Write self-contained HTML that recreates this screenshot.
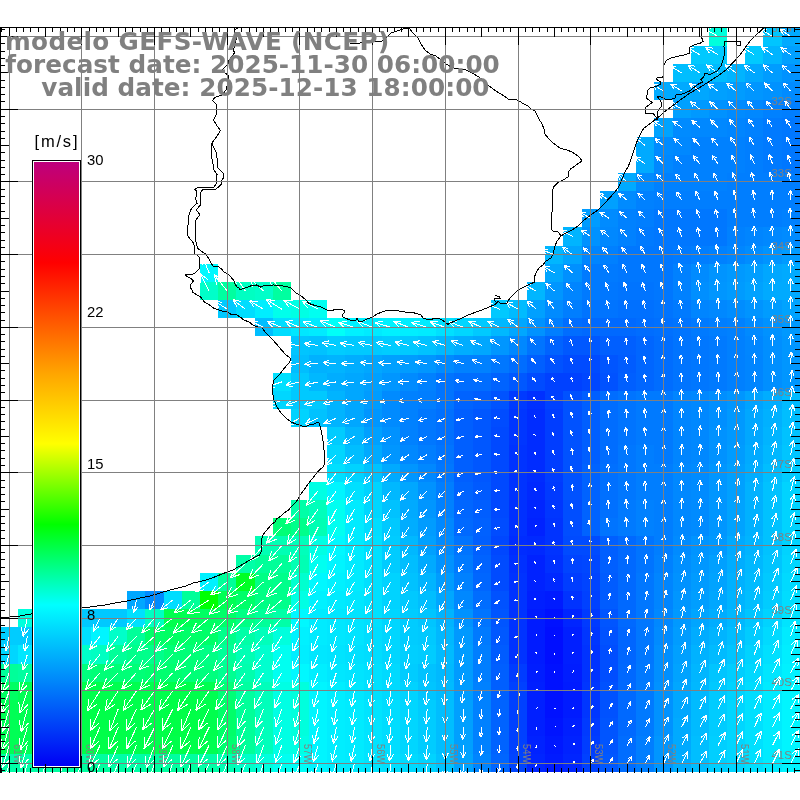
<!DOCTYPE html><html><head><meta charset="utf-8"><title>GEFS-WAVE</title><style>html,body{margin:0;padding:0;background:#fff;width:800px;height:800px;overflow:hidden}svg{display:block}</style></head><body><svg width="800" height="800" viewBox="0 0 800 800"><rect width="800" height="800" fill="#fff"/><g shape-rendering="crispEdges"><rect x="0" y="627" width="18" height="18" fill="#00ccff"/><rect x="0" y="645" width="18" height="19" fill="#00d6ff"/><rect x="0" y="664" width="18" height="18" fill="#00ff99"/><rect x="0" y="682" width="18" height="18" fill="#00ff63"/><rect x="0" y="700" width="18" height="18" fill="#00ff55"/><rect x="0" y="718" width="18" height="18" fill="#00ff55"/><rect x="0" y="736" width="18" height="18" fill="#00ff55"/><rect x="0" y="754" width="18" height="18" fill="#00ffa7"/><rect x="18" y="609" width="18" height="18" fill="#00ffdd"/><rect x="18" y="627" width="18" height="18" fill="#00ccff"/><rect x="18" y="645" width="18" height="19" fill="#00e7ff"/><rect x="18" y="664" width="18" height="18" fill="#00ffa0"/><rect x="18" y="682" width="18" height="18" fill="#00ff55"/><rect x="18" y="700" width="18" height="18" fill="#00ff53"/><rect x="18" y="718" width="18" height="18" fill="#00ff53"/><rect x="18" y="736" width="18" height="18" fill="#00ff53"/><rect x="18" y="754" width="18" height="18" fill="#00ffa7"/><rect x="36" y="609" width="19" height="18" fill="#00eeff"/><rect x="36" y="627" width="19" height="18" fill="#00d6ff"/><rect x="36" y="645" width="19" height="19" fill="#00ffff"/><rect x="36" y="664" width="19" height="18" fill="#00ff8b"/><rect x="36" y="682" width="19" height="18" fill="#00ff51"/><rect x="36" y="700" width="19" height="18" fill="#00ff4f"/><rect x="36" y="718" width="19" height="18" fill="#00ff4f"/><rect x="36" y="736" width="19" height="18" fill="#00ff51"/><rect x="36" y="754" width="19" height="18" fill="#00ffa7"/><rect x="55" y="609" width="18" height="18" fill="#00ddff"/><rect x="55" y="627" width="18" height="18" fill="#00ddff"/><rect x="55" y="645" width="18" height="19" fill="#00ffdd"/><rect x="55" y="664" width="18" height="18" fill="#00ff85"/><rect x="55" y="682" width="18" height="18" fill="#00ff4f"/><rect x="55" y="700" width="18" height="18" fill="#00ff4b"/><rect x="55" y="718" width="18" height="18" fill="#00ff4b"/><rect x="55" y="736" width="18" height="18" fill="#00ff4d"/><rect x="55" y="754" width="18" height="18" fill="#00ffa0"/><rect x="73" y="609" width="18" height="18" fill="#00c9ff"/><rect x="73" y="627" width="18" height="18" fill="#00e0ff"/><rect x="73" y="645" width="18" height="19" fill="#00ffc9"/><rect x="73" y="664" width="18" height="18" fill="#00ff7e"/><rect x="73" y="682" width="18" height="18" fill="#00ff4d"/><rect x="73" y="700" width="18" height="18" fill="#00ff49"/><rect x="73" y="718" width="18" height="18" fill="#00ff49"/><rect x="73" y="736" width="18" height="18" fill="#00ff4b"/><rect x="73" y="754" width="18" height="18" fill="#00ffa0"/><rect x="91" y="609" width="18" height="18" fill="#00c9ff"/><rect x="91" y="627" width="18" height="18" fill="#00f5ff"/><rect x="91" y="645" width="18" height="19" fill="#00ffc2"/><rect x="91" y="664" width="18" height="18" fill="#00ff77"/><rect x="91" y="682" width="18" height="18" fill="#00ff4d"/><rect x="91" y="700" width="18" height="18" fill="#00ff49"/><rect x="91" y="718" width="18" height="18" fill="#00ff49"/><rect x="91" y="736" width="18" height="18" fill="#00ff4b"/><rect x="91" y="754" width="18" height="18" fill="#00ffa0"/><rect x="109" y="609" width="18" height="18" fill="#00c9ff"/><rect x="109" y="627" width="18" height="18" fill="#00ffc9"/><rect x="109" y="645" width="18" height="19" fill="#00ff99"/><rect x="109" y="664" width="18" height="18" fill="#00ff77"/><rect x="109" y="682" width="18" height="18" fill="#00ff4f"/><rect x="109" y="700" width="18" height="18" fill="#00ff49"/><rect x="109" y="718" width="18" height="18" fill="#00ff49"/><rect x="109" y="736" width="18" height="18" fill="#00ff4b"/><rect x="109" y="754" width="18" height="18" fill="#00ffa7"/><rect x="127" y="591" width="18" height="18" fill="#00a7ff"/><rect x="127" y="609" width="18" height="18" fill="#00e0ff"/><rect x="127" y="627" width="18" height="18" fill="#00ff99"/><rect x="127" y="645" width="18" height="19" fill="#00ff8b"/><rect x="127" y="664" width="18" height="18" fill="#00ff77"/><rect x="127" y="682" width="18" height="18" fill="#00ff4f"/><rect x="127" y="700" width="18" height="18" fill="#00ff4b"/><rect x="127" y="718" width="18" height="18" fill="#00ff4b"/><rect x="127" y="736" width="18" height="18" fill="#00ff4d"/><rect x="127" y="754" width="18" height="18" fill="#00ffa7"/><rect x="145" y="591" width="19" height="18" fill="#008bff"/><rect x="145" y="609" width="19" height="18" fill="#00ffc2"/><rect x="145" y="627" width="19" height="18" fill="#00ff69"/><rect x="145" y="645" width="19" height="19" fill="#00ff8b"/><rect x="145" y="664" width="19" height="18" fill="#00ff70"/><rect x="145" y="682" width="19" height="18" fill="#00ff4d"/><rect x="145" y="700" width="19" height="18" fill="#00ff4b"/><rect x="145" y="718" width="19" height="18" fill="#00ff4b"/><rect x="145" y="736" width="19" height="18" fill="#00ff4d"/><rect x="145" y="754" width="19" height="18" fill="#00ffa0"/><rect x="164" y="591" width="18" height="18" fill="#00ddff"/><rect x="164" y="609" width="18" height="18" fill="#00ff4e"/><rect x="164" y="627" width="18" height="18" fill="#00ff63"/><rect x="164" y="645" width="18" height="19" fill="#00ff77"/><rect x="164" y="664" width="18" height="18" fill="#00ff70"/><rect x="164" y="682" width="18" height="18" fill="#00ff4b"/><rect x="164" y="700" width="18" height="18" fill="#00ff47"/><rect x="164" y="718" width="18" height="18" fill="#00ff47"/><rect x="164" y="736" width="18" height="18" fill="#00ff4b"/><rect x="164" y="754" width="18" height="18" fill="#00ffa0"/><rect x="182" y="591" width="18" height="18" fill="#00ff99"/><rect x="182" y="609" width="18" height="18" fill="#00ff55"/><rect x="182" y="627" width="18" height="18" fill="#00ff69"/><rect x="182" y="645" width="18" height="19" fill="#00ff77"/><rect x="182" y="664" width="18" height="18" fill="#00ff77"/><rect x="182" y="682" width="18" height="18" fill="#00ff4b"/><rect x="182" y="700" width="18" height="18" fill="#00ff47"/><rect x="182" y="718" width="18" height="18" fill="#00ff47"/><rect x="182" y="736" width="18" height="18" fill="#00ff4b"/><rect x="182" y="754" width="18" height="18" fill="#00ffa0"/><rect x="200" y="264" width="18" height="18" fill="#00f8ff"/><rect x="200" y="282" width="18" height="18" fill="#00ffc9"/><rect x="200" y="573" width="18" height="18" fill="#00f1ff"/><rect x="200" y="591" width="18" height="18" fill="#00ff03"/><rect x="200" y="609" width="18" height="18" fill="#00ff63"/><rect x="200" y="627" width="18" height="18" fill="#00ff69"/><rect x="200" y="645" width="18" height="19" fill="#00ff85"/><rect x="200" y="664" width="18" height="18" fill="#00ff7e"/><rect x="200" y="682" width="18" height="18" fill="#00ff51"/><rect x="200" y="700" width="18" height="18" fill="#00ff4d"/><rect x="200" y="718" width="18" height="18" fill="#00ff4d"/><rect x="200" y="736" width="18" height="18" fill="#00ff51"/><rect x="200" y="754" width="18" height="18" fill="#00ffa7"/><rect x="218" y="282" width="18" height="18" fill="#00ffa0"/><rect x="218" y="300" width="18" height="18" fill="#00c9ff"/><rect x="218" y="573" width="18" height="18" fill="#00ff99"/><rect x="218" y="591" width="18" height="18" fill="#00ff55"/><rect x="218" y="609" width="18" height="18" fill="#00ff69"/><rect x="218" y="627" width="18" height="18" fill="#00ff8b"/><rect x="218" y="645" width="18" height="19" fill="#00ff99"/><rect x="218" y="664" width="18" height="18" fill="#00ff92"/><rect x="218" y="682" width="18" height="18" fill="#00ff77"/><rect x="218" y="700" width="18" height="18" fill="#00ff69"/><rect x="218" y="718" width="18" height="18" fill="#00ff69"/><rect x="218" y="736" width="18" height="18" fill="#00ff70"/><rect x="218" y="754" width="18" height="18" fill="#00ffb4"/><rect x="236" y="282" width="19" height="18" fill="#00ffc2"/><rect x="236" y="300" width="19" height="18" fill="#00ddff"/><rect x="236" y="555" width="19" height="18" fill="#00ffa7"/><rect x="236" y="573" width="19" height="18" fill="#00ff25"/><rect x="236" y="591" width="19" height="18" fill="#00ff69"/><rect x="236" y="609" width="19" height="18" fill="#00ff85"/><rect x="236" y="627" width="19" height="18" fill="#00ffa7"/><rect x="236" y="645" width="19" height="19" fill="#00ffb4"/><rect x="236" y="664" width="19" height="18" fill="#00ffad"/><rect x="236" y="682" width="19" height="18" fill="#00ffa0"/><rect x="236" y="700" width="19" height="18" fill="#00ff99"/><rect x="236" y="718" width="19" height="18" fill="#00ff99"/><rect x="236" y="736" width="19" height="18" fill="#00ff99"/><rect x="236" y="754" width="19" height="18" fill="#00ffc9"/><rect x="255" y="282" width="18" height="18" fill="#00ffc9"/><rect x="255" y="300" width="18" height="18" fill="#00eeff"/><rect x="255" y="318" width="18" height="18" fill="#00beff"/><rect x="255" y="536" width="18" height="19" fill="#00ffb4"/><rect x="255" y="555" width="18" height="18" fill="#00ff99"/><rect x="255" y="573" width="18" height="18" fill="#00ff85"/><rect x="255" y="591" width="18" height="18" fill="#00ff85"/><rect x="255" y="609" width="18" height="18" fill="#00ff99"/><rect x="255" y="627" width="18" height="18" fill="#00ffbb"/><rect x="255" y="645" width="18" height="19" fill="#00ffcf"/><rect x="255" y="664" width="18" height="18" fill="#00ffcf"/><rect x="255" y="682" width="18" height="18" fill="#00ffbb"/><rect x="255" y="700" width="18" height="18" fill="#00ffbb"/><rect x="255" y="718" width="18" height="18" fill="#00ffbb"/><rect x="255" y="736" width="18" height="18" fill="#00ffbb"/><rect x="255" y="754" width="18" height="18" fill="#00ffdd"/><rect x="273" y="282" width="18" height="18" fill="#00ffa0"/><rect x="273" y="300" width="18" height="18" fill="#00ffeb"/><rect x="273" y="318" width="18" height="18" fill="#00ddff"/><rect x="273" y="373" width="18" height="18" fill="#00e0ff"/><rect x="273" y="391" width="18" height="18" fill="#00d6ff"/><rect x="273" y="518" width="18" height="18" fill="#00ff77"/><rect x="273" y="536" width="18" height="19" fill="#00ffb4"/><rect x="273" y="555" width="18" height="18" fill="#00ff99"/><rect x="273" y="573" width="18" height="18" fill="#00ff8b"/><rect x="273" y="591" width="18" height="18" fill="#00ff8b"/><rect x="273" y="609" width="18" height="18" fill="#00ffa7"/><rect x="273" y="627" width="18" height="18" fill="#00ffdd"/><rect x="273" y="645" width="18" height="19" fill="#00fff1"/><rect x="273" y="664" width="18" height="18" fill="#00fff1"/><rect x="273" y="682" width="18" height="18" fill="#00ffe4"/><rect x="273" y="700" width="18" height="18" fill="#00ffe4"/><rect x="273" y="718" width="18" height="18" fill="#00ffe4"/><rect x="273" y="736" width="18" height="18" fill="#00ffe4"/><rect x="273" y="754" width="18" height="18" fill="#00fff1"/><rect x="291" y="300" width="18" height="18" fill="#00ffe4"/><rect x="291" y="318" width="18" height="18" fill="#00e7ff"/><rect x="291" y="336" width="18" height="19" fill="#00c5ff"/><rect x="291" y="355" width="18" height="18" fill="#00beff"/><rect x="291" y="373" width="18" height="18" fill="#00c9ff"/><rect x="291" y="391" width="18" height="18" fill="#00c9ff"/><rect x="291" y="409" width="18" height="18" fill="#00d3ff"/><rect x="291" y="500" width="18" height="18" fill="#00ffa7"/><rect x="291" y="518" width="18" height="18" fill="#00ff8b"/><rect x="291" y="536" width="18" height="19" fill="#00ffbb"/><rect x="291" y="555" width="18" height="18" fill="#00ffb4"/><rect x="291" y="573" width="18" height="18" fill="#00ffcf"/><rect x="291" y="591" width="18" height="18" fill="#00ffe4"/><rect x="291" y="609" width="18" height="18" fill="#00f8ff"/><rect x="291" y="627" width="18" height="18" fill="#00f1ff"/><rect x="291" y="645" width="18" height="19" fill="#00eeff"/><rect x="291" y="664" width="18" height="18" fill="#00f8ff"/><rect x="291" y="682" width="18" height="18" fill="#00ffdd"/><rect x="291" y="700" width="18" height="18" fill="#00ffdd"/><rect x="291" y="718" width="18" height="18" fill="#00ffdd"/><rect x="291" y="736" width="18" height="18" fill="#00ffe4"/><rect x="291" y="754" width="18" height="18" fill="#00fff8"/><rect x="309" y="300" width="18" height="18" fill="#00fff1"/><rect x="309" y="318" width="18" height="18" fill="#00ebff"/><rect x="309" y="336" width="18" height="19" fill="#00c2ff"/><rect x="309" y="355" width="18" height="18" fill="#00b1ff"/><rect x="309" y="373" width="18" height="18" fill="#00b8ff"/><rect x="309" y="391" width="18" height="18" fill="#00c9ff"/><rect x="309" y="409" width="18" height="18" fill="#00c2ff"/><rect x="309" y="482" width="18" height="18" fill="#00ffe4"/><rect x="309" y="500" width="18" height="18" fill="#00ffbb"/><rect x="309" y="518" width="18" height="18" fill="#00ffb4"/><rect x="309" y="536" width="18" height="19" fill="#00ffe4"/><rect x="309" y="555" width="18" height="18" fill="#00fff1"/><rect x="309" y="573" width="18" height="18" fill="#00f8ff"/><rect x="309" y="591" width="18" height="18" fill="#00f1ff"/><rect x="309" y="609" width="18" height="18" fill="#00ebff"/><rect x="309" y="627" width="18" height="18" fill="#00ebff"/><rect x="309" y="645" width="18" height="19" fill="#00e7ff"/><rect x="309" y="664" width="18" height="18" fill="#00eeff"/><rect x="309" y="682" width="18" height="18" fill="#00f5ff"/><rect x="309" y="700" width="18" height="18" fill="#00f5ff"/><rect x="309" y="718" width="18" height="18" fill="#00f5ff"/><rect x="309" y="736" width="18" height="18" fill="#00f5ff"/><rect x="309" y="754" width="18" height="18" fill="#00f5ff"/><rect x="327" y="318" width="18" height="18" fill="#00fff8"/><rect x="327" y="336" width="18" height="19" fill="#00ccff"/><rect x="327" y="355" width="18" height="18" fill="#00b4ff"/><rect x="327" y="373" width="18" height="18" fill="#00adff"/><rect x="327" y="391" width="18" height="18" fill="#00b4ff"/><rect x="327" y="409" width="18" height="18" fill="#00b4ff"/><rect x="327" y="427" width="18" height="18" fill="#00ccff"/><rect x="327" y="445" width="18" height="19" fill="#00d6ff"/><rect x="327" y="464" width="18" height="18" fill="#00e0ff"/><rect x="327" y="482" width="18" height="18" fill="#00f5ff"/><rect x="327" y="500" width="18" height="18" fill="#00fff1"/><rect x="327" y="518" width="18" height="18" fill="#00fff1"/><rect x="327" y="536" width="18" height="19" fill="#00f8ff"/><rect x="327" y="555" width="18" height="18" fill="#00f5ff"/><rect x="327" y="573" width="18" height="18" fill="#00f1ff"/><rect x="327" y="591" width="18" height="18" fill="#00ebff"/><rect x="327" y="609" width="18" height="18" fill="#00e7ff"/><rect x="327" y="627" width="18" height="18" fill="#00e7ff"/><rect x="327" y="645" width="18" height="19" fill="#00e4ff"/><rect x="327" y="664" width="18" height="18" fill="#00e7ff"/><rect x="327" y="682" width="18" height="18" fill="#00eeff"/><rect x="327" y="700" width="18" height="18" fill="#00eeff"/><rect x="327" y="718" width="18" height="18" fill="#00eeff"/><rect x="327" y="736" width="18" height="18" fill="#00eeff"/><rect x="327" y="754" width="18" height="18" fill="#00eeff"/><rect x="345" y="318" width="19" height="18" fill="#00f1ff"/><rect x="345" y="336" width="19" height="19" fill="#00c9ff"/><rect x="345" y="355" width="19" height="18" fill="#00adff"/><rect x="345" y="373" width="19" height="18" fill="#00a7ff"/><rect x="345" y="391" width="19" height="18" fill="#00a7ff"/><rect x="345" y="409" width="19" height="18" fill="#00a7ff"/><rect x="345" y="427" width="19" height="18" fill="#00b4ff"/><rect x="345" y="445" width="19" height="19" fill="#00beff"/><rect x="345" y="464" width="19" height="18" fill="#00d3ff"/><rect x="345" y="482" width="19" height="18" fill="#00e0ff"/><rect x="345" y="500" width="19" height="18" fill="#00ebff"/><rect x="345" y="518" width="19" height="18" fill="#00ebff"/><rect x="345" y="536" width="19" height="19" fill="#00ebff"/><rect x="345" y="555" width="19" height="18" fill="#00ebff"/><rect x="345" y="573" width="19" height="18" fill="#00ebff"/><rect x="345" y="591" width="19" height="18" fill="#00e7ff"/><rect x="345" y="609" width="19" height="18" fill="#00e4ff"/><rect x="345" y="627" width="19" height="18" fill="#00e4ff"/><rect x="345" y="645" width="19" height="19" fill="#00e0ff"/><rect x="345" y="664" width="19" height="18" fill="#00e4ff"/><rect x="345" y="682" width="19" height="18" fill="#00e7ff"/><rect x="345" y="700" width="19" height="18" fill="#00ebff"/><rect x="345" y="718" width="19" height="18" fill="#00ebff"/><rect x="345" y="736" width="19" height="18" fill="#00ebff"/><rect x="345" y="754" width="19" height="18" fill="#00ebff"/><rect x="364" y="318" width="18" height="18" fill="#00ebff"/><rect x="364" y="336" width="18" height="19" fill="#00c9ff"/><rect x="364" y="355" width="18" height="18" fill="#00a7ff"/><rect x="364" y="373" width="18" height="18" fill="#00a0ff"/><rect x="364" y="391" width="18" height="18" fill="#009cff"/><rect x="364" y="409" width="18" height="18" fill="#0096ff"/><rect x="364" y="427" width="18" height="18" fill="#00a0ff"/><rect x="364" y="445" width="18" height="19" fill="#00aaff"/><rect x="364" y="464" width="18" height="18" fill="#00c2ff"/><rect x="364" y="482" width="18" height="18" fill="#00d3ff"/><rect x="364" y="500" width="18" height="18" fill="#00d6ff"/><rect x="364" y="518" width="18" height="18" fill="#00ddff"/><rect x="364" y="536" width="18" height="19" fill="#00e0ff"/><rect x="364" y="555" width="18" height="18" fill="#00e0ff"/><rect x="364" y="573" width="18" height="18" fill="#00e0ff"/><rect x="364" y="591" width="18" height="18" fill="#00e0ff"/><rect x="364" y="609" width="18" height="18" fill="#00e0ff"/><rect x="364" y="627" width="18" height="18" fill="#00ddff"/><rect x="364" y="645" width="18" height="19" fill="#00ddff"/><rect x="364" y="664" width="18" height="18" fill="#00e0ff"/><rect x="364" y="682" width="18" height="18" fill="#00e0ff"/><rect x="364" y="700" width="18" height="18" fill="#00e4ff"/><rect x="364" y="718" width="18" height="18" fill="#00e4ff"/><rect x="364" y="736" width="18" height="18" fill="#00e4ff"/><rect x="364" y="754" width="18" height="18" fill="#00e4ff"/><rect x="382" y="318" width="18" height="18" fill="#00f1ff"/><rect x="382" y="336" width="18" height="19" fill="#00ccff"/><rect x="382" y="355" width="18" height="18" fill="#00a0ff"/><rect x="382" y="373" width="18" height="18" fill="#0096ff"/><rect x="382" y="391" width="18" height="18" fill="#008bff"/><rect x="382" y="409" width="18" height="18" fill="#008bff"/><rect x="382" y="427" width="18" height="18" fill="#0092ff"/><rect x="382" y="445" width="18" height="19" fill="#0096ff"/><rect x="382" y="464" width="18" height="18" fill="#00aaff"/><rect x="382" y="482" width="18" height="18" fill="#00b8ff"/><rect x="382" y="500" width="18" height="18" fill="#00c2ff"/><rect x="382" y="518" width="18" height="18" fill="#00c9ff"/><rect x="382" y="536" width="18" height="19" fill="#00ccff"/><rect x="382" y="555" width="18" height="18" fill="#00ccff"/><rect x="382" y="573" width="18" height="18" fill="#00d3ff"/><rect x="382" y="591" width="18" height="18" fill="#00d3ff"/><rect x="382" y="609" width="18" height="18" fill="#00d6ff"/><rect x="382" y="627" width="18" height="18" fill="#00d6ff"/><rect x="382" y="645" width="18" height="19" fill="#00d6ff"/><rect x="382" y="664" width="18" height="18" fill="#00daff"/><rect x="382" y="682" width="18" height="18" fill="#00daff"/><rect x="382" y="700" width="18" height="18" fill="#00ddff"/><rect x="382" y="718" width="18" height="18" fill="#00ddff"/><rect x="382" y="736" width="18" height="18" fill="#00ddff"/><rect x="382" y="754" width="18" height="18" fill="#00e0ff"/><rect x="400" y="318" width="18" height="18" fill="#00eeff"/><rect x="400" y="336" width="18" height="19" fill="#00c9ff"/><rect x="400" y="355" width="18" height="18" fill="#009cff"/><rect x="400" y="373" width="18" height="18" fill="#008bff"/><rect x="400" y="391" width="18" height="18" fill="#0081ff"/><rect x="400" y="409" width="18" height="18" fill="#0081ff"/><rect x="400" y="427" width="18" height="18" fill="#0081ff"/><rect x="400" y="445" width="18" height="19" fill="#0088ff"/><rect x="400" y="464" width="18" height="18" fill="#0096ff"/><rect x="400" y="482" width="18" height="18" fill="#00a7ff"/><rect x="400" y="500" width="18" height="18" fill="#00aaff"/><rect x="400" y="518" width="18" height="18" fill="#00adff"/><rect x="400" y="536" width="18" height="19" fill="#00b8ff"/><rect x="400" y="555" width="18" height="18" fill="#00beff"/><rect x="400" y="573" width="18" height="18" fill="#00c2ff"/><rect x="400" y="591" width="18" height="18" fill="#00c9ff"/><rect x="400" y="609" width="18" height="18" fill="#00ccff"/><rect x="400" y="627" width="18" height="18" fill="#00ccff"/><rect x="400" y="645" width="18" height="19" fill="#00cfff"/><rect x="400" y="664" width="18" height="18" fill="#00ccff"/><rect x="400" y="682" width="18" height="18" fill="#00d3ff"/><rect x="400" y="700" width="18" height="18" fill="#00d6ff"/><rect x="400" y="718" width="18" height="18" fill="#00d6ff"/><rect x="400" y="736" width="18" height="18" fill="#00d6ff"/><rect x="400" y="754" width="18" height="18" fill="#00daff"/><rect x="418" y="318" width="18" height="18" fill="#00ebff"/><rect x="418" y="336" width="18" height="19" fill="#00c2ff"/><rect x="418" y="355" width="18" height="18" fill="#0096ff"/><rect x="418" y="373" width="18" height="18" fill="#0081ff"/><rect x="418" y="391" width="18" height="18" fill="#007eff"/><rect x="418" y="409" width="18" height="18" fill="#0077ff"/><rect x="418" y="427" width="18" height="18" fill="#0077ff"/><rect x="418" y="445" width="18" height="19" fill="#007eff"/><rect x="418" y="464" width="18" height="18" fill="#0088ff"/><rect x="418" y="482" width="18" height="18" fill="#0092ff"/><rect x="418" y="500" width="18" height="18" fill="#0096ff"/><rect x="418" y="518" width="18" height="18" fill="#009cff"/><rect x="418" y="536" width="18" height="19" fill="#00a0ff"/><rect x="418" y="555" width="18" height="18" fill="#00aaff"/><rect x="418" y="573" width="18" height="18" fill="#00b4ff"/><rect x="418" y="591" width="18" height="18" fill="#00beff"/><rect x="418" y="609" width="18" height="18" fill="#00c5ff"/><rect x="418" y="627" width="18" height="18" fill="#00c9ff"/><rect x="418" y="645" width="18" height="19" fill="#00ccff"/><rect x="418" y="664" width="18" height="18" fill="#00c2ff"/><rect x="418" y="682" width="18" height="18" fill="#00c5ff"/><rect x="418" y="700" width="18" height="18" fill="#00ccff"/><rect x="418" y="718" width="18" height="18" fill="#00ccff"/><rect x="418" y="736" width="18" height="18" fill="#00ccff"/><rect x="418" y="754" width="18" height="18" fill="#00d3ff"/><rect x="436" y="318" width="18" height="18" fill="#00e0ff"/><rect x="436" y="336" width="18" height="19" fill="#00b8ff"/><rect x="436" y="355" width="18" height="18" fill="#008bff"/><rect x="436" y="373" width="18" height="18" fill="#0074ff"/><rect x="436" y="391" width="18" height="18" fill="#0074ff"/><rect x="436" y="409" width="18" height="18" fill="#0070ff"/><rect x="436" y="427" width="18" height="18" fill="#0070ff"/><rect x="436" y="445" width="18" height="19" fill="#0074ff"/><rect x="436" y="464" width="18" height="18" fill="#0077ff"/><rect x="436" y="482" width="18" height="18" fill="#007eff"/><rect x="436" y="500" width="18" height="18" fill="#0081ff"/><rect x="436" y="518" width="18" height="18" fill="#0088ff"/><rect x="436" y="536" width="18" height="19" fill="#008bff"/><rect x="436" y="555" width="18" height="18" fill="#0092ff"/><rect x="436" y="573" width="18" height="18" fill="#009cff"/><rect x="436" y="591" width="18" height="18" fill="#00a7ff"/><rect x="436" y="609" width="18" height="18" fill="#00b4ff"/><rect x="436" y="627" width="18" height="18" fill="#00b8ff"/><rect x="436" y="645" width="18" height="19" fill="#00bbff"/><rect x="436" y="664" width="18" height="18" fill="#00b9ff"/><rect x="436" y="682" width="18" height="18" fill="#00bbff"/><rect x="436" y="700" width="18" height="18" fill="#00beff"/><rect x="436" y="718" width="18" height="18" fill="#00beff"/><rect x="436" y="736" width="18" height="18" fill="#00beff"/><rect x="436" y="754" width="18" height="18" fill="#00c2ff"/><rect x="454" y="318" width="19" height="18" fill="#00d6ff"/><rect x="454" y="336" width="19" height="19" fill="#00adff"/><rect x="454" y="355" width="19" height="18" fill="#0081ff"/><rect x="454" y="373" width="19" height="18" fill="#006dff"/><rect x="454" y="391" width="19" height="18" fill="#0063ff"/><rect x="454" y="409" width="19" height="18" fill="#005fff"/><rect x="454" y="427" width="19" height="18" fill="#005fff"/><rect x="454" y="445" width="19" height="19" fill="#005fff"/><rect x="454" y="464" width="19" height="18" fill="#005fff"/><rect x="454" y="482" width="19" height="18" fill="#0063ff"/><rect x="454" y="500" width="19" height="18" fill="#0066ff"/><rect x="454" y="518" width="19" height="18" fill="#0069ff"/><rect x="454" y="536" width="19" height="19" fill="#0074ff"/><rect x="454" y="555" width="19" height="18" fill="#007aff"/><rect x="454" y="573" width="19" height="18" fill="#0081ff"/><rect x="454" y="591" width="19" height="18" fill="#0088ff"/><rect x="454" y="609" width="19" height="18" fill="#0092ff"/><rect x="454" y="627" width="19" height="18" fill="#0099ff"/><rect x="454" y="645" width="19" height="19" fill="#009cff"/><rect x="454" y="664" width="19" height="18" fill="#009bff"/><rect x="454" y="682" width="19" height="18" fill="#009cff"/><rect x="454" y="700" width="19" height="18" fill="#00a0ff"/><rect x="454" y="718" width="19" height="18" fill="#00a0ff"/><rect x="454" y="736" width="19" height="18" fill="#00a0ff"/><rect x="454" y="754" width="19" height="18" fill="#00a3ff"/><rect x="473" y="318" width="18" height="18" fill="#00c9ff"/><rect x="473" y="336" width="18" height="19" fill="#00a7ff"/><rect x="473" y="355" width="18" height="18" fill="#0081ff"/><rect x="473" y="373" width="18" height="18" fill="#006dff"/><rect x="473" y="391" width="18" height="18" fill="#005eff"/><rect x="473" y="409" width="18" height="18" fill="#0057ff"/><rect x="473" y="427" width="18" height="18" fill="#0057ff"/><rect x="473" y="445" width="18" height="19" fill="#0057ff"/><rect x="473" y="464" width="18" height="18" fill="#0057ff"/><rect x="473" y="482" width="18" height="18" fill="#005aff"/><rect x="473" y="500" width="18" height="18" fill="#005eff"/><rect x="473" y="518" width="18" height="18" fill="#0061ff"/><rect x="473" y="536" width="18" height="19" fill="#005fff"/><rect x="473" y="555" width="18" height="18" fill="#0063ff"/><rect x="473" y="573" width="18" height="18" fill="#0066ff"/><rect x="473" y="591" width="18" height="18" fill="#006dff"/><rect x="473" y="609" width="18" height="18" fill="#0074ff"/><rect x="473" y="627" width="18" height="18" fill="#007aff"/><rect x="473" y="645" width="18" height="19" fill="#007eff"/><rect x="473" y="664" width="18" height="18" fill="#007eff"/><rect x="473" y="682" width="18" height="18" fill="#0081ff"/><rect x="473" y="700" width="18" height="18" fill="#0081ff"/><rect x="473" y="718" width="18" height="18" fill="#0081ff"/><rect x="473" y="736" width="18" height="18" fill="#0081ff"/><rect x="473" y="754" width="18" height="18" fill="#0085ff"/><rect x="491" y="300" width="18" height="18" fill="#00c9ff"/><rect x="491" y="318" width="18" height="18" fill="#00b8ff"/><rect x="491" y="336" width="18" height="19" fill="#0096ff"/><rect x="491" y="355" width="18" height="18" fill="#0077ff"/><rect x="491" y="373" width="18" height="18" fill="#0063ff"/><rect x="491" y="391" width="18" height="18" fill="#0053ff"/><rect x="491" y="409" width="18" height="18" fill="#004cff"/><rect x="491" y="427" width="18" height="18" fill="#0049ff"/><rect x="491" y="445" width="18" height="19" fill="#0049ff"/><rect x="491" y="464" width="18" height="18" fill="#0049ff"/><rect x="491" y="482" width="18" height="18" fill="#0049ff"/><rect x="491" y="500" width="18" height="18" fill="#0049ff"/><rect x="491" y="518" width="18" height="18" fill="#004cff"/><rect x="491" y="536" width="18" height="19" fill="#0047ff"/><rect x="491" y="555" width="18" height="18" fill="#004bff"/><rect x="491" y="573" width="18" height="18" fill="#004bff"/><rect x="491" y="591" width="18" height="18" fill="#0052ff"/><rect x="491" y="609" width="18" height="18" fill="#0055ff"/><rect x="491" y="627" width="18" height="18" fill="#0058ff"/><rect x="491" y="645" width="18" height="19" fill="#005cff"/><rect x="491" y="664" width="18" height="18" fill="#005fff"/><rect x="491" y="682" width="18" height="18" fill="#005fff"/><rect x="491" y="700" width="18" height="18" fill="#0063ff"/><rect x="491" y="718" width="18" height="18" fill="#0063ff"/><rect x="491" y="736" width="18" height="18" fill="#0063ff"/><rect x="491" y="754" width="18" height="18" fill="#0066ff"/><rect x="509" y="300" width="18" height="18" fill="#00bbff"/><rect x="509" y="318" width="18" height="18" fill="#00a7ff"/><rect x="509" y="336" width="18" height="19" fill="#0088ff"/><rect x="509" y="355" width="18" height="18" fill="#006dff"/><rect x="509" y="373" width="18" height="18" fill="#0058ff"/><rect x="509" y="391" width="18" height="18" fill="#003aff"/><rect x="509" y="409" width="18" height="18" fill="#0036ff"/><rect x="509" y="427" width="18" height="18" fill="#0036ff"/><rect x="509" y="445" width="18" height="19" fill="#0033ff"/><rect x="509" y="464" width="18" height="18" fill="#0033ff"/><rect x="509" y="482" width="18" height="18" fill="#0033ff"/><rect x="509" y="500" width="18" height="18" fill="#0030ff"/><rect x="509" y="518" width="18" height="18" fill="#0030ff"/><rect x="509" y="536" width="18" height="19" fill="#002cff"/><rect x="509" y="555" width="18" height="18" fill="#0030ff"/><rect x="509" y="573" width="18" height="18" fill="#0033ff"/><rect x="509" y="591" width="18" height="18" fill="#0033ff"/><rect x="509" y="609" width="18" height="18" fill="#0033ff"/><rect x="509" y="627" width="18" height="18" fill="#0033ff"/><rect x="509" y="645" width="18" height="19" fill="#0033ff"/><rect x="509" y="664" width="18" height="18" fill="#003cff"/><rect x="509" y="682" width="18" height="18" fill="#0041ff"/><rect x="509" y="700" width="18" height="18" fill="#0041ff"/><rect x="509" y="718" width="18" height="18" fill="#0041ff"/><rect x="509" y="736" width="18" height="18" fill="#0041ff"/><rect x="509" y="754" width="18" height="18" fill="#0044ff"/><rect x="527" y="282" width="18" height="18" fill="#00b6ff"/><rect x="527" y="300" width="18" height="18" fill="#00a0ff"/><rect x="527" y="318" width="18" height="18" fill="#0092ff"/><rect x="527" y="336" width="18" height="19" fill="#0074ff"/><rect x="527" y="355" width="18" height="18" fill="#005fff"/><rect x="527" y="373" width="18" height="18" fill="#004bff"/><rect x="527" y="391" width="18" height="18" fill="#0030ff"/><rect x="527" y="409" width="18" height="18" fill="#002cff"/><rect x="527" y="427" width="18" height="18" fill="#002cff"/><rect x="527" y="445" width="18" height="19" fill="#002cff"/><rect x="527" y="464" width="18" height="18" fill="#002cff"/><rect x="527" y="482" width="18" height="18" fill="#0029ff"/><rect x="527" y="500" width="18" height="18" fill="#0025ff"/><rect x="527" y="518" width="18" height="18" fill="#0022ff"/><rect x="527" y="536" width="18" height="19" fill="#0029ff"/><rect x="527" y="555" width="18" height="18" fill="#0022ff"/><rect x="527" y="573" width="18" height="18" fill="#0022ff"/><rect x="527" y="591" width="18" height="18" fill="#001fff"/><rect x="527" y="609" width="18" height="18" fill="#001bff"/><rect x="527" y="627" width="18" height="18" fill="#001bff"/><rect x="527" y="645" width="18" height="19" fill="#001bff"/><rect x="527" y="664" width="18" height="18" fill="#001dff"/><rect x="527" y="682" width="18" height="18" fill="#001fff"/><rect x="527" y="700" width="18" height="18" fill="#001fff"/><rect x="527" y="718" width="18" height="18" fill="#001fff"/><rect x="527" y="736" width="18" height="18" fill="#0022ff"/><rect x="527" y="754" width="18" height="18" fill="#0025ff"/><rect x="545" y="246" width="18" height="18" fill="#00b6ff"/><rect x="545" y="264" width="18" height="18" fill="#00a5ff"/><rect x="545" y="282" width="18" height="18" fill="#0096ff"/><rect x="545" y="300" width="18" height="18" fill="#008bff"/><rect x="545" y="318" width="18" height="18" fill="#007eff"/><rect x="545" y="336" width="18" height="19" fill="#0063ff"/><rect x="545" y="355" width="18" height="18" fill="#0052ff"/><rect x="545" y="373" width="18" height="18" fill="#0041ff"/><rect x="545" y="391" width="18" height="18" fill="#0041ff"/><rect x="545" y="409" width="18" height="18" fill="#003dff"/><rect x="545" y="427" width="18" height="18" fill="#003dff"/><rect x="545" y="445" width="18" height="19" fill="#003dff"/><rect x="545" y="464" width="18" height="18" fill="#003dff"/><rect x="545" y="482" width="18" height="18" fill="#003aff"/><rect x="545" y="500" width="18" height="18" fill="#0036ff"/><rect x="545" y="518" width="18" height="18" fill="#0033ff"/><rect x="545" y="536" width="18" height="19" fill="#0033ff"/><rect x="545" y="555" width="18" height="18" fill="#0030ff"/><rect x="545" y="573" width="18" height="18" fill="#0029ff"/><rect x="545" y="591" width="18" height="18" fill="#001bff"/><rect x="545" y="609" width="18" height="18" fill="#0011ff"/><rect x="545" y="627" width="18" height="18" fill="#000eff"/><rect x="545" y="645" width="18" height="19" fill="#000eff"/><rect x="545" y="664" width="18" height="18" fill="#0011ff"/><rect x="545" y="682" width="18" height="18" fill="#0011ff"/><rect x="545" y="700" width="18" height="18" fill="#0011ff"/><rect x="545" y="718" width="18" height="18" fill="#0014ff"/><rect x="545" y="736" width="18" height="18" fill="#0018ff"/><rect x="545" y="754" width="18" height="18" fill="#001bff"/><rect x="563" y="227" width="19" height="19" fill="#00b4ff"/><rect x="563" y="246" width="19" height="18" fill="#00a3ff"/><rect x="563" y="264" width="19" height="18" fill="#0090ff"/><rect x="563" y="282" width="19" height="18" fill="#0085ff"/><rect x="563" y="300" width="19" height="18" fill="#007eff"/><rect x="563" y="318" width="19" height="18" fill="#006dff"/><rect x="563" y="336" width="19" height="19" fill="#0058ff"/><rect x="563" y="355" width="19" height="18" fill="#004bff"/><rect x="563" y="373" width="19" height="18" fill="#0041ff"/><rect x="563" y="391" width="19" height="18" fill="#0052ff"/><rect x="563" y="409" width="19" height="18" fill="#0052ff"/><rect x="563" y="427" width="19" height="18" fill="#0052ff"/><rect x="563" y="445" width="19" height="19" fill="#0052ff"/><rect x="563" y="464" width="19" height="18" fill="#0052ff"/><rect x="563" y="482" width="19" height="18" fill="#0052ff"/><rect x="563" y="500" width="19" height="18" fill="#004eff"/><rect x="563" y="518" width="19" height="18" fill="#004eff"/><rect x="563" y="536" width="19" height="19" fill="#004bff"/><rect x="563" y="555" width="19" height="18" fill="#0044ff"/><rect x="563" y="573" width="19" height="18" fill="#003dff"/><rect x="563" y="591" width="19" height="18" fill="#0033ff"/><rect x="563" y="609" width="19" height="18" fill="#0025ff"/><rect x="563" y="627" width="19" height="18" fill="#001fff"/><rect x="563" y="645" width="19" height="19" fill="#001fff"/><rect x="563" y="664" width="19" height="18" fill="#001dff"/><rect x="563" y="682" width="19" height="18" fill="#001bff"/><rect x="563" y="700" width="19" height="18" fill="#001bff"/><rect x="563" y="718" width="19" height="18" fill="#001fff"/><rect x="563" y="736" width="19" height="18" fill="#0022ff"/><rect x="563" y="754" width="19" height="18" fill="#0025ff"/><rect x="582" y="209" width="18" height="18" fill="#009cff"/><rect x="582" y="227" width="18" height="19" fill="#0092ff"/><rect x="582" y="246" width="18" height="18" fill="#0085ff"/><rect x="582" y="264" width="18" height="18" fill="#007aff"/><rect x="582" y="282" width="18" height="18" fill="#007aff"/><rect x="582" y="300" width="18" height="18" fill="#0074ff"/><rect x="582" y="318" width="18" height="18" fill="#0069ff"/><rect x="582" y="336" width="18" height="19" fill="#0058ff"/><rect x="582" y="355" width="18" height="18" fill="#004bff"/><rect x="582" y="373" width="18" height="18" fill="#0047ff"/><rect x="582" y="391" width="18" height="18" fill="#005fff"/><rect x="582" y="409" width="18" height="18" fill="#005fff"/><rect x="582" y="427" width="18" height="18" fill="#005fff"/><rect x="582" y="445" width="18" height="19" fill="#005fff"/><rect x="582" y="464" width="18" height="18" fill="#0063ff"/><rect x="582" y="482" width="18" height="18" fill="#0063ff"/><rect x="582" y="500" width="18" height="18" fill="#0063ff"/><rect x="582" y="518" width="18" height="18" fill="#0063ff"/><rect x="582" y="536" width="18" height="19" fill="#004bff"/><rect x="582" y="555" width="18" height="18" fill="#0047ff"/><rect x="582" y="573" width="18" height="18" fill="#0044ff"/><rect x="582" y="591" width="18" height="18" fill="#0041ff"/><rect x="582" y="609" width="18" height="18" fill="#003aff"/><rect x="582" y="627" width="18" height="18" fill="#0036ff"/><rect x="582" y="645" width="18" height="19" fill="#0033ff"/><rect x="582" y="664" width="18" height="18" fill="#0033ff"/><rect x="582" y="682" width="18" height="18" fill="#0036ff"/><rect x="582" y="700" width="18" height="18" fill="#0036ff"/><rect x="582" y="718" width="18" height="18" fill="#003aff"/><rect x="582" y="736" width="18" height="18" fill="#003dff"/><rect x="582" y="754" width="18" height="18" fill="#0041ff"/><rect x="600" y="191" width="18" height="18" fill="#00a0ff"/><rect x="600" y="209" width="18" height="18" fill="#008bff"/><rect x="600" y="227" width="18" height="19" fill="#0088ff"/><rect x="600" y="246" width="18" height="18" fill="#0080ff"/><rect x="600" y="264" width="18" height="18" fill="#007aff"/><rect x="600" y="282" width="18" height="18" fill="#0077ff"/><rect x="600" y="300" width="18" height="18" fill="#0074ff"/><rect x="600" y="318" width="18" height="18" fill="#0069ff"/><rect x="600" y="336" width="18" height="19" fill="#005fff"/><rect x="600" y="355" width="18" height="18" fill="#0055ff"/><rect x="600" y="373" width="18" height="18" fill="#0052ff"/><rect x="600" y="391" width="18" height="18" fill="#006dff"/><rect x="600" y="409" width="18" height="18" fill="#006dff"/><rect x="600" y="427" width="18" height="18" fill="#006dff"/><rect x="600" y="445" width="18" height="19" fill="#006dff"/><rect x="600" y="464" width="18" height="18" fill="#0070ff"/><rect x="600" y="482" width="18" height="18" fill="#0070ff"/><rect x="600" y="500" width="18" height="18" fill="#0070ff"/><rect x="600" y="518" width="18" height="18" fill="#0074ff"/><rect x="600" y="536" width="18" height="19" fill="#005fff"/><rect x="600" y="555" width="18" height="18" fill="#005fff"/><rect x="600" y="573" width="18" height="18" fill="#005cff"/><rect x="600" y="591" width="18" height="18" fill="#005cff"/><rect x="600" y="609" width="18" height="18" fill="#0055ff"/><rect x="600" y="627" width="18" height="18" fill="#0052ff"/><rect x="600" y="645" width="18" height="19" fill="#004eff"/><rect x="600" y="664" width="18" height="18" fill="#004eff"/><rect x="600" y="682" width="18" height="18" fill="#0052ff"/><rect x="600" y="700" width="18" height="18" fill="#0052ff"/><rect x="600" y="718" width="18" height="18" fill="#0055ff"/><rect x="600" y="736" width="18" height="18" fill="#0055ff"/><rect x="600" y="754" width="18" height="18" fill="#0058ff"/><rect x="618" y="173" width="18" height="18" fill="#00aaff"/><rect x="618" y="191" width="18" height="18" fill="#008bff"/><rect x="618" y="209" width="18" height="18" fill="#0081ff"/><rect x="618" y="227" width="18" height="19" fill="#0081ff"/><rect x="618" y="246" width="18" height="18" fill="#0077ff"/><rect x="618" y="264" width="18" height="18" fill="#0077ff"/><rect x="618" y="282" width="18" height="18" fill="#0074ff"/><rect x="618" y="300" width="18" height="18" fill="#0070ff"/><rect x="618" y="318" width="18" height="18" fill="#0069ff"/><rect x="618" y="336" width="18" height="19" fill="#005fff"/><rect x="618" y="355" width="18" height="18" fill="#005cff"/><rect x="618" y="373" width="18" height="18" fill="#005fff"/><rect x="618" y="391" width="18" height="18" fill="#0074ff"/><rect x="618" y="409" width="18" height="18" fill="#0074ff"/><rect x="618" y="427" width="18" height="18" fill="#0074ff"/><rect x="618" y="445" width="18" height="19" fill="#0077ff"/><rect x="618" y="464" width="18" height="18" fill="#0077ff"/><rect x="618" y="482" width="18" height="18" fill="#0077ff"/><rect x="618" y="500" width="18" height="18" fill="#007aff"/><rect x="618" y="518" width="18" height="18" fill="#007aff"/><rect x="618" y="536" width="18" height="19" fill="#0069ff"/><rect x="618" y="555" width="18" height="18" fill="#0069ff"/><rect x="618" y="573" width="18" height="18" fill="#0069ff"/><rect x="618" y="591" width="18" height="18" fill="#0069ff"/><rect x="618" y="609" width="18" height="18" fill="#0069ff"/><rect x="618" y="627" width="18" height="18" fill="#0066ff"/><rect x="618" y="645" width="18" height="19" fill="#0066ff"/><rect x="618" y="664" width="18" height="18" fill="#0068ff"/><rect x="618" y="682" width="18" height="18" fill="#0069ff"/><rect x="618" y="700" width="18" height="18" fill="#0069ff"/><rect x="618" y="718" width="18" height="18" fill="#0069ff"/><rect x="618" y="736" width="18" height="18" fill="#006dff"/><rect x="618" y="754" width="18" height="18" fill="#006dff"/><rect x="636" y="137" width="18" height="18" fill="#00aaff"/><rect x="636" y="155" width="18" height="18" fill="#00aaff"/><rect x="636" y="173" width="18" height="18" fill="#008bff"/><rect x="636" y="191" width="18" height="18" fill="#0081ff"/><rect x="636" y="209" width="18" height="18" fill="#007eff"/><rect x="636" y="227" width="18" height="19" fill="#007aff"/><rect x="636" y="246" width="18" height="18" fill="#0077ff"/><rect x="636" y="264" width="18" height="18" fill="#0077ff"/><rect x="636" y="282" width="18" height="18" fill="#0074ff"/><rect x="636" y="300" width="18" height="18" fill="#0070ff"/><rect x="636" y="318" width="18" height="18" fill="#006dff"/><rect x="636" y="336" width="18" height="19" fill="#0066ff"/><rect x="636" y="355" width="18" height="18" fill="#0066ff"/><rect x="636" y="373" width="18" height="18" fill="#0066ff"/><rect x="636" y="391" width="18" height="18" fill="#007aff"/><rect x="636" y="409" width="18" height="18" fill="#007aff"/><rect x="636" y="427" width="18" height="18" fill="#007aff"/><rect x="636" y="445" width="18" height="19" fill="#007eff"/><rect x="636" y="464" width="18" height="18" fill="#007eff"/><rect x="636" y="482" width="18" height="18" fill="#007eff"/><rect x="636" y="500" width="18" height="18" fill="#0081ff"/><rect x="636" y="518" width="18" height="18" fill="#0081ff"/><rect x="636" y="536" width="18" height="19" fill="#0074ff"/><rect x="636" y="555" width="18" height="18" fill="#0074ff"/><rect x="636" y="573" width="18" height="18" fill="#0077ff"/><rect x="636" y="591" width="18" height="18" fill="#0077ff"/><rect x="636" y="609" width="18" height="18" fill="#0077ff"/><rect x="636" y="627" width="18" height="18" fill="#0077ff"/><rect x="636" y="645" width="18" height="19" fill="#0077ff"/><rect x="636" y="664" width="18" height="18" fill="#0079ff"/><rect x="636" y="682" width="18" height="18" fill="#007aff"/><rect x="636" y="700" width="18" height="18" fill="#007aff"/><rect x="636" y="718" width="18" height="18" fill="#007aff"/><rect x="636" y="736" width="18" height="18" fill="#007eff"/><rect x="636" y="754" width="18" height="18" fill="#007eff"/><rect x="654" y="82" width="19" height="18" fill="#00aaff"/><rect x="654" y="118" width="19" height="19" fill="#00a3ff"/><rect x="654" y="137" width="19" height="18" fill="#008bff"/><rect x="654" y="155" width="19" height="18" fill="#0088ff"/><rect x="654" y="173" width="19" height="18" fill="#0081ff"/><rect x="654" y="191" width="19" height="18" fill="#007eff"/><rect x="654" y="209" width="19" height="18" fill="#0077ff"/><rect x="654" y="227" width="19" height="19" fill="#0077ff"/><rect x="654" y="246" width="19" height="18" fill="#0077ff"/><rect x="654" y="264" width="19" height="18" fill="#0077ff"/><rect x="654" y="282" width="19" height="18" fill="#0077ff"/><rect x="654" y="300" width="19" height="18" fill="#0074ff"/><rect x="654" y="318" width="19" height="18" fill="#0070ff"/><rect x="654" y="336" width="19" height="19" fill="#006dff"/><rect x="654" y="355" width="19" height="18" fill="#006dff"/><rect x="654" y="373" width="19" height="18" fill="#006dff"/><rect x="654" y="391" width="19" height="18" fill="#007aff"/><rect x="654" y="409" width="19" height="18" fill="#007aff"/><rect x="654" y="427" width="19" height="18" fill="#007aff"/><rect x="654" y="445" width="19" height="19" fill="#007aff"/><rect x="654" y="464" width="19" height="18" fill="#007eff"/><rect x="654" y="482" width="19" height="18" fill="#007eff"/><rect x="654" y="500" width="19" height="18" fill="#007eff"/><rect x="654" y="518" width="19" height="18" fill="#007eff"/><rect x="654" y="536" width="19" height="19" fill="#007eff"/><rect x="654" y="555" width="19" height="18" fill="#0081ff"/><rect x="654" y="573" width="19" height="18" fill="#0085ff"/><rect x="654" y="591" width="19" height="18" fill="#0085ff"/><rect x="654" y="609" width="19" height="18" fill="#0088ff"/><rect x="654" y="627" width="19" height="18" fill="#008bff"/><rect x="654" y="645" width="19" height="19" fill="#008fff"/><rect x="654" y="664" width="19" height="18" fill="#008fff"/><rect x="654" y="682" width="19" height="18" fill="#0092ff"/><rect x="654" y="700" width="19" height="18" fill="#0092ff"/><rect x="654" y="718" width="19" height="18" fill="#0092ff"/><rect x="654" y="736" width="19" height="18" fill="#0096ff"/><rect x="654" y="754" width="19" height="18" fill="#0096ff"/><rect x="673" y="64" width="18" height="18" fill="#00beff"/><rect x="673" y="82" width="18" height="18" fill="#00aaff"/><rect x="673" y="100" width="18" height="18" fill="#00a0ff"/><rect x="673" y="118" width="18" height="19" fill="#008bff"/><rect x="673" y="137" width="18" height="18" fill="#0088ff"/><rect x="673" y="155" width="18" height="18" fill="#0081ff"/><rect x="673" y="173" width="18" height="18" fill="#0081ff"/><rect x="673" y="191" width="18" height="18" fill="#007eff"/><rect x="673" y="209" width="18" height="18" fill="#0077ff"/><rect x="673" y="227" width="18" height="19" fill="#0077ff"/><rect x="673" y="246" width="18" height="18" fill="#007aff"/><rect x="673" y="264" width="18" height="18" fill="#0081ff"/><rect x="673" y="282" width="18" height="18" fill="#0081ff"/><rect x="673" y="300" width="18" height="18" fill="#007aff"/><rect x="673" y="318" width="18" height="18" fill="#0074ff"/><rect x="673" y="336" width="18" height="19" fill="#0074ff"/><rect x="673" y="355" width="18" height="18" fill="#0074ff"/><rect x="673" y="373" width="18" height="18" fill="#0074ff"/><rect x="673" y="391" width="18" height="18" fill="#0085ff"/><rect x="673" y="409" width="18" height="18" fill="#0085ff"/><rect x="673" y="427" width="18" height="18" fill="#0085ff"/><rect x="673" y="445" width="18" height="19" fill="#0085ff"/><rect x="673" y="464" width="18" height="18" fill="#0088ff"/><rect x="673" y="482" width="18" height="18" fill="#0088ff"/><rect x="673" y="500" width="18" height="18" fill="#0088ff"/><rect x="673" y="518" width="18" height="18" fill="#0088ff"/><rect x="673" y="536" width="18" height="19" fill="#008bff"/><rect x="673" y="555" width="18" height="18" fill="#008fff"/><rect x="673" y="573" width="18" height="18" fill="#0092ff"/><rect x="673" y="591" width="18" height="18" fill="#0096ff"/><rect x="673" y="609" width="18" height="18" fill="#0099ff"/><rect x="673" y="627" width="18" height="18" fill="#009cff"/><rect x="673" y="645" width="18" height="19" fill="#00a0ff"/><rect x="673" y="664" width="18" height="18" fill="#00a3ff"/><rect x="673" y="682" width="18" height="18" fill="#00a7ff"/><rect x="673" y="700" width="18" height="18" fill="#00a7ff"/><rect x="673" y="718" width="18" height="18" fill="#00aaff"/><rect x="673" y="736" width="18" height="18" fill="#00aaff"/><rect x="673" y="754" width="18" height="18" fill="#00adff"/><rect x="691" y="46" width="18" height="18" fill="#00c9ff"/><rect x="691" y="64" width="18" height="18" fill="#00beff"/><rect x="691" y="82" width="18" height="18" fill="#00a7ff"/><rect x="691" y="100" width="18" height="18" fill="#0099ff"/><rect x="691" y="118" width="18" height="19" fill="#0088ff"/><rect x="691" y="137" width="18" height="18" fill="#0081ff"/><rect x="691" y="155" width="18" height="18" fill="#0081ff"/><rect x="691" y="173" width="18" height="18" fill="#0081ff"/><rect x="691" y="191" width="18" height="18" fill="#007eff"/><rect x="691" y="209" width="18" height="18" fill="#0077ff"/><rect x="691" y="227" width="18" height="19" fill="#0077ff"/><rect x="691" y="246" width="18" height="18" fill="#007eff"/><rect x="691" y="264" width="18" height="18" fill="#008bff"/><rect x="691" y="282" width="18" height="18" fill="#008fff"/><rect x="691" y="300" width="18" height="18" fill="#0085ff"/><rect x="691" y="318" width="18" height="18" fill="#007aff"/><rect x="691" y="336" width="18" height="19" fill="#0077ff"/><rect x="691" y="355" width="18" height="18" fill="#0077ff"/><rect x="691" y="373" width="18" height="18" fill="#0077ff"/><rect x="691" y="391" width="18" height="18" fill="#0088ff"/><rect x="691" y="409" width="18" height="18" fill="#0088ff"/><rect x="691" y="427" width="18" height="18" fill="#0088ff"/><rect x="691" y="445" width="18" height="19" fill="#0088ff"/><rect x="691" y="464" width="18" height="18" fill="#008bff"/><rect x="691" y="482" width="18" height="18" fill="#008bff"/><rect x="691" y="500" width="18" height="18" fill="#008bff"/><rect x="691" y="518" width="18" height="18" fill="#008bff"/><rect x="691" y="536" width="18" height="19" fill="#0094ff"/><rect x="691" y="555" width="18" height="18" fill="#0097ff"/><rect x="691" y="573" width="18" height="18" fill="#009bff"/><rect x="691" y="591" width="18" height="18" fill="#009eff"/><rect x="691" y="609" width="18" height="18" fill="#00a5ff"/><rect x="691" y="627" width="18" height="18" fill="#00acff"/><rect x="691" y="645" width="18" height="19" fill="#00b2ff"/><rect x="691" y="664" width="18" height="18" fill="#00b6ff"/><rect x="691" y="682" width="18" height="18" fill="#00b8ff"/><rect x="691" y="700" width="18" height="18" fill="#00bbff"/><rect x="691" y="718" width="18" height="18" fill="#00bbff"/><rect x="691" y="736" width="18" height="18" fill="#00beff"/><rect x="691" y="754" width="18" height="18" fill="#00beff"/><rect x="709" y="28" width="18" height="18" fill="#00ffdd"/><rect x="709" y="46" width="18" height="18" fill="#00c9ff"/><rect x="709" y="64" width="18" height="18" fill="#00bbff"/><rect x="709" y="82" width="18" height="18" fill="#00a0ff"/><rect x="709" y="100" width="18" height="18" fill="#0092ff"/><rect x="709" y="118" width="18" height="19" fill="#0088ff"/><rect x="709" y="137" width="18" height="18" fill="#0081ff"/><rect x="709" y="155" width="18" height="18" fill="#0081ff"/><rect x="709" y="173" width="18" height="18" fill="#0081ff"/><rect x="709" y="191" width="18" height="18" fill="#007eff"/><rect x="709" y="209" width="18" height="18" fill="#0077ff"/><rect x="709" y="227" width="18" height="19" fill="#0077ff"/><rect x="709" y="246" width="18" height="18" fill="#0081ff"/><rect x="709" y="264" width="18" height="18" fill="#0094ff"/><rect x="709" y="282" width="18" height="18" fill="#0096ff"/><rect x="709" y="300" width="18" height="18" fill="#0088ff"/><rect x="709" y="318" width="18" height="18" fill="#007eff"/><rect x="709" y="336" width="18" height="19" fill="#007aff"/><rect x="709" y="355" width="18" height="18" fill="#007aff"/><rect x="709" y="373" width="18" height="18" fill="#007aff"/><rect x="709" y="391" width="18" height="18" fill="#008fff"/><rect x="709" y="409" width="18" height="18" fill="#008fff"/><rect x="709" y="427" width="18" height="18" fill="#0092ff"/><rect x="709" y="445" width="18" height="19" fill="#0092ff"/><rect x="709" y="464" width="18" height="18" fill="#0096ff"/><rect x="709" y="482" width="18" height="18" fill="#0096ff"/><rect x="709" y="500" width="18" height="18" fill="#0096ff"/><rect x="709" y="518" width="18" height="18" fill="#0096ff"/><rect x="709" y="536" width="18" height="19" fill="#0099ff"/><rect x="709" y="555" width="18" height="18" fill="#00a0ff"/><rect x="709" y="573" width="18" height="18" fill="#00a3ff"/><rect x="709" y="591" width="18" height="18" fill="#00a7ff"/><rect x="709" y="609" width="18" height="18" fill="#00adff"/><rect x="709" y="627" width="18" height="18" fill="#00b4ff"/><rect x="709" y="645" width="18" height="19" fill="#00bbff"/><rect x="709" y="664" width="18" height="18" fill="#00c5ff"/><rect x="709" y="682" width="18" height="18" fill="#00c9ff"/><rect x="709" y="700" width="18" height="18" fill="#00ccff"/><rect x="709" y="718" width="18" height="18" fill="#00ccff"/><rect x="709" y="736" width="18" height="18" fill="#00cfff"/><rect x="709" y="754" width="18" height="18" fill="#00cfff"/><rect x="727" y="64" width="18" height="18" fill="#00b4ff"/><rect x="727" y="82" width="18" height="18" fill="#009cff"/><rect x="727" y="100" width="18" height="18" fill="#008bff"/><rect x="727" y="118" width="18" height="19" fill="#0085ff"/><rect x="727" y="137" width="18" height="18" fill="#0081ff"/><rect x="727" y="155" width="18" height="18" fill="#0081ff"/><rect x="727" y="173" width="18" height="18" fill="#007eff"/><rect x="727" y="191" width="18" height="18" fill="#007eff"/><rect x="727" y="209" width="18" height="18" fill="#007eff"/><rect x="727" y="227" width="18" height="19" fill="#0081ff"/><rect x="727" y="246" width="18" height="18" fill="#0086ff"/><rect x="727" y="264" width="18" height="18" fill="#0099ff"/><rect x="727" y="282" width="18" height="18" fill="#009bff"/><rect x="727" y="300" width="18" height="18" fill="#008dff"/><rect x="727" y="318" width="18" height="18" fill="#0081ff"/><rect x="727" y="336" width="18" height="19" fill="#0080ff"/><rect x="727" y="355" width="18" height="18" fill="#0080ff"/><rect x="727" y="373" width="18" height="18" fill="#0080ff"/><rect x="727" y="391" width="18" height="18" fill="#0096ff"/><rect x="727" y="409" width="18" height="18" fill="#0099ff"/><rect x="727" y="427" width="18" height="18" fill="#0099ff"/><rect x="727" y="445" width="18" height="19" fill="#009cff"/><rect x="727" y="464" width="18" height="18" fill="#00a0ff"/><rect x="727" y="482" width="18" height="18" fill="#00a0ff"/><rect x="727" y="500" width="18" height="18" fill="#00a3ff"/><rect x="727" y="518" width="18" height="18" fill="#00a3ff"/><rect x="727" y="536" width="18" height="19" fill="#00aaff"/><rect x="727" y="555" width="18" height="18" fill="#00adff"/><rect x="727" y="573" width="18" height="18" fill="#00b1ff"/><rect x="727" y="591" width="18" height="18" fill="#00b4ff"/><rect x="727" y="609" width="18" height="18" fill="#00b8ff"/><rect x="727" y="627" width="18" height="18" fill="#00beff"/><rect x="727" y="645" width="18" height="19" fill="#00c5ff"/><rect x="727" y="664" width="18" height="18" fill="#00ceff"/><rect x="727" y="682" width="18" height="18" fill="#00d3ff"/><rect x="727" y="700" width="18" height="18" fill="#00d6ff"/><rect x="727" y="718" width="18" height="18" fill="#00d6ff"/><rect x="727" y="736" width="18" height="18" fill="#00d6ff"/><rect x="727" y="754" width="18" height="18" fill="#00d6ff"/><rect x="745" y="46" width="18" height="18" fill="#00c9ff"/><rect x="745" y="64" width="18" height="18" fill="#00a7ff"/><rect x="745" y="82" width="18" height="18" fill="#0096ff"/><rect x="745" y="100" width="18" height="18" fill="#0088ff"/><rect x="745" y="118" width="18" height="19" fill="#0081ff"/><rect x="745" y="137" width="18" height="18" fill="#007eff"/><rect x="745" y="155" width="18" height="18" fill="#007eff"/><rect x="745" y="173" width="18" height="18" fill="#007eff"/><rect x="745" y="191" width="18" height="18" fill="#007eff"/><rect x="745" y="209" width="18" height="18" fill="#007eff"/><rect x="745" y="227" width="18" height="19" fill="#0085ff"/><rect x="745" y="246" width="18" height="18" fill="#008dff"/><rect x="745" y="264" width="18" height="18" fill="#009eff"/><rect x="745" y="282" width="18" height="18" fill="#00a2ff"/><rect x="745" y="300" width="18" height="18" fill="#0094ff"/><rect x="745" y="318" width="18" height="18" fill="#008aff"/><rect x="745" y="336" width="18" height="19" fill="#0086ff"/><rect x="745" y="355" width="18" height="18" fill="#0085ff"/><rect x="745" y="373" width="18" height="18" fill="#0085ff"/><rect x="745" y="391" width="18" height="18" fill="#00a3ff"/><rect x="745" y="409" width="18" height="18" fill="#00a7ff"/><rect x="745" y="427" width="18" height="18" fill="#00a7ff"/><rect x="745" y="445" width="18" height="19" fill="#00aaff"/><rect x="745" y="464" width="18" height="18" fill="#00adff"/><rect x="745" y="482" width="18" height="18" fill="#00b1ff"/><rect x="745" y="500" width="18" height="18" fill="#00b1ff"/><rect x="745" y="518" width="18" height="18" fill="#00b1ff"/><rect x="745" y="536" width="18" height="19" fill="#00b4ff"/><rect x="745" y="555" width="18" height="18" fill="#00b8ff"/><rect x="745" y="573" width="18" height="18" fill="#00bbff"/><rect x="745" y="591" width="18" height="18" fill="#00beff"/><rect x="745" y="609" width="18" height="18" fill="#00c5ff"/><rect x="745" y="627" width="18" height="18" fill="#00ccff"/><rect x="745" y="645" width="18" height="19" fill="#00d3ff"/><rect x="745" y="664" width="18" height="18" fill="#00d8ff"/><rect x="745" y="682" width="18" height="18" fill="#00ddff"/><rect x="745" y="700" width="18" height="18" fill="#00e0ff"/><rect x="745" y="718" width="18" height="18" fill="#00e0ff"/><rect x="745" y="736" width="18" height="18" fill="#00e0ff"/><rect x="745" y="754" width="18" height="18" fill="#00e0ff"/><rect x="763" y="28" width="19" height="18" fill="#00c5ff"/><rect x="763" y="46" width="19" height="18" fill="#00b4ff"/><rect x="763" y="64" width="19" height="18" fill="#009cff"/><rect x="763" y="82" width="19" height="18" fill="#0092ff"/><rect x="763" y="100" width="19" height="18" fill="#0081ff"/><rect x="763" y="118" width="19" height="19" fill="#007aff"/><rect x="763" y="137" width="19" height="18" fill="#007aff"/><rect x="763" y="155" width="19" height="18" fill="#007aff"/><rect x="763" y="173" width="19" height="18" fill="#007eff"/><rect x="763" y="191" width="19" height="18" fill="#007eff"/><rect x="763" y="209" width="19" height="18" fill="#007eff"/><rect x="763" y="227" width="19" height="19" fill="#0088ff"/><rect x="763" y="246" width="19" height="18" fill="#0094ff"/><rect x="763" y="264" width="19" height="18" fill="#00a7ff"/><rect x="763" y="282" width="19" height="18" fill="#00aaff"/><rect x="763" y="300" width="19" height="18" fill="#009cff"/><rect x="763" y="318" width="19" height="18" fill="#0092ff"/><rect x="763" y="336" width="19" height="19" fill="#008fff"/><rect x="763" y="355" width="19" height="18" fill="#008fff"/><rect x="763" y="373" width="19" height="18" fill="#008fff"/><rect x="763" y="391" width="19" height="18" fill="#00adff"/><rect x="763" y="409" width="19" height="18" fill="#00b1ff"/><rect x="763" y="427" width="19" height="18" fill="#00b4ff"/><rect x="763" y="445" width="19" height="19" fill="#00b8ff"/><rect x="763" y="464" width="19" height="18" fill="#00beff"/><rect x="763" y="482" width="19" height="18" fill="#00c2ff"/><rect x="763" y="500" width="19" height="18" fill="#00c2ff"/><rect x="763" y="518" width="19" height="18" fill="#00c2ff"/><rect x="763" y="536" width="19" height="19" fill="#00c2ff"/><rect x="763" y="555" width="19" height="18" fill="#00c5ff"/><rect x="763" y="573" width="19" height="18" fill="#00c9ff"/><rect x="763" y="591" width="19" height="18" fill="#00ccff"/><rect x="763" y="609" width="19" height="18" fill="#00d3ff"/><rect x="763" y="627" width="19" height="18" fill="#00daff"/><rect x="763" y="645" width="19" height="19" fill="#00e0ff"/><rect x="763" y="664" width="19" height="18" fill="#00e6ff"/><rect x="763" y="682" width="19" height="18" fill="#00ebff"/><rect x="763" y="700" width="19" height="18" fill="#00ebff"/><rect x="763" y="718" width="19" height="18" fill="#00ebff"/><rect x="763" y="736" width="19" height="18" fill="#00ebff"/><rect x="763" y="754" width="19" height="18" fill="#00ebff"/><rect x="782" y="28" width="18" height="18" fill="#00aaff"/><rect x="782" y="46" width="18" height="18" fill="#00a0ff"/><rect x="782" y="64" width="18" height="18" fill="#0092ff"/><rect x="782" y="82" width="18" height="18" fill="#008bff"/><rect x="782" y="100" width="18" height="18" fill="#007eff"/><rect x="782" y="118" width="18" height="19" fill="#0077ff"/><rect x="782" y="137" width="18" height="18" fill="#0077ff"/><rect x="782" y="155" width="18" height="18" fill="#0077ff"/><rect x="782" y="173" width="18" height="18" fill="#007eff"/><rect x="782" y="191" width="18" height="18" fill="#007eff"/><rect x="782" y="209" width="18" height="18" fill="#0081ff"/><rect x="782" y="227" width="18" height="19" fill="#008bff"/><rect x="782" y="246" width="18" height="18" fill="#009bff"/><rect x="782" y="264" width="18" height="18" fill="#00aaff"/><rect x="782" y="282" width="18" height="18" fill="#00aaff"/><rect x="782" y="300" width="18" height="18" fill="#00a3ff"/><rect x="782" y="318" width="18" height="18" fill="#0099ff"/><rect x="782" y="336" width="18" height="19" fill="#0096ff"/><rect x="782" y="355" width="18" height="18" fill="#0096ff"/><rect x="782" y="373" width="18" height="18" fill="#0096ff"/><rect x="782" y="391" width="18" height="18" fill="#00bbff"/><rect x="782" y="409" width="18" height="18" fill="#00beff"/><rect x="782" y="427" width="18" height="18" fill="#00c2ff"/><rect x="782" y="445" width="18" height="19" fill="#00c5ff"/><rect x="782" y="464" width="18" height="18" fill="#00ccff"/><rect x="782" y="482" width="18" height="18" fill="#00d3ff"/><rect x="782" y="500" width="18" height="18" fill="#00d3ff"/><rect x="782" y="518" width="18" height="18" fill="#00d3ff"/><rect x="782" y="536" width="18" height="19" fill="#00d3ff"/><rect x="782" y="555" width="18" height="18" fill="#00d6ff"/><rect x="782" y="573" width="18" height="18" fill="#00daff"/><rect x="782" y="591" width="18" height="18" fill="#00ddff"/><rect x="782" y="609" width="18" height="18" fill="#00e4ff"/><rect x="782" y="627" width="18" height="18" fill="#00ebff"/><rect x="782" y="645" width="18" height="19" fill="#00eeff"/><rect x="782" y="664" width="18" height="18" fill="#00f1ff"/><rect x="782" y="682" width="18" height="18" fill="#00f5ff"/><rect x="782" y="700" width="18" height="18" fill="#00f5ff"/><rect x="782" y="718" width="18" height="18" fill="#00f5ff"/><rect x="782" y="736" width="18" height="18" fill="#00f5ff"/><rect x="782" y="754" width="18" height="18" fill="#00f5ff"/></g><defs><clipPath id="pa"><rect x="0" y="28" width="800" height="744"/></clipPath></defs><g clip-path="url(#pa)" font-family="Liberation Sans, DejaVu Sans, sans-serif" font-size="11.5" fill="#808080"><text transform="translate(14,744) rotate(90)" textLength="19.5" lengthAdjust="spacingAndGlyphs">61W</text><text transform="translate(86,744) rotate(90)" textLength="19.5" lengthAdjust="spacingAndGlyphs">60W</text><text transform="translate(159,744) rotate(90)" textLength="19.5" lengthAdjust="spacingAndGlyphs">59W</text><text transform="translate(232,744) rotate(90)" textLength="19.5" lengthAdjust="spacingAndGlyphs">58W</text><text transform="translate(304,744) rotate(90)" textLength="19.5" lengthAdjust="spacingAndGlyphs">57W</text><text transform="translate(377,744) rotate(90)" textLength="19.5" lengthAdjust="spacingAndGlyphs">56W</text><text transform="translate(450,744) rotate(90)" textLength="19.5" lengthAdjust="spacingAndGlyphs">55W</text><text transform="translate(523,744) rotate(90)" textLength="19.5" lengthAdjust="spacingAndGlyphs">54W</text><text transform="translate(595,744) rotate(90)" textLength="19.5" lengthAdjust="spacingAndGlyphs">53W</text><text transform="translate(668,744) rotate(90)" textLength="19.5" lengthAdjust="spacingAndGlyphs">52W</text><text transform="translate(741,744) rotate(90)" textLength="19.5" lengthAdjust="spacingAndGlyphs">51W</text><text x="771.5" y="31.75" textLength="20.25" lengthAdjust="spacingAndGlyphs">31S</text><text x="771.5" y="104.75" textLength="20.25" lengthAdjust="spacingAndGlyphs">32S</text><text x="771.5" y="176.75" textLength="20.25" lengthAdjust="spacingAndGlyphs">33S</text><text x="771.5" y="249.75" textLength="20.25" lengthAdjust="spacingAndGlyphs">34S</text><text x="771.5" y="322.75" textLength="20.25" lengthAdjust="spacingAndGlyphs">35S</text><text x="771.5" y="395.75" textLength="20.25" lengthAdjust="spacingAndGlyphs">36S</text><text x="771.5" y="467.75" textLength="20.25" lengthAdjust="spacingAndGlyphs">37S</text><text x="771.5" y="540.75" textLength="20.25" lengthAdjust="spacingAndGlyphs">38S</text><text x="771.5" y="613.75" textLength="20.25" lengthAdjust="spacingAndGlyphs">39S</text><text x="771.5" y="685.75" textLength="20.25" lengthAdjust="spacingAndGlyphs">40S</text><text x="771.5" y="758.75" textLength="20.25" lengthAdjust="spacingAndGlyphs">41S</text></g><path fill="none" stroke="#fff" stroke-width="1" shape-rendering="crispEdges" d="M9.2 636.3L5.8 650.9M5.8 650.9l4.5 -6.0M5.8 650.9l-1.5 -7.3M9.2 654.5L4.7 669.3M4.7 669.3l5.0 -5.8M4.7 669.3l-1.0 -7.6M9.2 672.7L2.1 692.6M2.1 692.6l7.3 -7.7M2.1 692.6l-0.8 -10.5M9.2 690.9L1.9 712.7M1.9 712.7l7.8 -8.5M1.9 712.7l-1.1 -11.5M9.2 709.0L2.5 731.6M2.5 731.6l7.6 -8.9M2.5 731.6l-1.6 -11.6M9.2 727.2L2.3 749.7M2.3 749.7l7.7 -8.9M2.3 749.7l-1.4 -11.7M9.2 745.4L2.4 767.9M2.4 767.9l7.7 -8.9M2.4 767.9l-1.5 -11.7M9.2 763.5L3.5 783.4M3.5 783.4l6.6 -7.9M3.5 783.4l-1.5 -10.2M27.3 618.1L23.1 636.5M23.1 636.5l5.7 -7.5M23.1 636.5l-1.8 -9.2M27.3 636.3L24.6 651.0M24.6 651.0l4.2 -6.2M24.6 651.0l-1.7 -7.3M27.3 654.5L22.8 670.0M22.8 670.0l5.2 -6.2M22.8 670.0l-1.1 -8.0M27.3 672.7L20.2 692.3M20.2 692.3l7.3 -7.5M20.2 692.3l-0.7 -10.4M27.3 690.9L20.0 713.2M20.0 713.2l7.9 -8.7M20.0 713.2l-1.2 -11.7M27.3 709.0L21.1 731.8M21.1 731.8l7.5 -9.1M21.1 731.8l-1.8 -11.6M27.3 727.2L20.7 749.8M20.7 749.8l7.6 -9.0M20.7 749.8l-1.6 -11.7M27.3 745.4L20.8 768.0M20.8 768.0l7.6 -9.0M20.8 768.0l-1.6 -11.7M27.3 763.5L21.9 783.5M21.9 783.5l6.5 -8.0M21.9 783.5l-1.6 -10.2M45.5 618.1L40.4 633.8M40.4 633.8l5.5 -6.1M40.4 633.8l-0.8 -8.2M45.5 636.3L41.6 651.2M41.6 651.2l4.8 -6.0M41.6 651.2l-1.2 -7.6M45.5 654.5L39.9 671.2M39.9 671.2l6.0 -6.5M39.9 671.2l-0.8 -8.8M45.5 672.7L37.9 692.9M37.9 692.9l7.6 -7.7M37.9 692.9l-0.7 -10.8M45.5 690.9L37.6 713.1M37.6 713.1l8.1 -8.6M37.6 713.1l-0.9 -11.8M45.5 709.0L38.5 731.7M38.5 731.7l7.8 -8.9M38.5 731.7l-1.4 -11.8M45.5 727.2L38.2 749.8M38.2 749.8l7.9 -8.8M38.2 749.8l-1.3 -11.8M45.5 745.4L38.5 767.9M38.5 767.9l7.8 -8.9M38.5 767.9l-1.4 -11.7M45.5 763.5L39.8 783.4M39.8 783.4l6.7 -7.9M39.8 783.4l-1.4 -10.2M63.7 618.1L56.3 632.0M56.3 632.0l6.2 -4.8M56.3 632.0l0.6 -7.8M63.7 636.3L56.4 650.3M56.4 650.3l6.2 -4.9M56.4 650.3l0.5 -7.8M63.7 654.5L55.1 671.2M55.1 671.2l7.3 -5.9M55.1 671.2l0.5 -9.4M63.7 672.7L54.0 692.3M54.0 692.3l8.4 -7.0M54.0 692.3l0.4 -10.9M63.7 690.9L53.8 712.4M53.8 712.4l8.9 -7.8M53.8 712.4l0.1 -11.9M63.7 709.0L54.4 731.0M54.4 731.0l8.7 -8.2M54.4 731.0l-0.2 -11.9M63.7 727.2L54.7 749.3M54.7 749.3l8.6 -8.3M54.7 749.3l-0.4 -11.9M63.7 745.4L55.1 767.6M55.1 767.6l8.4 -8.4M55.1 767.6l-0.6 -11.9M63.7 763.5L56.5 783.2M56.5 783.2l7.3 -7.5M56.5 783.2l-0.7 -10.4M81.9 618.1L74.5 631.0M74.5 631.0l6.0 -4.3M74.5 631.0l0.8 -7.3M81.9 636.3L72.8 649.3M72.8 649.3l6.8 -4.1M72.8 649.3l1.5 -7.8M81.9 654.5L70.6 670.4M70.6 670.4l8.4 -5.0M70.6 670.4l1.9 -9.6M81.9 672.7L69.5 691.0M69.5 691.0l9.4 -5.9M69.5 691.0l1.9 -10.9M81.9 690.9L69.7 711.3M69.7 711.3l9.7 -6.9M69.7 711.3l1.4 -11.8M81.9 709.0L71.0 730.4M71.0 730.4l9.3 -7.5M71.0 730.4l0.6 -11.9M81.9 727.2L71.6 748.8M71.6 748.8l9.1 -7.8M71.6 748.8l0.3 -12.0M81.9 745.4L71.8 767.0M71.8 767.0l9.0 -7.9M71.8 767.0l0.2 -11.9M81.9 763.5L73.2 782.6M73.2 782.6l7.8 -7.0M73.2 782.6l0.1 -10.5M100.0 618.1L93.3 631.3M93.3 631.3l5.7 -4.7M93.3 631.3l0.4 -7.4M100.0 636.3L89.5 649.6M89.5 649.6l7.5 -3.9M89.5 649.6l2.1 -8.2M100.0 654.5L87.7 669.9M87.7 669.9l8.8 -4.5M87.7 669.9l2.5 -9.5M100.0 672.7L85.6 689.7M85.6 689.7l10.1 -4.8M85.6 689.7l3.1 -10.7M100.0 690.9L87.2 710.9M87.2 710.9l9.9 -6.5M87.2 710.9l1.8 -11.8M100.0 709.0L90.3 730.9M90.3 730.9l8.9 -8.0M90.3 730.9l-0.0 -12.0M100.0 727.2L90.2 749.0M90.2 749.0l8.9 -8.0M90.2 749.0l0.0 -12.0M100.0 745.4L89.8 766.9M89.8 766.9l9.1 -7.8M89.8 766.9l0.3 -11.9M100.0 763.5L91.0 782.4M91.0 782.4l7.9 -6.8M91.0 782.4l0.3 -10.5M118.2 618.1L110.2 630.6M110.2 630.6l6.2 -4.0M110.2 630.6l1.1 -7.3M118.2 636.3L106.3 651.8M106.3 651.8l8.6 -4.6M106.3 651.8l2.3 -9.5M118.2 654.5L104.3 670.4M104.3 670.4l9.6 -4.5M104.3 670.4l3.1 -10.1M118.2 672.7L102.6 688.7M102.6 688.7l10.4 -4.1M102.6 688.7l3.9 -10.5M118.2 690.9L105.3 710.7M105.3 710.7l9.9 -6.5M105.3 710.7l1.8 -11.7M118.2 709.0L109.7 731.4M109.7 731.4l8.4 -8.5M109.7 731.4l-0.7 -11.9M118.2 727.2L109.0 749.3M109.0 749.3l8.7 -8.2M109.0 749.3l-0.3 -12.0M118.2 745.4L108.4 767.1M108.4 767.1l8.9 -7.9M108.4 767.1l0.1 -11.9M118.2 763.5L109.9 782.5M109.9 782.5l7.6 -7.0M109.9 782.5l-0.1 -10.3M136.4 600.0L133.7 612.6M133.7 612.6l3.8 -5.2M133.7 612.6l-1.3 -6.3M136.4 618.1L126.0 630.1M126.0 630.1l7.2 -3.4M126.0 630.1l2.3 -7.6M136.4 636.3L122.0 651.8M122.0 651.8l9.7 -4.2M122.0 651.8l3.4 -10.0M136.4 654.5L121.7 670.4M121.7 670.4l9.9 -4.3M121.7 670.4l3.5 -10.2M136.4 672.7L121.5 689.4M121.5 689.4l10.2 -4.6M121.5 689.4l3.4 -10.6M136.4 690.9L123.2 710.5M123.2 710.5l10.0 -6.3M123.2 710.5l2.0 -11.7M136.4 709.0L126.4 730.7M126.4 730.7l9.0 -7.9M126.4 730.7l0.2 -11.9M136.4 727.2L126.5 748.9M126.5 748.9l8.9 -7.9M126.5 748.9l0.1 -11.9M136.4 745.4L127.4 767.4M127.4 767.4l8.6 -8.2M127.4 767.4l-0.4 -11.9M136.4 763.5L129.4 783.0M129.4 783.0l7.1 -7.5M129.4 783.0l-0.8 -10.3M154.6 600.0L149.9 610.0M149.9 610.0l4.2 -3.7M149.9 610.0l0.1 -5.5M154.6 618.1L141.7 633.1M141.7 633.1l8.9 -4.2M141.7 633.1l2.8 -9.5M154.6 636.3L137.4 651.3M137.4 651.3l10.9 -3.4M137.4 651.3l4.8 -10.3M154.6 654.5L139.1 669.6M139.1 669.6l10.1 -3.8M139.1 669.6l4.0 -10.0M154.6 672.7L139.8 689.7M139.8 689.7l10.2 -4.8M139.8 689.7l3.3 -10.8M154.6 690.9L140.7 710.2M140.7 710.2l10.2 -6.0M140.7 710.2l2.4 -11.7M154.6 709.0L142.7 729.7M142.7 729.7l9.6 -7.0M142.7 729.7l1.2 -11.9M154.6 727.2L144.0 748.6M144.0 748.6l9.2 -7.6M144.0 748.6l0.5 -11.9M154.6 745.4L146.2 767.7M146.2 767.7l8.3 -8.5M146.2 767.7l-0.7 -11.9M154.6 763.5L148.0 783.4M148.0 783.4l7.0 -7.7M148.0 783.4l-1.1 -10.4M172.7 600.0L160.5 609.8M160.5 609.8l7.6 -2.0M160.5 609.8l3.6 -7.0M172.7 618.1L153.9 632.6M153.9 632.6l11.5 -2.8M153.9 632.6l5.7 -10.4M172.7 636.3L155.5 651.6M155.5 651.6l11.0 -3.5M155.5 651.6l4.8 -10.5M172.7 654.5L156.9 670.3M156.9 670.3l10.4 -4.0M156.9 670.3l4.0 -10.4M172.7 672.7L157.5 689.3M157.5 689.3l10.3 -4.5M157.5 689.3l3.6 -10.7M172.7 690.9L159.0 710.4M159.0 710.4l10.2 -6.1M159.0 710.4l2.3 -11.7M172.7 709.0L162.0 730.5M162.0 730.5l9.3 -7.6M162.0 730.5l0.5 -12.0M172.7 727.2L162.3 748.8M162.3 748.8l9.2 -7.7M162.3 748.8l0.4 -12.0M172.7 745.4L163.5 767.4M163.5 767.4l8.7 -8.2M163.5 767.4l-0.3 -11.9M172.7 763.5L165.6 783.2M165.6 783.2l7.3 -7.5M165.6 783.2l-0.7 -10.4M190.9 600.0L174.2 613.0M174.2 613.0l10.3 -2.5M174.2 613.0l5.0 -9.3M190.9 618.1L172.8 633.2M172.8 633.2l11.3 -3.2M172.8 633.2l5.2 -10.5M190.9 636.3L174.2 651.9M174.2 651.9l10.8 -3.7M174.2 651.9l4.4 -10.5M190.9 654.5L175.3 670.4M175.3 670.4l10.4 -4.1M175.3 670.4l3.9 -10.5M190.9 672.7L175.3 688.6M175.3 688.6l10.4 -4.1M175.3 688.6l3.9 -10.5M190.9 690.9L177.5 710.6M177.5 710.6l10.1 -6.3M177.5 710.6l2.1 -11.7M190.9 709.0L181.6 731.1M181.6 731.1l8.7 -8.2M181.6 731.1l-0.3 -12.0M190.9 727.2L180.9 749.0M180.9 749.0l9.0 -7.9M180.9 749.0l0.1 -12.0M190.9 745.4L180.6 766.9M180.6 766.9l9.1 -7.7M180.6 766.9l0.3 -11.9M190.9 763.5L182.3 782.6M182.3 782.6l7.8 -6.9M182.3 782.6l0.1 -10.5M209.1 272.8L202.7 256.9M202.7 256.9l-0.3 8.6M202.7 256.9l6.1 6.0M209.1 291.0L200.3 273.6M200.3 273.6l0.5 9.7M200.3 273.6l7.6 6.2M209.1 581.8L195.6 591.7M195.6 591.7l8.2 -1.8M195.6 591.7l4.1 -7.2M209.1 600.0L186.8 614.0M186.8 614.0l13.0 -1.9M186.8 614.0l7.3 -10.9M209.1 618.1L191.4 633.0M191.4 633.0l11.1 -3.2M191.4 633.0l5.0 -10.4M209.1 636.3L192.8 652.3M192.8 652.3l10.7 -4.0M192.8 652.3l4.2 -10.6M209.1 654.5L194.0 670.3M194.0 670.3l10.1 -4.1M194.0 670.3l3.7 -10.3M209.1 672.7L194.5 689.3M194.5 689.3l10.0 -4.6M194.5 689.3l3.3 -10.5M209.1 690.9L195.8 710.4M195.8 710.4l10.0 -6.3M195.8 710.4l2.1 -11.6M209.1 709.0L198.6 730.4M198.6 730.4l9.1 -7.6M198.6 730.4l0.5 -11.9M209.1 727.2L198.7 748.6M198.7 748.6l9.1 -7.6M198.7 748.6l0.4 -11.9M209.1 745.4L198.5 766.5M198.5 766.5l9.1 -7.5M198.5 766.5l0.5 -11.8M209.1 763.5L200.0 782.1M200.0 782.1l7.9 -6.6M200.0 782.1l0.4 -10.3M227.3 291.0L214.1 274.8M214.1 274.8l2.7 10.1M214.1 274.8l9.3 4.7M227.3 309.2L214.8 301.2M214.8 301.2l4.1 6.2M214.8 301.2l7.3 1.1M227.3 581.8L210.7 595.0M210.7 595.0l10.2 -2.6M210.7 595.0l4.9 -9.4M227.3 600.0L208.7 614.4M208.7 614.4l11.4 -2.8M208.7 614.4l5.5 -10.4M227.3 618.1L210.5 633.6M210.5 633.6l10.8 -3.6M210.5 633.6l4.5 -10.5M227.3 636.3L212.6 652.2M212.6 652.2l9.9 -4.3M212.6 652.2l3.5 -10.2M227.3 654.5L213.6 670.7M213.6 670.7l9.5 -4.6M213.6 670.7l2.9 -10.2M227.3 672.7L214.6 689.9M214.6 689.9l9.3 -5.3M214.6 689.9l2.3 -10.4M227.3 690.9L215.7 710.0M215.7 710.0l9.2 -6.4M215.7 710.0l1.4 -11.1M227.3 709.0L217.8 729.8M217.8 729.8l8.5 -7.5M217.8 729.8l0.1 -11.4M227.3 727.2L217.7 747.9M217.7 747.9l8.6 -7.5M217.7 747.9l0.1 -11.4M227.3 745.4L217.8 765.8M217.8 765.8l8.5 -7.4M217.8 765.8l0.2 -11.3M227.3 763.5L219.1 782.0M219.1 782.0l7.5 -6.8M219.1 782.0l-0.0 -10.1M245.4 291.0L234.5 274.6M234.5 274.6l1.7 9.7M234.5 274.6l8.3 5.3M245.4 309.2L232.9 299.6M232.9 299.6l3.8 6.9M232.9 299.6l7.7 1.8M245.4 563.6L230.4 577.8M230.4 577.8l9.8 -3.4M230.4 577.8l4.0 -9.5M245.4 581.8L226.0 597.8M226.0 597.8l12.1 -3.3M226.0 597.8l5.6 -11.2M245.4 600.0L227.2 613.6M227.2 613.6l11.1 -2.5M227.2 613.6l5.6 -9.9M245.4 618.1L230.0 633.6M230.0 633.6l10.2 -3.9M230.0 633.6l3.9 -10.2M245.4 636.3L233.1 652.9M233.1 652.9l9.0 -5.1M233.1 652.9l2.3 -10.1M245.4 654.5L233.3 670.7M233.3 670.7l8.8 -4.9M233.3 670.7l2.2 -9.9M245.4 672.7L233.7 689.4M233.7 689.4l8.8 -5.3M233.7 689.4l1.9 -10.0M245.4 690.9L235.3 709.2M235.3 709.2l8.3 -6.3M235.3 709.2l0.9 -10.4M245.4 709.0L238.0 728.8M238.0 728.8l7.4 -7.5M238.0 728.8l-0.6 -10.6M245.4 727.2L237.4 746.8M237.4 746.8l7.6 -7.3M237.4 746.8l-0.3 -10.6M245.4 745.4L237.6 765.0M237.6 765.0l7.6 -7.4M237.6 765.0l-0.4 -10.6M245.4 763.5L238.9 781.9M238.9 781.9l6.7 -7.1M238.9 781.9l-0.7 -9.7M263.6 291.0L249.4 277.6M249.4 277.6l3.7 9.0M249.4 277.6l9.2 3.3M263.6 309.2L249.5 300.7M249.5 300.7l4.7 6.7M249.5 300.7l8.2 1.0M263.6 327.4L250.7 321.3M250.7 321.3l4.7 5.4M250.7 321.3l7.1 0.1M263.6 545.5L250.1 560.5M250.1 560.5l9.2 -4.1M250.1 560.5l3.1 -9.6M263.6 563.6L249.1 579.0M249.1 579.0l9.8 -4.1M249.1 579.0l3.5 -10.0M263.6 581.8L247.5 596.6M247.5 596.6l10.4 -3.5M247.5 596.6l4.3 -10.0M263.6 600.0L247.2 614.4M247.2 614.4l10.4 -3.2M247.2 614.4l4.6 -9.9M263.6 618.1L248.8 633.3M248.8 633.3l9.8 -3.9M248.8 633.3l3.7 -9.9M263.6 636.3L251.1 651.9M251.1 651.9l8.9 -4.6M251.1 651.9l2.5 -9.7M263.6 654.5L252.3 670.1M252.3 670.1l8.3 -4.8M252.3 670.1l2.0 -9.4M263.6 672.7L252.9 688.7M252.9 688.7l8.2 -5.1M252.9 688.7l1.6 -9.5M263.6 690.9L254.2 708.4M254.2 708.4l7.9 -6.1M254.2 708.4l0.7 -10.0M263.6 709.0L255.9 727.5M255.9 727.5l7.3 -6.9M255.9 727.5l-0.2 -10.0M263.6 727.2L256.1 745.7M256.1 745.7l7.2 -6.9M256.1 745.7l-0.3 -10.0M263.6 745.4L256.9 764.2M256.9 764.2l6.9 -7.2M256.9 764.2l-0.7 -10.0M263.6 763.5L257.7 781.4M257.7 781.4l6.3 -7.0M257.7 781.4l-1.0 -9.4M281.8 291.0L268.6 274.8M268.6 274.8l2.7 10.1M268.6 274.8l9.3 4.7M281.8 309.2L266.3 299.4M266.3 299.4l5.1 7.6M266.3 299.4l9.1 1.3M281.8 327.4L267.2 321.4M267.2 321.4l5.4 5.7M267.2 321.4l7.9 -0.3M281.8 381.9L266.7 387.0M266.7 387.0l7.9 0.7M266.7 387.0l5.8 -5.4M281.8 400.1L267.6 406.1M267.6 406.1l7.7 0.1M267.6 406.1l5.2 -5.7M281.8 527.3L266.3 543.3M266.3 543.3l10.4 -4.2M266.3 543.3l3.8 -10.5M281.8 545.5L268.7 560.9M268.7 560.9l9.1 -4.4M268.7 560.9l2.8 -9.7M281.8 563.6L268.0 579.7M268.0 579.7l9.5 -4.6M268.0 579.7l3.0 -10.1M281.8 581.8L266.3 596.9M266.3 596.9l10.1 -3.8M266.3 596.9l4.0 -10.0M281.8 600.0L265.4 614.1M265.4 614.1l10.3 -3.1M265.4 614.1l4.6 -9.8M281.8 618.1L267.9 633.5M267.9 633.5l9.4 -4.2M267.9 633.5l3.2 -9.8M281.8 636.3L271.8 652.3M271.8 652.3l7.8 -5.2M271.8 652.3l1.3 -9.3M281.8 654.5L272.3 669.9M272.3 669.9l7.5 -5.1M272.3 669.9l1.2 -9.0M281.8 672.7L272.8 688.4M272.8 688.4l7.3 -5.4M272.8 688.4l0.9 -9.0M281.8 690.9L274.5 707.9M274.5 707.9l6.8 -6.3M274.5 707.9l-0.1 -9.3M281.8 709.0L275.8 726.6M275.8 726.6l6.3 -6.8M275.8 726.6l-0.9 -9.2M281.8 727.2L275.6 744.7M275.6 744.7l6.4 -6.7M275.6 744.7l-0.7 -9.3M281.8 745.4L275.4 762.8M275.4 762.8l6.4 -6.7M275.4 762.8l-0.7 -9.3M281.8 763.5L275.9 780.6M275.9 780.6l6.2 -6.6M275.9 780.6l-0.8 -9.0M299.9 309.2L283.7 300.2M283.7 300.2l5.6 7.4M283.7 300.2l9.2 0.8M299.9 327.4L285.0 321.1M285.0 321.1l5.5 5.9M285.0 321.1l8.1 -0.2M299.9 345.5L285.4 344.0M285.4 344.0l6.3 3.7M285.4 344.0l7.0 -2.2M299.9 363.7L285.7 364.8M285.7 364.8l6.7 2.4M285.7 364.8l6.3 -3.4M299.9 381.9L285.6 385.4M285.6 385.4l7.3 1.3M285.6 385.4l5.8 -4.5M299.9 400.1L286.1 405.1M286.1 405.1l7.4 0.5M286.1 405.1l5.3 -5.1M299.9 418.2L286.4 425.3M286.4 425.3l7.6 -0.5M286.4 425.3l4.7 -6.0M299.9 509.1L285.7 524.1M285.7 524.1l9.6 -3.9M285.7 524.1l3.5 -9.7M299.9 527.3L286.9 544.5M286.9 544.5l9.5 -5.2M286.9 544.5l2.4 -10.5M299.9 545.5L288.9 562.1M288.9 562.1l8.4 -5.4M288.9 562.1l1.6 -9.9M299.9 563.6L288.4 580.2M288.4 580.2l8.7 -5.2M288.4 580.2l1.9 -9.9M299.9 581.8L287.4 596.4M287.4 596.4l8.7 -4.1M287.4 596.4l2.7 -9.2M299.9 600.0L287.2 613.5M287.2 613.5l8.6 -3.6M287.2 613.5l3.1 -8.8M299.9 618.1L290.7 632.6M290.7 632.6l7.2 -4.7M290.7 632.6l1.3 -8.5M299.9 636.3L292.7 651.4M292.7 651.4l6.4 -5.4M292.7 651.4l0.2 -8.3M299.9 654.5L292.5 669.2M292.5 669.2l6.4 -5.2M292.5 669.2l0.4 -8.2M299.9 672.7L292.7 688.2M292.7 688.2l6.5 -5.6M292.7 688.2l0.2 -8.6M299.9 690.9L294.1 708.7M294.1 708.7l6.3 -7.0M294.1 708.7l-1.0 -9.4M299.9 709.0L295.0 727.2M295.0 727.2l6.0 -7.3M295.0 727.2l-1.4 -9.3M299.9 727.2L294.6 745.2M294.6 745.2l6.1 -7.1M294.6 745.2l-1.2 -9.3M299.9 745.4L293.9 762.9M293.9 762.9l6.3 -6.8M293.9 762.9l-0.8 -9.2M299.9 763.5L293.7 780.3M293.7 780.3l6.2 -6.4M293.7 780.3l-0.6 -8.9M318.1 309.2L302.0 301.0M302.0 301.0l5.7 7.0M302.0 301.0l9.0 0.5M318.1 327.4L302.8 321.8M302.8 321.8l5.9 5.6M302.8 321.8l8.1 -0.6M318.1 345.5L303.9 343.3M303.9 343.3l6.1 3.9M303.9 343.3l7.0 -1.9M318.1 363.7L304.6 364.2M304.6 364.2l6.3 2.5M304.6 364.2l6.1 -3.0M318.1 381.9L304.6 385.2M304.6 385.2l6.8 1.2M304.6 385.2l5.5 -4.3M318.1 400.1L304.2 404.8M304.2 404.8l7.4 0.6M304.2 404.8l5.4 -5.0M318.1 418.2L304.9 424.0M304.9 424.0l7.2 0.1M304.9 424.0l4.9 -5.3M318.1 490.9L306.3 505.2M306.3 505.2l8.3 -4.1M306.3 505.2l2.5 -8.9M318.1 509.1L306.7 525.5M306.7 525.5l8.5 -5.2M306.7 525.5l1.9 -9.8M318.1 527.3L309.1 545.3M309.1 545.3l7.8 -6.4M309.1 545.3l0.5 -10.1M318.1 545.5L311.1 562.6M311.1 562.6l6.7 -6.4M311.1 562.6l-0.3 -9.3M318.1 563.6L309.7 579.6M309.7 579.6l7.1 -5.6M309.7 579.6l0.6 -9.0M318.1 581.8L308.5 596.0M308.5 596.0l7.3 -4.5M308.5 596.0l1.5 -8.4M318.1 600.0L308.8 613.8M308.8 613.8l7.1 -4.4M308.8 613.8l1.4 -8.2M318.1 618.1L310.8 632.7M310.8 632.7l6.3 -5.1M310.8 632.7l0.4 -8.1M318.1 636.3L311.9 651.4M311.9 651.4l5.9 -5.6M311.9 651.4l-0.2 -8.2M318.1 654.5L311.8 669.4M311.8 669.4l5.9 -5.5M311.8 669.4l-0.1 -8.1M318.1 672.7L312.1 688.0M312.1 688.0l5.9 -5.8M312.1 688.0l-0.4 -8.2M318.1 690.9L313.5 707.1M313.5 707.1l5.4 -6.5M313.5 707.1l-1.2 -8.4M318.1 709.0L314.3 725.5M314.3 725.5l5.1 -6.7M314.3 725.5l-1.6 -8.3M318.1 727.2L314.0 743.6M314.0 743.6l5.2 -6.6M314.0 743.6l-1.4 -8.3M318.1 745.4L313.2 761.6M313.2 761.6l5.5 -6.4M313.2 761.6l-1.0 -8.4M318.1 763.5L312.5 779.5M312.5 779.5l5.8 -6.2M312.5 779.5l-0.7 -8.4M336.3 327.4L319.8 320.6M319.8 320.6l6.2 6.4M319.8 320.6l8.9 -0.3M336.3 345.5L321.7 342.5M321.7 342.5l6.1 4.3M321.7 342.5l7.3 -1.6M336.3 363.7L322.6 362.4M322.6 362.4l6.0 3.4M322.6 362.4l6.5 -2.2M336.3 381.9L323.1 383.9M323.1 383.9l6.4 1.7M323.1 383.9l5.6 -3.6M336.3 400.1L323.1 403.8M323.1 403.8l6.8 1.0M323.1 403.8l5.3 -4.4M336.3 418.2L323.8 423.9M323.8 423.9l6.9 -0.0M323.8 423.9l4.6 -5.1M336.3 436.4L324.4 445.4M324.4 445.4l7.3 -1.7M324.4 445.4l3.6 -6.5M336.3 454.6L325.2 465.3M325.2 465.3l7.2 -2.6M325.2 465.3l2.9 -7.1M336.3 472.8L326.6 485.4M326.6 485.4l7.0 -3.8M326.6 485.4l1.9 -7.7M336.3 490.9L326.5 504.7M326.5 504.7l7.3 -4.3M326.5 504.7l1.7 -8.3M336.3 509.1L328.0 525.2M328.0 525.2l7.1 -5.7M328.0 525.2l0.5 -9.0M336.3 527.3L328.3 543.5M328.3 543.5l7.0 -5.8M328.3 543.5l0.4 -9.0M336.3 545.5L329.4 561.1M329.4 561.1l6.4 -5.8M329.4 561.1l-0.0 -8.6M336.3 563.6L328.8 578.8M328.8 578.8l6.5 -5.4M328.8 578.8l0.4 -8.5M336.3 581.8L327.8 596.2M327.8 596.2l6.8 -4.8M327.8 596.2l1.0 -8.3M336.3 600.0L328.4 614.2M328.4 614.2l6.5 -4.9M328.4 614.2l0.7 -8.1M336.3 618.1L330.6 633.3M330.6 633.3l5.7 -5.8M330.6 633.3l-0.5 -8.1M336.3 636.3L331.9 651.9M331.9 651.9l5.2 -6.2M331.9 651.9l-1.2 -8.0M336.3 654.5L331.3 669.7M331.3 669.7l5.4 -5.9M331.3 669.7l-0.8 -8.0M336.3 672.7L331.2 688.0M331.2 688.0l5.4 -6.0M331.2 688.0l-0.8 -8.0M336.3 690.9L332.9 707.0M332.9 707.0l4.8 -6.7M332.9 707.0l-1.7 -8.0M336.3 709.0L333.9 725.3M333.9 725.3l4.4 -6.9M333.9 725.3l-2.2 -7.9M336.3 727.2L333.3 743.4M333.3 743.4l4.7 -6.8M333.3 743.4l-1.9 -8.0M336.3 745.4L332.2 761.3M332.2 761.3l5.1 -6.5M332.2 761.3l-1.4 -8.1M336.3 763.5L331.5 779.3M331.5 779.3l5.4 -6.2M331.5 779.3l-1.0 -8.2M354.5 327.4L338.5 322.4M338.5 322.4l6.3 5.5M338.5 322.4l8.3 -1.0M354.5 345.5L339.9 342.9M339.9 342.9l6.1 4.2M339.9 342.9l7.2 -1.7M354.5 363.7L341.1 363.3M341.1 363.3l6.0 2.9M341.1 363.3l6.2 -2.5M354.5 381.9L341.7 383.9M341.7 383.9l6.3 1.7M341.7 383.9l5.4 -3.5M354.5 400.1L341.9 403.3M341.9 403.3l6.4 1.1M341.9 403.3l5.1 -4.0M354.5 418.2L342.4 422.9M342.4 422.9l6.5 0.3M342.4 422.9l4.6 -4.6M354.5 436.4L342.9 443.7M342.9 443.7l6.8 -1.0M342.9 443.7l3.8 -5.7M354.5 454.6L343.8 464.0M343.8 464.0l6.8 -2.1M343.8 464.0l3.0 -6.5M354.5 472.8L344.7 484.4M344.7 484.4l6.9 -3.3M344.7 484.4l2.1 -7.3M354.5 490.9L346.1 504.4M346.1 504.4l6.6 -4.5M346.1 504.4l1.1 -7.9M354.5 509.1L346.6 523.4M346.6 523.4l6.5 -4.9M346.6 523.4l0.7 -8.1M354.5 527.3L348.4 542.4M348.4 542.4l5.9 -5.7M348.4 542.4l-0.3 -8.2M354.5 545.5L349.6 561.0M349.6 561.0l5.4 -6.1M349.6 561.0l-0.9 -8.1M354.5 563.6L348.0 578.6M348.0 578.6l6.0 -5.5M348.0 578.6l-0.1 -8.2M354.5 581.8L346.6 596.1M346.6 596.1l6.5 -4.9M346.6 596.1l0.7 -8.1M354.5 600.0L347.2 614.4M347.2 614.4l6.3 -5.1M347.2 614.4l0.4 -8.1M354.5 618.1L349.1 633.2M349.1 633.2l5.5 -5.8M349.1 633.2l-0.6 -8.0M354.5 636.3L350.0 651.7M350.0 651.7l5.2 -6.1M350.0 651.7l-1.1 -7.9M354.5 654.5L349.9 669.7M349.9 669.7l5.2 -6.0M349.9 669.7l-1.0 -7.9M354.5 672.7L350.1 688.1M350.1 688.1l5.2 -6.1M350.1 688.1l-1.1 -7.9M354.5 690.9L351.4 706.7M351.4 706.7l4.6 -6.6M351.4 706.7l-1.8 -7.9M354.5 709.0L352.1 725.2M352.1 725.2l4.4 -6.9M352.1 725.2l-2.2 -7.9M354.5 727.2L351.8 743.3M351.8 743.3l4.5 -6.8M351.8 743.3l-2.0 -7.9M354.5 745.4L351.1 761.3M351.1 761.3l4.8 -6.6M351.1 761.3l-1.7 -8.0M354.5 763.5L350.5 779.4M350.5 779.4l5.0 -6.4M350.5 779.4l-1.4 -8.0M372.6 327.4L357.5 321.2M357.5 321.2l5.7 5.9M357.5 321.2l8.2 -0.3M372.6 345.5L358.2 342.5M358.2 342.5l6.0 4.3M358.2 342.5l7.2 -1.6M372.6 363.7L359.8 362.3M359.8 362.3l5.6 3.3M359.8 362.3l6.2 -2.0M372.6 381.9L360.1 383.0M360.1 383.0l5.9 2.0M360.1 383.0l5.5 -3.1M372.6 400.1L360.5 402.4M360.5 402.4l6.0 1.4M360.5 402.4l5.1 -3.6M372.6 418.2L361.5 422.2M361.5 422.2l5.9 0.4M361.5 422.2l4.3 -4.1M372.6 436.4L362.1 443.2M362.1 443.2l6.2 -1.0M362.1 443.2l3.4 -5.3M372.6 454.6L363.0 463.5M363.0 463.5l6.2 -2.1M363.0 463.5l2.6 -6.1M372.6 472.8L363.8 484.1M363.8 484.1l6.4 -3.4M363.8 484.1l1.7 -7.0M372.6 490.9L363.8 503.4M363.8 503.4l6.6 -3.9M363.8 503.4l1.5 -7.5M372.6 509.1L365.6 522.8M365.6 522.8l6.0 -4.8M365.6 522.8l0.4 -7.7M372.6 527.3L365.6 541.3M365.6 541.3l6.1 -5.0M365.6 541.3l0.4 -7.9M372.6 545.5L366.2 560.0M366.2 560.0l5.9 -5.3M366.2 560.0l-0.0 -7.9M372.6 563.6L365.6 577.9M365.6 577.9l6.1 -5.1M365.6 577.9l0.3 -7.9M372.6 581.8L364.9 595.7M364.9 595.7l6.4 -4.8M364.9 595.7l0.7 -7.9M372.6 600.0L365.7 614.2M365.7 614.2l6.1 -5.1M365.7 614.2l0.3 -7.9M372.6 618.1L368.0 633.3M368.0 633.3l5.2 -6.0M368.0 633.3l-1.0 -7.9M372.6 636.3L369.2 651.7M369.2 651.7l4.7 -6.3M369.2 651.7l-1.5 -7.7M372.6 654.5L368.7 669.7M368.7 669.7l4.9 -6.1M368.7 669.7l-1.3 -7.8M372.6 672.7L368.8 688.1M368.8 688.1l4.9 -6.3M368.8 688.1l-1.4 -7.8M372.6 690.9L370.3 706.6M370.3 706.6l4.3 -6.7M370.3 706.6l-2.1 -7.7M372.6 709.0L371.1 725.0M371.1 725.0l3.9 -7.0M371.1 725.0l-2.5 -7.6M372.6 727.2L370.6 743.1M370.6 743.1l4.2 -6.9M370.6 743.1l-2.3 -7.7M372.6 745.4L370.1 761.2M370.1 761.2l4.4 -6.7M370.1 761.2l-2.1 -7.7M372.6 763.5L369.8 779.3M369.8 779.3l4.5 -6.6M369.8 779.3l-1.9 -7.8M390.8 327.4L374.9 322.3M374.9 322.3l6.2 5.5M374.9 322.3l8.3 -0.9M390.8 345.5L376.2 342.5M376.2 342.5l6.1 4.4M376.2 342.5l7.3 -1.6M390.8 363.7L378.3 362.7M378.3 362.7l5.5 3.0M378.3 362.7l5.9 -2.1M390.8 381.9L379.0 382.8M379.0 382.8l5.6 2.0M379.0 382.8l5.2 -2.8M390.8 400.1L379.9 401.9M379.9 401.9l5.4 1.4M379.9 401.9l4.6 -3.1M390.8 418.2L380.2 421.4M380.2 421.4l5.5 0.7M380.2 421.4l4.2 -3.6M390.8 436.4L380.5 441.8M380.5 441.8l5.8 -0.4M380.5 441.8l3.6 -4.5M390.8 454.6L381.3 461.7M381.3 461.7l5.8 -1.3M381.3 461.7l2.9 -5.2M390.8 472.8L381.6 482.1M381.6 482.1l6.1 -2.4M381.6 482.1l2.3 -6.2M390.8 490.9L382.5 502.1M382.5 502.1l6.1 -3.4M382.5 502.1l1.5 -6.8M390.8 509.1L382.9 521.1M382.9 521.1l6.1 -3.9M382.9 521.1l1.2 -7.1M390.8 527.3L384.2 540.5M384.2 540.5l5.7 -4.7M384.2 540.5l0.3 -7.4M390.8 545.5L385.2 559.3M385.2 559.3l5.4 -5.2M385.2 559.3l-0.2 -7.5M390.8 563.6L384.1 576.9M384.1 576.9l5.8 -4.7M384.1 576.9l0.4 -7.5M390.8 581.8L383.2 595.0M383.2 595.0l6.2 -4.5M383.2 595.0l0.8 -7.6M390.8 600.0L384.1 613.7M384.1 613.7l5.9 -4.9M384.1 613.7l0.3 -7.6M390.8 618.1L386.1 632.8M386.1 632.8l5.2 -5.7M386.1 632.8l-0.8 -7.7M390.8 636.3L387.0 651.3M387.0 651.3l4.8 -6.1M387.0 651.3l-1.3 -7.6M390.8 654.5L387.0 669.4M387.0 669.4l4.8 -6.1M387.0 669.4l-1.3 -7.6M390.8 672.7L387.8 688.0M387.8 688.0l4.5 -6.4M387.8 688.0l-1.7 -7.6M390.8 690.9L388.8 706.3M388.8 706.3l4.1 -6.6M388.8 706.3l-2.2 -7.5M390.8 709.0L389.0 724.6M389.0 724.6l4.0 -6.8M389.0 724.6l-2.3 -7.5M390.8 727.2L389.1 742.8M389.1 742.8l4.0 -6.8M389.1 742.8l-2.4 -7.5M390.8 745.4L389.6 761.1M389.6 761.1l3.8 -6.9M389.6 761.1l-2.6 -7.4M390.8 763.5L389.2 779.3M389.2 779.3l4.0 -6.9M389.2 779.3l-2.5 -7.6M409.0 327.4L393.7 321.3M393.7 321.3l5.7 5.9M393.7 321.3l8.2 -0.3M409.0 345.5L394.7 341.9M394.7 341.9l5.8 4.6M394.7 341.9l7.3 -1.2M409.0 363.7L396.8 361.8M396.8 361.8l5.2 3.3M396.8 361.8l6.0 -1.6M409.0 381.9L397.9 382.0M397.9 382.0l5.1 2.2M397.9 382.0l5.0 -2.3M409.0 400.1L398.8 401.1M398.8 401.1l4.9 1.6M398.8 401.1l4.4 -2.6M409.0 418.2L399.1 420.9M399.1 420.9l5.1 0.8M399.1 420.9l4.0 -3.2M409.0 436.4L399.9 441.1M399.9 441.1l5.1 -0.3M399.9 441.1l3.2 -4.0M409.0 454.6L400.1 460.6M400.1 460.6l5.3 -1.0M400.1 460.6l2.8 -4.6M409.0 472.8L400.3 480.9M400.3 480.9l5.6 -1.9M400.3 480.9l2.3 -5.5M409.0 490.9L400.2 500.4M400.2 500.4l6.0 -2.5M400.2 500.4l2.1 -6.1M409.0 509.1L401.2 519.7M401.2 519.7l5.7 -3.3M401.2 519.7l1.4 -6.4M409.0 527.3L401.6 538.4M401.6 538.4l5.6 -3.6M401.6 538.4l1.1 -6.6M409.0 545.5L402.0 557.5M402.0 557.5l5.6 -4.1M402.0 557.5l0.8 -6.9M409.0 563.6L401.7 575.9M401.7 575.9l5.8 -4.1M401.7 575.9l0.8 -7.1M409.0 581.8L401.6 594.2M401.6 594.2l5.9 -4.1M401.6 594.2l0.9 -7.2M409.0 600.0L402.5 613.2M402.5 613.2l5.7 -4.7M402.5 613.2l0.3 -7.4M409.0 618.1L404.7 632.5M404.7 632.5l4.9 -5.7M404.7 632.5l-1.0 -7.4M409.0 636.3L405.8 650.9M405.8 650.9l4.4 -6.0M405.8 650.9l-1.5 -7.3M409.0 654.5L405.6 669.2M405.6 669.2l4.5 -6.0M405.6 669.2l-1.5 -7.4M409.0 672.7L406.7 687.4M406.7 687.4l4.0 -6.3M406.7 687.4l-2.0 -7.2M409.0 690.9L407.5 706.0M407.5 706.0l3.8 -6.6M407.5 706.0l-2.4 -7.2M409.0 709.0L407.3 724.4M407.3 724.4l3.9 -6.7M407.3 724.4l-2.3 -7.3M409.0 727.2L407.8 742.6M407.8 742.6l3.7 -6.8M407.8 742.6l-2.6 -7.3M409.0 745.4L408.4 760.8M408.4 760.8l3.4 -6.9M408.4 760.8l-2.8 -7.2M409.0 763.5L408.0 779.1M408.0 779.1l3.6 -6.9M408.0 779.1l-2.7 -7.3M427.2 327.4L411.7 322.2M411.7 322.2l6.0 5.5M411.7 322.2l8.1 -0.8M427.2 345.5L413.2 341.9M413.2 341.9l5.6 4.5M413.2 341.9l7.1 -1.2M427.2 363.7L415.4 361.9M415.4 361.9l5.0 3.2M415.4 361.9l5.7 -1.6M427.2 381.9L416.9 381.7M416.9 381.7l4.6 2.2M416.9 381.7l4.7 -2.0M427.2 400.1L417.2 400.4M417.2 400.4l4.6 1.9M417.2 400.4l4.5 -2.2M427.2 418.2L418.0 420.7M418.0 420.7l4.7 0.7M418.0 420.7l3.7 -3.0M427.2 436.4L418.6 440.3M418.6 440.3l4.7 -0.0M418.6 440.3l3.1 -3.5M427.2 454.6L418.6 459.7M418.6 459.7l5.0 -0.6M418.6 459.7l2.9 -4.1M427.2 472.8L418.7 479.4M418.7 479.4l5.2 -1.3M418.7 479.4l2.5 -4.8M427.2 490.9L418.9 499.0M418.9 499.0l5.4 -2.0M418.9 499.0l2.2 -5.4M427.2 509.1L419.3 518.0M419.3 518.0l5.4 -2.5M419.3 518.0l1.8 -5.7M427.2 527.3L420.0 537.4M420.0 537.4l5.3 -3.1M420.0 537.4l1.2 -6.1M427.2 545.5L420.7 556.2M420.7 556.2l5.2 -3.6M420.7 556.2l0.8 -6.2M427.2 563.6L420.9 575.2M420.9 575.2l5.2 -4.0M420.9 575.2l0.5 -6.6M427.2 581.8L420.4 593.8M420.4 593.8l5.5 -4.1M420.4 593.8l0.6 -6.8M427.2 600.0L420.8 612.7M420.8 612.7l5.5 -4.5M420.8 612.7l0.3 -7.1M427.2 618.1L423.0 632.1M423.0 632.1l4.8 -5.5M423.0 632.1l-0.9 -7.2M427.2 636.3L424.2 650.8M424.2 650.8l4.3 -6.0M424.2 650.8l-1.6 -7.2M427.2 654.5L424.3 669.2M424.3 669.2l4.3 -6.1M424.3 669.2l-1.7 -7.3M427.2 672.7L425.2 687.0M425.2 687.0l3.8 -6.1M425.2 687.0l-2.0 -6.9M427.2 690.9L425.6 705.4M425.6 705.4l3.7 -6.3M425.6 705.4l-2.2 -7.0M427.2 709.0L426.1 723.9M426.1 723.9l3.5 -6.6M426.1 723.9l-2.5 -7.0M427.2 727.2L426.2 742.1M426.2 742.1l3.5 -6.6M426.2 742.1l-2.6 -7.0M427.2 745.4L426.5 760.3M426.5 760.3l3.3 -6.7M426.5 760.3l-2.7 -7.0M427.2 763.5L426.2 778.8M426.2 778.8l3.5 -6.8M426.2 778.8l-2.7 -7.2M445.4 327.4L430.4 322.0M430.4 322.0l5.7 5.5M430.4 322.0l7.9 -0.6M445.4 345.5L432.1 341.4M432.1 341.4l5.2 4.6M432.1 341.4l6.9 -0.8M445.4 363.7L434.5 361.4M434.5 361.4l4.5 3.3M434.5 361.4l5.4 -1.2M445.4 381.9L436.2 381.0M436.2 381.0l4.0 2.3M436.2 381.0l4.4 -1.4M445.4 400.1L436.2 400.6M436.2 400.6l4.3 1.6M436.2 400.6l4.1 -2.1M445.4 418.2L437.2 421.8M437.2 421.8l4.5 0.0M437.2 421.8l3.0 -3.3M445.4 436.4L437.2 439.9M437.2 439.9l4.5 0.1M437.2 439.9l3.0 -3.3M445.4 454.6L437.9 459.9M437.9 459.9l4.5 -0.9M437.9 459.9l2.3 -4.0M445.4 472.8L437.6 478.1M437.6 478.1l4.6 -0.9M437.6 478.1l2.5 -4.0M445.4 490.9L438.0 497.7M438.0 497.7l4.7 -1.6M438.0 497.7l2.0 -4.6M445.4 509.1L438.1 516.4M438.1 516.4l4.8 -1.9M438.1 516.4l1.8 -4.8M445.4 527.3L439.3 536.2M439.3 536.2l4.6 -2.9M439.3 536.2l0.9 -5.3M445.4 545.5L439.3 554.7M439.3 554.7l4.6 -3.0M439.3 554.7l0.9 -5.5M445.4 563.6L441.4 574.6M441.4 574.6l4.0 -4.2M441.4 574.6l-0.4 -5.8M445.4 581.8L439.6 592.8M439.6 592.8l4.8 -3.8M439.6 592.8l0.4 -6.2M445.4 600.0L439.4 611.5M439.4 611.5l5.0 -4.1M439.4 611.5l0.4 -6.5M445.4 618.1L441.9 631.4M441.9 631.4l4.3 -5.4M441.9 631.4l-1.1 -6.8M445.4 636.3L443.6 650.1M443.6 650.1l3.6 -6.0M443.6 650.1l-2.0 -6.6M445.4 654.5L443.0 668.4M443.0 668.4l3.9 -5.9M443.0 668.4l-1.7 -6.8M445.4 672.7L444.0 686.6M444.0 686.6l3.5 -6.1M444.0 686.6l-2.2 -6.6M445.4 690.9L443.9 704.9M443.9 704.9l3.5 -6.1M443.9 704.9l-2.2 -6.7M445.4 709.0L445.1 723.3M445.1 723.3l3.0 -6.5M445.1 723.3l-2.8 -6.6M445.4 727.2L444.7 741.4M444.7 741.4l3.2 -6.4M444.7 741.4l-2.6 -6.6M445.4 745.4L445.2 759.6M445.2 759.6l3.0 -6.5M445.2 759.6l-2.8 -6.5M445.4 763.5L444.7 778.0M444.7 778.0l3.2 -6.5M444.7 778.0l-2.6 -6.7M463.5 327.4L449.1 321.9M449.1 321.9l5.5 5.4M449.1 321.9l7.7 -0.4M463.5 345.5L451.0 341.0M451.0 341.0l4.8 4.6M451.0 341.0l6.7 -0.5M463.5 363.7L453.6 361.0M453.6 361.0l4.0 3.3M453.6 361.0l5.1 -0.8M463.5 381.9L455.0 380.2M455.0 380.2l3.5 2.5M455.0 380.2l4.2 -1.0M463.5 400.1L455.7 399.9M455.7 399.9l3.5 1.7M455.7 399.9l3.6 -1.5M463.5 418.2L456.3 420.3M456.3 420.3l3.7 0.5M456.3 420.3l2.9 -2.4M463.5 436.4L456.3 438.5M456.3 438.5l3.7 0.5M456.3 438.5l2.9 -2.4M463.5 454.6L456.8 457.9M456.8 457.9l3.8 -0.2M456.8 457.9l2.4 -2.9M463.5 472.8L456.7 476.1M456.7 476.1l3.8 -0.1M456.7 476.1l2.4 -2.9M463.5 490.9L457.2 495.5M457.2 495.5l3.8 -0.8M457.2 495.5l1.9 -3.4M463.5 509.1L457.1 514.0M457.1 514.0l3.9 -0.9M457.1 514.0l1.9 -3.6M463.5 527.3L457.6 533.2M457.6 533.2l3.9 -1.5M457.6 533.2l1.5 -3.9M463.5 545.5L457.6 552.4M457.6 552.4l4.1 -2.0M457.6 552.4l1.3 -4.4M463.5 563.6L458.4 571.9M458.4 571.9l4.0 -2.7M458.4 571.9l0.6 -4.8M463.5 581.8L457.7 590.3M457.7 590.3l4.4 -2.7M457.7 590.3l0.9 -5.0M463.5 600.0L458.0 609.2M458.0 609.2l4.4 -3.1M458.0 609.2l0.7 -5.4M463.5 618.1L459.9 629.2M459.9 629.2l3.9 -4.3M459.9 629.2l-0.6 -5.8M463.5 636.3L460.7 648.1M460.7 648.1l3.7 -4.8M460.7 648.1l-1.1 -6.0M463.5 654.5L460.6 666.5M460.6 666.5l3.8 -4.9M460.6 666.5l-1.1 -6.1M463.5 672.7L461.0 684.7M461.0 684.7l3.6 -5.0M461.0 684.7l-1.3 -6.0M463.5 690.9L461.7 703.1M461.7 703.1l3.3 -5.2M461.7 703.1l-1.7 -5.9M463.5 709.0L462.9 721.6M462.9 721.6l2.8 -5.6M462.9 721.6l-2.3 -5.9M463.5 727.2L462.7 739.7M462.7 739.7l2.9 -5.6M462.7 739.7l-2.2 -5.9M463.5 745.4L463.0 757.9M463.0 757.9l2.8 -5.6M463.0 757.9l-2.3 -5.8M463.5 763.5L462.7 776.3M462.7 776.3l3.0 -5.6M462.7 776.3l-2.2 -6.0M481.7 327.4L468.3 321.1M468.3 321.1l4.8 5.6M468.3 321.1l7.4 0.1M481.7 345.5L470.0 340.1M470.0 340.1l4.3 4.9M470.0 340.1l6.5 0.1M481.7 363.7L472.1 360.0M472.1 360.0l3.6 3.6M472.1 360.0l5.1 -0.3M481.7 381.9L473.4 379.4M473.4 379.4l3.3 2.8M473.4 379.4l4.3 -0.5M481.7 400.1L474.4 398.8M474.4 398.8l3.1 2.0M474.4 398.8l3.6 -0.9M481.7 418.2L474.8 418.6M474.8 418.6l3.2 1.2M474.8 418.6l3.1 -1.6M481.7 436.4L474.8 436.9M474.8 436.9l3.2 1.2M474.8 436.9l3.0 -1.6M481.7 454.6L474.9 455.7M474.9 455.7l3.3 0.9M474.9 455.7l2.9 -1.9M481.7 472.8L474.9 474.1M474.9 474.1l3.4 0.8M474.9 474.1l2.8 -2.0M481.7 490.9L474.8 492.8M474.8 492.8l3.5 0.5M474.8 492.8l2.8 -2.3M481.7 509.1L474.9 512.1M474.9 512.1l3.7 -0.0M474.9 512.1l2.5 -2.8M481.7 527.3L475.8 532.2M475.8 532.2l3.7 -1.1M475.8 532.2l1.7 -3.5M481.7 545.5L475.9 550.3M475.9 550.3l3.6 -1.0M475.9 550.3l1.7 -3.4M481.7 563.6L476.5 569.5M476.5 569.5l3.6 -1.6M476.5 569.5l1.2 -3.7M481.7 581.8L476.0 587.6M476.0 587.6l3.8 -1.5M476.0 587.6l1.4 -3.8M481.7 600.0L476.4 606.8M476.4 606.8l3.8 -2.0M476.4 606.8l1.1 -4.2M481.7 618.1L478.0 626.6M478.0 626.6l3.4 -3.1M478.0 626.6l-0.0 -4.6M481.7 636.3L478.4 645.5M478.4 645.5l3.4 -3.5M478.4 645.5l-0.3 -4.8M481.7 654.5L478.5 664.0M478.5 664.0l3.4 -3.7M478.5 664.0l-0.5 -5.0M481.7 672.7L478.7 682.2M478.7 682.2l3.3 -3.7M478.7 682.2l-0.6 -5.0M481.7 690.9L479.6 700.9M479.6 700.9l3.0 -4.2M479.6 700.9l-1.1 -5.0M481.7 709.0L480.7 719.2M480.7 719.2l2.5 -4.5M480.7 719.2l-1.6 -4.9M481.7 727.2L480.6 737.4M480.6 737.4l2.6 -4.4M480.6 737.4l-1.6 -4.9M481.7 745.4L480.8 755.6M480.8 755.6l2.5 -4.5M480.8 755.6l-1.6 -4.9M481.7 763.5L480.6 774.0M480.6 774.0l2.6 -4.6M480.6 774.0l-1.6 -5.0M499.9 309.2L486.0 304.0M486.0 304.0l5.3 5.2M486.0 304.0l7.4 -0.4M499.9 327.4L487.5 321.0M487.5 321.0l4.3 5.4M487.5 321.0l6.9 0.4M499.9 345.5L489.6 339.5M489.6 339.5l3.5 4.8M489.6 339.5l5.9 0.7M499.9 363.7L491.7 359.0M491.7 359.0l2.8 3.8M491.7 359.0l4.7 0.5M499.9 381.9L493.0 378.1M493.0 378.1l2.4 3.1M493.0 378.1l3.9 0.3M499.9 400.1L493.6 397.9M493.6 397.9l2.4 2.3M493.6 397.9l3.3 -0.3M499.9 418.2L493.8 417.8M493.8 417.8l2.7 1.4M493.8 417.8l2.9 -1.0M499.9 436.4L494.1 435.5M494.1 435.5l2.4 1.6M494.1 435.5l2.8 -0.8M499.9 454.6L494.1 453.9M494.1 453.9l2.5 1.5M494.1 453.9l2.8 -0.9M499.9 472.8L494.1 472.1M494.1 472.1l2.5 1.5M494.1 472.1l2.8 -0.9M499.9 490.9L494.1 490.7M494.1 490.7l2.6 1.3M494.1 490.7l2.7 -1.1M499.9 509.1L494.1 509.5M494.1 509.5l2.7 1.0M494.1 509.5l2.6 -1.4M499.9 527.3L493.9 528.6M493.9 528.6l3.0 0.6M493.9 528.6l2.5 -1.8M499.9 545.5L494.6 547.6M494.6 547.6l2.8 0.1M494.6 547.6l2.0 -2.1M499.9 563.6L495.1 567.1M495.1 567.1l2.9 -0.6M495.1 567.1l1.5 -2.6M499.9 581.8L494.7 584.8M494.7 584.8l3.0 -0.3M494.7 584.8l1.7 -2.4M499.9 600.0L494.8 604.0M494.8 604.0l3.1 -0.8M494.8 604.0l1.5 -2.9M499.9 618.1L496.5 624.0M496.5 624.0l2.7 -2.0M496.5 624.0l0.4 -3.4M499.9 636.3L496.9 642.7M496.9 642.7l2.6 -2.3M496.9 642.7l0.1 -3.5M499.9 654.5L497.0 661.2M497.0 661.2l2.7 -2.5M497.0 661.2l-0.1 -3.6M499.9 672.7L497.0 679.7M497.0 679.7l2.7 -2.6M497.0 679.7l-0.1 -3.8M499.9 690.9L498.0 698.2M498.0 698.2l2.3 -3.0M498.0 698.2l-0.6 -3.7M499.9 709.0L498.6 716.7M498.6 716.7l2.2 -3.3M498.6 716.7l-1.0 -3.8M499.9 727.2L498.7 734.9M498.7 734.9l2.1 -3.3M498.7 734.9l-1.1 -3.8M499.9 745.4L498.6 753.1M498.6 753.1l2.2 -3.3M498.6 753.1l-1.0 -3.8M499.9 763.5L498.7 771.6M498.7 771.6l2.2 -3.4M498.7 771.6l-1.1 -3.9M518.1 309.2L505.8 302.3M505.8 302.3l4.2 5.7M505.8 302.3l7.0 0.7M518.1 327.4L507.9 319.3M507.9 319.3l3.0 5.8M507.9 319.3l6.3 1.6M518.1 345.5L509.7 338.6M509.7 338.6l2.4 4.8M509.7 338.6l5.2 1.4M518.1 363.7L511.3 358.3M511.3 358.3l2.0 3.9M511.3 358.3l4.2 1.1M518.1 381.9L512.6 377.5M512.6 377.5l1.6 3.1M512.6 377.5l3.4 0.9M518.1 400.1L514.1 397.7M514.1 397.7l1.3 1.9M514.1 397.7l2.3 0.3M518.1 418.2L514.0 416.8M514.0 416.8l1.6 1.5M514.0 416.8l2.2 -0.2M518.1 436.4L514.1 434.5M514.1 434.5l1.4 1.6M514.1 434.5l2.2 0.1M518.1 454.6L514.5 452.6M514.5 452.6l1.2 1.6M514.5 452.6l2.0 0.2M518.1 472.8L514.5 470.8M514.5 470.8l1.2 1.6M514.5 470.8l2.0 0.2M518.1 490.9L514.6 488.7M514.6 488.7l1.1 1.7M514.6 488.7l2.0 0.3M518.1 509.1L514.7 507.4M514.7 507.4l1.2 1.5M514.7 507.4l1.9 0.1M518.1 527.3L514.6 525.8M514.6 525.8l1.3 1.4M514.6 525.8l1.9 -0.0M518.1 545.5L514.6 544.9M514.6 544.9l1.5 1.0M514.6 544.9l1.7 -0.4M518.1 563.6L514.3 563.6M514.3 563.6l1.7 0.8M514.3 563.6l1.7 -0.7M518.1 581.8L514.0 581.7M514.0 581.7l1.8 0.9M514.0 581.7l1.9 -0.8M518.1 600.0L514.0 600.4M514.0 600.4l1.9 0.6M514.0 600.4l1.7 -1.0M518.1 618.1L514.2 619.5M514.2 619.5l2.0 0.2M514.2 619.5l1.5 -1.4M518.1 636.3L514.3 637.9M514.3 637.9l2.0 0.0M514.3 637.9l1.4 -1.5M518.1 654.5L515.7 657.8M515.7 657.8l1.8 -1.0M515.7 657.8l0.4 -2.0M518.1 672.7L516.4 677.1M516.4 677.1l1.7 -1.7M516.4 677.1l-0.2 -2.4M518.1 690.9L519.8 695.7M519.8 695.7l0.2 -2.6M519.8 695.7l-1.8 -1.8M518.1 709.0L517.7 714.1M517.7 714.1l1.2 -2.3M517.7 714.1l-0.9 -2.4M518.1 727.2L517.4 732.3M517.4 732.3l1.3 -2.2M517.4 732.3l-0.7 -2.5M518.1 745.4L517.3 750.4M517.3 750.4l1.4 -2.2M517.3 750.4l-0.7 -2.5M518.1 763.5L517.2 768.9M517.2 768.9l1.5 -2.3M517.2 768.9l-0.7 -2.6M536.2 291.0L524.0 284.5M524.0 284.5l4.3 5.4M524.0 284.5l6.9 0.5M536.2 309.2L526.8 300.9M526.8 300.9l2.6 5.7M526.8 300.9l6.0 1.8M536.2 327.4L528.9 318.4M528.9 318.4l1.5 5.6M528.9 318.4l5.2 2.6M536.2 345.5L530.2 338.6M530.2 338.6l1.3 4.4M530.2 338.6l4.2 2.0M536.2 363.7L530.9 358.4M530.9 358.4l1.4 3.5M530.9 358.4l3.5 1.3M536.2 381.9L532.1 377.6M532.1 377.6l1.0 2.8M532.1 377.6l2.8 1.1M536.2 400.1L533.5 397.4M533.5 397.4l0.7 1.8M533.5 397.4l1.8 0.7M536.2 418.2L533.8 415.6M533.8 415.6l0.6 1.7M533.8 415.6l1.6 0.7M536.2 436.4L533.7 433.9M533.7 433.9l0.6 1.6M533.7 433.9l1.6 0.6M536.2 454.6L533.9 451.9M533.9 451.9l0.5 1.7M533.9 451.9l1.6 0.7M536.2 472.8L533.9 470.1M533.9 470.1l0.5 1.7M533.9 470.1l1.6 0.7M536.2 490.9L534.5 488.2M534.5 488.2l0.2 1.6M534.5 488.2l1.4 0.9M536.2 509.1L534.6 506.6M534.6 506.6l0.2 1.5M534.6 506.6l1.2 0.8M536.2 527.3L535.4 524.7M535.4 524.7l-0.1 1.3M535.4 524.7l0.9 1.0M536.2 545.5L534.2 542.9M534.2 542.9l0.4 1.6M534.2 542.9l1.4 0.7M536.2 563.6L534.3 561.8M534.3 561.8l0.5 1.2M534.3 561.8l1.3 0.5M536.2 581.8L534.1 580.1M534.1 580.1l0.6 1.2M534.1 580.1l1.3 0.4M536.2 600.0L534.4 598.4M534.4 598.4l0.5 1.1M534.4 598.4l1.2 0.3M536.2 618.1L535.7 616.1M535.7 616.1l-0.2 1.1M535.7 616.1l0.7 0.9M536.2 636.3L536.2 634.2M536.2 634.2l-0.4 1.0M536.2 634.2l0.5 1.0M536.2 654.5L536.1 652.3M536.1 652.3l-0.4 1.0M536.1 652.3l0.5 1.0M536.2 672.7L537.3 670.7M537.3 670.7l-0.9 0.7M537.3 670.7l-0.1 1.1M536.2 690.9L537.5 688.8M537.5 688.8l-1.0 0.7M537.5 688.8l-0.1 1.2M536.2 709.0L537.8 707.2M537.8 707.2l-1.1 0.5M537.8 707.2l-0.4 1.2M536.2 727.2L536.6 729.6M536.6 729.6l0.3 -1.2M536.6 729.6l-0.7 -1.0M536.2 745.4L536.0 748.1M536.0 748.1l0.6 -1.2M536.0 748.1l-0.5 -1.3M536.2 763.5L535.9 766.5M535.9 766.5l0.8 -1.3M535.9 766.5l-0.4 -1.4M554.4 254.7L541.5 249.6M541.5 249.6l4.8 4.9M541.5 249.6l6.9 -0.3M554.4 272.8L543.3 266.3M543.3 266.3l3.7 5.2M543.3 266.3l6.4 0.7M554.4 291.0L545.5 283.1M545.5 283.1l2.5 5.4M545.5 283.1l5.7 1.8M554.4 309.2L547.7 300.4M547.7 300.4l1.3 5.4M547.7 300.4l4.9 2.7M554.4 327.4L549.1 318.9M549.1 318.9l0.7 4.9M549.1 318.9l4.1 2.8M554.4 345.5L550.6 338.7M550.6 338.7l0.3 3.9M550.6 338.7l3.1 2.4M554.4 363.7L550.8 358.3M550.8 358.3l0.5 3.2M550.8 358.3l2.7 1.7M554.4 381.9L551.6 377.5M551.6 377.5l0.4 2.5M551.6 377.5l2.1 1.4M554.4 400.1L551.6 395.7M551.6 395.7l0.4 2.5M551.6 395.7l2.1 1.4M554.4 418.2L552.2 413.9M552.2 413.9l0.1 2.4M552.2 413.9l1.9 1.5M554.4 436.4L552.0 432.2M552.0 432.2l0.3 2.4M552.0 432.2l2.0 1.4M554.4 454.6L552.4 450.1M552.4 450.1l0.0 2.4M552.4 450.1l1.8 1.6M554.4 472.8L552.4 468.3M552.4 468.3l0.0 2.4M552.4 468.3l1.8 1.6M554.4 490.9L553.3 486.5M553.3 486.5l-0.4 2.3M553.3 486.5l1.4 1.8M554.4 509.1L553.0 505.0M553.0 505.0l-0.2 2.1M553.0 505.0l1.5 1.6M554.4 527.3L553.8 523.3M553.8 523.3l-0.5 2.0M553.8 523.3l1.1 1.7M554.4 545.5L553.1 541.6M553.1 541.6l-0.2 2.0M553.1 541.6l1.4 1.5M554.4 563.6L553.5 560.0M553.5 560.0l-0.3 1.9M553.5 560.0l1.2 1.5M554.4 581.8L553.2 578.8M553.2 578.8l-0.1 1.6M553.2 578.8l1.2 1.1M554.4 600.0L553.6 598.0M553.6 598.0l-0.0 1.1M553.6 598.0l0.8 0.8M554.4 618.1L554.4 616.8M554.4 616.8l-0.3 0.6M554.4 616.8l0.3 0.6M554.4 636.3L554.5 635.3M554.5 635.3l-0.3 0.5M554.5 635.3l0.2 0.5M554.4 654.5L554.6 653.4M554.6 653.4l-0.3 0.4M554.6 653.4l0.1 0.5M554.4 672.7L555.1 671.5M555.1 671.5l-0.5 0.4M555.1 671.5l-0.1 0.7M554.4 690.9L555.2 689.8M555.2 689.8l-0.6 0.3M555.2 689.8l-0.2 0.7M554.4 709.0L555.3 708.0M555.3 708.0l-0.6 0.3M555.3 708.0l-0.2 0.6M554.4 727.2L555.8 726.3M555.8 726.3l-0.8 0.1M555.8 726.3l-0.4 0.7M554.4 745.4L555.9 746.5M555.9 746.5l-0.5 -0.8M555.9 746.5l-0.9 -0.2M554.4 763.5L555.0 765.6M555.0 765.6l0.1 -1.1M555.0 765.6l-0.7 -0.8M572.6 236.5L560.5 229.9M560.5 229.9l4.2 5.4M560.5 229.9l6.8 0.5M572.6 254.7L562.3 247.1M562.3 247.1l3.1 5.6M562.3 247.1l6.2 1.4M572.6 272.8L564.0 265.2M564.0 265.2l2.3 5.2M564.0 265.2l5.5 1.8M572.6 291.0L565.9 282.9M565.9 282.9l1.4 5.1M565.9 282.9l4.7 2.4M572.6 309.2L567.5 300.6M567.5 300.6l0.6 5.0M567.5 300.6l4.1 2.9M572.6 327.4L569.2 319.4M569.2 319.4l-0.1 4.3M569.2 319.4l3.1 3.0M572.6 345.5L570.2 338.9M570.2 338.9l-0.3 3.5M570.2 338.9l2.4 2.5M572.6 363.7L570.7 358.1M570.7 358.1l-0.3 3.0M570.7 358.1l2.0 2.2M572.6 381.9L571.2 376.9M571.2 376.9l-0.4 2.5M571.2 376.9l1.6 2.0M572.6 400.1L570.2 394.0M570.2 394.0l-0.1 3.2M570.2 394.0l2.3 2.3M572.6 418.2L571.0 411.9M571.0 411.9l-0.5 3.2M571.0 411.9l2.0 2.5M572.6 436.4L570.4 430.3M570.4 430.3l-0.3 3.2M570.4 430.3l2.2 2.4M572.6 454.6L571.5 448.2M571.5 448.2l-0.8 3.1M571.5 448.2l1.8 2.7M572.6 472.8L571.0 466.5M571.0 466.5l-0.5 3.2M571.0 466.5l2.0 2.5M572.6 490.9L572.1 484.5M572.1 484.5l-1.1 3.0M572.1 484.5l1.5 2.9M572.6 509.1L571.2 503.0M571.2 503.0l-0.6 3.0M571.2 503.0l1.9 2.5M572.6 527.3L571.0 521.3M571.0 521.3l-0.5 3.1M571.0 521.3l1.9 2.4M572.6 545.5L571.4 539.6M571.4 539.6l-0.6 2.9M571.4 539.6l1.7 2.4M572.6 563.6L572.3 558.2M572.3 558.2l-1.0 2.5M572.3 558.2l1.2 2.4M572.6 581.8L571.9 577.0M571.9 577.0l-0.7 2.3M571.9 577.0l1.3 2.1M572.6 600.0L572.2 595.9M572.2 595.9l-0.6 1.9M572.2 595.9l1.0 1.8M572.6 618.1L573.1 615.2M573.1 615.2l-0.8 1.2M573.1 615.2l0.4 1.4M572.6 636.3L573.2 634.0M573.2 634.0l-0.8 1.0M573.2 634.0l0.2 1.2M572.6 654.5L573.2 652.2M573.2 652.2l-0.8 0.9M573.2 652.2l0.2 1.2M572.6 672.7L573.9 670.8M573.9 670.8l-1.0 0.6M573.9 670.8l-0.2 1.1M572.6 690.9L574.1 689.3M574.1 689.3l-1.0 0.4M574.1 689.3l-0.4 1.0M572.6 709.0L574.0 707.4M574.0 707.4l-1.0 0.5M574.0 707.4l-0.3 1.0M572.6 727.2L574.1 725.3M574.1 725.3l-1.1 0.6M574.1 725.3l-0.3 1.2M572.6 745.4L574.3 743.3M574.3 743.3l-1.2 0.6M574.3 743.3l-0.3 1.3M572.6 763.5L574.5 761.3M574.5 761.3l-1.4 0.6M574.5 761.3l-0.4 1.4M590.8 218.3L579.9 212.3M579.9 212.3l3.7 4.9M579.9 212.3l6.2 0.5M590.8 236.5L581.0 230.1M581.0 230.1l3.1 4.9M581.0 230.1l5.7 0.9M590.8 254.7L582.9 247.6M582.9 247.6l2.2 4.8M582.9 247.6l5.0 1.6M590.8 272.8L584.6 265.3M584.6 265.3l1.3 4.7M584.6 265.3l4.3 2.2M590.8 291.0L585.8 282.6M585.8 282.6l0.5 4.8M585.8 282.6l4.0 2.8M590.8 309.2L587.7 300.5M587.7 300.5l-0.4 4.6M587.7 300.5l3.2 3.3M590.8 327.4L588.8 319.2M588.8 319.2l-0.7 4.1M588.8 319.2l2.6 3.3M590.8 345.5L589.9 338.6M589.9 338.6l-1.0 3.4M589.9 338.6l1.8 3.0M590.8 363.7L590.1 357.8M590.1 357.8l-0.9 2.8M590.1 357.8l1.5 2.6M590.8 381.9L589.5 376.3M589.5 376.3l-0.6 2.8M589.5 376.3l1.7 2.3M590.8 400.1L588.7 392.8M588.7 392.8l-0.5 3.7M588.7 392.8l2.4 2.9M590.8 418.2L588.9 410.9M588.9 410.9l-0.7 3.7M588.9 410.9l2.3 3.0M590.8 436.4L588.6 429.1M588.6 429.1l-0.5 3.7M588.6 429.1l2.5 2.9M590.8 454.6L588.8 447.3M588.8 447.3l-0.6 3.7M588.8 447.3l2.4 2.9M590.8 472.8L589.0 465.1M589.0 465.1l-0.8 3.8M589.0 465.1l2.4 3.1M590.8 490.9L589.7 483.2M589.7 483.2l-1.1 3.8M589.7 483.2l2.1 3.3M590.8 509.1L589.2 501.4M589.2 501.4l-0.8 3.8M589.2 501.4l2.3 3.2M590.8 527.3L588.6 519.7M588.6 519.7l-0.6 3.9M588.6 519.7l2.5 3.0M590.8 545.5L589.6 539.6M589.6 539.6l-0.7 2.9M589.6 539.6l1.7 2.4M590.8 563.6L590.4 558.0M590.4 558.0l-1.0 2.6M590.4 558.0l1.3 2.5M590.8 581.8L591.1 576.4M591.1 576.4l-1.3 2.4M591.1 576.4l0.9 2.5M590.8 600.0L591.2 594.9M591.2 594.9l-1.2 2.2M591.2 594.9l0.8 2.4M590.8 618.1L591.8 613.7M591.8 613.7l-1.4 1.8M591.8 613.7l0.5 2.2M590.8 636.3L591.9 632.2M591.9 632.2l-1.4 1.7M591.9 632.2l0.3 2.1M590.8 654.5L591.9 650.6M591.9 650.6l-1.3 1.5M591.9 650.6l0.3 2.0M590.8 672.7L592.7 669.1M592.7 669.1l-1.6 1.2M592.7 669.1l-0.1 2.0M590.8 690.9L593.2 687.3M593.2 687.3l-1.9 1.1M593.2 687.3l-0.4 2.1M590.8 709.0L593.2 705.5M593.2 705.5l-1.8 1.1M593.2 705.5l-0.4 2.1M590.8 727.2L593.3 723.4M593.3 723.4l-1.9 1.2M593.3 723.4l-0.4 2.3M590.8 745.4L593.5 741.4M593.5 741.4l-2.1 1.3M593.5 741.4l-0.4 2.4M590.8 763.5L593.7 759.3M593.7 759.3l-2.2 1.3M593.7 759.3l-0.5 2.5M608.9 200.1L598.3 193.4M598.3 193.4l3.5 5.2M598.3 193.4l6.2 0.9M608.9 218.3L599.7 212.2M599.7 212.2l3.0 4.7M599.7 212.2l5.5 0.9M608.9 236.5L600.5 229.8M600.5 229.8l2.5 4.8M600.5 229.8l5.2 1.3M608.9 254.7L602.1 247.1M602.1 247.1l1.6 4.8M602.1 247.1l4.6 2.0M608.9 272.8L603.7 264.6M603.7 264.6l0.7 4.8M603.7 264.6l4.1 2.7M608.9 291.0L605.3 282.3M605.3 282.3l-0.1 4.7M605.3 282.3l3.4 3.2M608.9 309.2L606.7 300.3M606.7 300.3l-0.8 4.5M606.7 300.3l2.8 3.6M608.9 327.4L607.6 319.1M607.6 319.1l-1.1 4.0M607.6 319.1l2.3 3.5M608.9 345.5L607.5 338.1M607.5 338.1l-0.8 3.7M607.5 338.1l2.2 3.1M608.9 363.7L607.8 357.0M607.8 357.0l-0.8 3.3M607.8 357.0l1.9 2.8M608.9 381.9L608.6 375.4M608.6 375.4l-1.2 3.0M608.6 375.4l1.5 2.9M608.9 400.1L607.7 391.5M607.7 391.5l-1.2 4.2M607.7 391.5l2.3 3.6M608.9 418.2L608.6 409.6M608.6 409.6l-1.6 4.0M608.6 409.6l1.9 3.9M608.9 436.4L607.4 427.9M607.4 427.9l-1.0 4.2M607.4 427.9l2.4 3.6M608.9 454.6L606.7 446.2M606.7 446.2l-0.7 4.3M606.7 446.2l2.7 3.4M608.9 472.8L607.6 463.9M607.6 463.9l-1.2 4.3M607.6 463.9l2.4 3.8M608.9 490.9L608.7 482.0M608.7 482.0l-1.7 4.1M608.7 482.0l1.9 4.0M608.9 509.1L607.9 500.3M607.9 500.3l-1.3 4.3M607.9 500.3l2.3 3.8M608.9 527.3L607.0 518.3M607.0 518.3l-0.9 4.5M607.0 518.3l2.7 3.7M608.9 545.5L607.9 538.0M607.9 538.0l-1.0 3.6M607.9 538.0l2.0 3.2M608.9 563.6L609.7 556.1M609.7 556.1l-1.9 3.3M609.7 556.1l1.2 3.6M608.9 581.8L610.7 574.7M610.7 574.7l-2.2 2.9M610.7 574.7l0.6 3.6M608.9 600.0L610.3 592.8M610.3 592.8l-2.1 3.0M610.3 592.8l0.8 3.5M608.9 618.1L610.7 611.6M610.7 611.6l-2.1 2.6M610.7 611.6l0.5 3.3M608.9 636.3L611.0 630.2M611.0 630.2l-2.2 2.4M611.0 630.2l0.3 3.2M608.9 654.5L610.9 648.6M610.9 648.6l-2.1 2.3M610.9 648.6l0.3 3.1M608.9 672.7L611.7 667.1M611.7 667.1l-2.4 2.0M611.7 667.1l-0.1 3.1M608.9 690.9L612.1 685.2M612.1 685.2l-2.6 1.9M612.1 685.2l-0.3 3.2M608.9 709.0L612.2 703.4M612.2 703.4l-2.6 1.9M612.2 703.4l-0.3 3.2M608.9 727.2L612.6 721.6M612.6 721.6l-2.8 1.8M612.6 721.6l-0.5 3.3M608.9 745.4L612.8 739.8M612.8 739.8l-2.9 1.7M612.8 739.8l-0.6 3.3M608.9 763.5L612.9 757.7M612.9 757.7l-3.0 1.8M612.9 757.7l-0.6 3.5M627.1 181.9L616.9 173.6M616.9 173.6l2.9 5.9M616.9 173.6l6.3 1.8M627.1 200.1L618.3 193.4M618.3 193.4l2.7 4.9M618.3 193.4l5.4 1.3M627.1 218.3L619.4 211.6M619.4 211.6l2.2 4.7M619.4 211.6l4.9 1.5M627.1 236.5L620.0 229.1M620.0 229.1l1.7 4.8M620.0 229.1l4.7 1.9M627.1 254.7L621.6 247.0M621.6 247.0l1.0 4.6M621.6 247.0l4.1 2.4M627.1 272.8L622.7 264.4M622.7 264.4l0.3 4.7M622.7 264.4l3.7 2.9M627.1 291.0L623.8 282.4M623.8 282.4l-0.2 4.6M623.8 282.4l3.3 3.2M627.1 309.2L625.2 300.5M625.2 300.5l-0.9 4.4M625.2 300.5l2.6 3.6M627.1 327.4L626.4 319.0M626.4 319.0l-1.4 4.0M626.4 319.0l2.0 3.7M627.1 345.5L625.7 338.1M625.7 338.1l-0.9 3.7M625.7 338.1l2.1 3.1M627.1 363.7L625.6 356.6M625.6 356.6l-0.8 3.6M625.6 356.6l2.1 3.0M627.1 381.9L625.9 374.4M625.9 374.4l-1.0 3.6M625.9 374.4l2.0 3.2M627.1 400.1L625.6 391.0M625.6 391.0l-1.2 4.4M625.6 391.0l2.5 3.8M627.1 418.2L625.9 409.1M625.9 409.1l-1.3 4.4M625.9 409.1l2.4 3.9M627.1 436.4L625.5 427.4M625.5 427.4l-1.1 4.5M625.5 427.4l2.6 3.8M627.1 454.6L625.3 445.3M625.3 445.3l-1.1 4.6M625.3 445.3l2.7 3.9M627.1 472.8L625.7 463.4M625.7 463.4l-1.3 4.5M625.7 463.4l2.5 4.0M627.1 490.9L626.3 481.5M626.3 481.5l-1.5 4.5M626.3 481.5l2.3 4.1M627.1 509.1L626.0 499.4M626.0 499.4l-1.5 4.6M626.0 499.4l2.5 4.2M627.1 527.3L625.9 517.6M625.9 517.6l-1.4 4.6M625.9 517.6l2.5 4.2M627.1 545.5L626.5 537.1M626.5 537.1l-1.4 3.9M626.5 537.1l2.0 3.7M627.1 563.6L627.8 555.3M627.8 555.3l-2.0 3.7M627.8 555.3l1.4 4.0M627.1 581.8L628.6 573.6M628.6 573.6l-2.4 3.4M628.6 573.6l1.0 4.1M627.1 600.0L628.6 591.7M628.6 591.7l-2.3 3.5M628.6 591.7l1.0 4.1M627.1 618.1L629.0 610.0M629.0 610.0l-2.5 3.3M629.0 610.0l0.8 4.1M627.1 636.3L629.5 628.6M629.5 628.6l-2.7 3.0M629.5 628.6l0.5 4.0M627.1 654.5L629.7 646.8M629.7 646.8l-2.7 3.0M629.7 646.8l0.4 4.0M627.1 672.7L630.5 665.2M630.5 665.2l-3.1 2.7M630.5 665.2l-0.0 4.1M627.1 690.9L630.9 683.4M630.9 683.4l-3.2 2.6M630.9 683.4l-0.2 4.2M627.1 709.0L630.9 701.6M630.9 701.6l-3.3 2.6M630.9 701.6l-0.2 4.2M627.1 727.2L631.4 720.0M631.4 720.0l-3.4 2.4M631.4 720.0l-0.5 4.2M627.1 745.4L631.9 738.2M631.9 738.2l-3.6 2.3M631.9 738.2l-0.7 4.3M627.1 763.5L631.8 756.3M631.8 756.3l-3.6 2.4M631.8 756.3l-0.7 4.3M645.3 145.6L634.9 137.5M634.9 137.5l3.1 5.8M634.9 137.5l6.4 1.6M645.3 163.8L634.3 156.5M634.3 156.5l3.5 5.5M634.3 156.5l6.5 1.1M645.3 181.9L637.1 174.5M637.1 174.5l2.2 5.1M637.1 174.5l5.3 1.7M645.3 200.1L637.8 193.1M637.8 193.1l2.0 4.7M637.8 193.1l4.8 1.7M645.3 218.3L638.4 211.1M638.4 211.1l1.7 4.7M638.4 211.1l4.6 1.9M645.3 236.5L639.4 228.7M639.4 228.7l1.1 4.7M639.4 228.7l4.3 2.3M645.3 254.7L640.7 246.4M640.7 246.4l0.4 4.7M640.7 246.4l3.8 2.9M645.3 272.8L641.7 264.1M641.7 264.1l-0.1 4.7M641.7 264.1l3.4 3.3M645.3 291.0L642.1 282.4M642.1 282.4l-0.3 4.6M642.1 282.4l3.2 3.3M645.3 309.2L643.2 300.5M643.2 300.5l-0.8 4.4M643.2 300.5l2.7 3.5M645.3 327.4L643.8 318.8M643.8 318.8l-1.0 4.2M643.8 318.8l2.4 3.6M645.3 345.5L644.1 337.5M644.1 337.5l-1.1 3.9M644.1 337.5l2.2 3.4M645.3 363.7L644.0 355.7M644.0 355.7l-1.0 3.9M644.0 355.7l2.2 3.4M645.3 381.9L644.4 373.8M644.4 373.8l-1.2 3.9M644.4 373.8l2.0 3.5M645.3 400.1L644.2 390.4M644.2 390.4l-1.5 4.6M644.2 390.4l2.5 4.2M645.3 418.2L644.6 408.5M644.6 408.5l-1.7 4.6M644.6 408.5l2.3 4.3M645.3 436.4L644.5 426.7M644.5 426.7l-1.6 4.6M644.5 426.7l2.3 4.3M645.3 454.6L644.9 444.6M644.9 444.6l-1.9 4.6M644.9 444.6l2.2 4.5M645.3 472.8L644.7 462.8M644.7 462.8l-1.8 4.7M644.7 462.8l2.3 4.4M645.3 490.9L644.9 480.9M644.9 480.9l-1.9 4.6M644.9 480.9l2.2 4.5M645.3 509.1L645.0 498.8M645.0 498.8l-2.0 4.7M645.0 498.8l2.2 4.6M645.3 527.3L645.5 517.0M645.5 517.0l-2.2 4.6M645.5 517.0l2.0 4.7M645.3 545.5L645.5 536.3M645.5 536.3l-2.0 4.1M645.5 536.3l1.8 4.2M645.3 563.6L646.6 554.5M646.6 554.5l-2.5 3.9M646.6 554.5l1.2 4.4M645.3 581.8L647.6 572.6M647.6 572.6l-2.9 3.7M647.6 572.6l0.8 4.7M645.3 600.0L647.3 590.7M647.3 590.7l-2.8 3.8M647.3 590.7l0.9 4.6M645.3 618.1L647.1 608.9M647.1 608.9l-2.7 3.9M647.1 608.9l1.1 4.6M645.3 636.3L647.5 627.1M647.5 627.1l-2.9 3.7M647.5 627.1l0.8 4.6M645.3 654.5L648.2 645.5M648.2 645.5l-3.2 3.5M648.2 645.5l0.5 4.7M645.3 672.7L649.1 663.9M649.1 663.9l-3.5 3.2M649.1 663.9l0.0 4.8M645.3 690.9L649.4 682.0M649.4 682.0l-3.7 3.2M649.4 682.0l-0.1 4.9M645.3 709.0L649.4 700.2M649.4 700.2l-3.7 3.2M649.4 700.2l-0.1 4.9M645.3 727.2L649.6 718.5M649.6 718.5l-3.8 3.1M649.6 718.5l-0.2 4.9M645.3 745.4L650.1 736.6M650.1 736.6l-4.0 3.0M650.1 736.6l-0.4 5.0M645.3 763.5L650.0 754.8M650.0 754.8l-4.0 3.0M650.0 754.8l-0.4 5.0M663.5 91.1L652.2 84.3M652.2 84.3l3.8 5.4M652.2 84.3l6.5 0.8M663.5 127.4L652.6 120.6M652.6 120.6l3.6 5.3M652.6 120.6l6.3 0.9M663.5 145.6L655.0 138.4M655.0 138.4l2.4 5.0M655.0 138.4l5.3 1.6M663.5 163.8L655.8 156.2M655.8 156.2l2.0 5.0M655.8 156.2l5.1 1.9M663.5 181.9L656.6 174.3M656.6 174.3l1.6 4.9M656.6 174.3l4.7 2.1M663.5 200.1L657.1 192.4M657.1 192.4l1.3 4.8M657.1 192.4l4.5 2.2M663.5 218.3L657.9 210.6M657.9 210.6l1.0 4.6M657.9 210.6l4.1 2.4M663.5 236.5L658.8 228.3M658.8 228.3l0.5 4.7M658.8 228.3l3.8 2.8M663.5 254.7L660.0 245.8M660.0 245.8l-0.2 4.7M660.0 245.8l3.4 3.3M663.5 272.8L660.9 263.7M660.9 263.7l-0.7 4.7M660.9 263.7l3.0 3.6M663.5 291.0L660.9 281.9M660.9 281.9l-0.7 4.7M660.9 281.9l3.0 3.6M663.5 309.2L662.7 300.0M662.7 300.0l-1.5 4.3M662.7 300.0l2.2 4.0M663.5 327.4L662.2 318.5M662.2 318.5l-1.2 4.3M662.2 318.5l2.3 3.8M663.5 345.5L663.2 336.9M663.2 336.9l-1.6 4.0M663.2 336.9l1.9 3.9M663.5 363.7L662.8 355.1M662.8 355.1l-1.4 4.1M662.8 355.1l2.1 3.8M663.5 381.9L663.4 373.2M663.4 373.2l-1.7 4.0M663.4 373.2l1.8 3.9M663.5 400.1L663.1 390.3M663.1 390.3l-1.8 4.5M663.1 390.3l2.1 4.4M663.5 418.2L663.8 408.5M663.8 408.5l-2.1 4.4M663.8 408.5l1.8 4.5M663.5 436.4L663.5 426.7M663.5 426.7l-2.0 4.4M663.5 426.7l2.0 4.4M663.5 454.6L664.0 444.9M664.0 444.9l-2.2 4.3M664.0 444.9l1.7 4.5M663.5 472.8L663.5 462.8M663.5 462.8l-2.1 4.5M663.5 462.8l2.0 4.6M663.5 490.9L663.7 480.9M663.7 480.9l-2.2 4.5M663.7 480.9l1.9 4.6M663.5 509.1L663.7 499.1M663.7 499.1l-2.2 4.5M663.7 499.1l1.9 4.6M663.5 527.3L664.2 517.3M664.2 517.3l-2.4 4.4M664.2 517.3l1.7 4.7M663.5 545.5L664.2 535.5M664.2 535.5l-2.4 4.4M664.2 535.5l1.7 4.7M663.5 563.6L665.9 553.7M665.9 553.7l-3.1 4.1M665.9 553.7l0.9 5.0M663.5 581.8L666.9 571.9M666.9 571.9l-3.6 3.8M666.9 571.9l0.4 5.2M663.5 600.0L666.4 589.9M666.4 589.9l-3.4 4.0M666.4 589.9l0.7 5.2M663.5 618.1L665.6 607.6M665.6 607.6l-3.1 4.4M665.6 607.6l1.2 5.3M663.5 636.3L665.8 625.5M665.8 625.5l-3.3 4.5M665.8 625.5l1.2 5.4M663.5 654.5L666.7 643.6M666.7 643.6l-3.7 4.3M666.7 643.6l0.7 5.6M663.5 672.7L667.7 662.2M667.7 662.2l-4.1 3.9M667.7 662.2l0.2 5.7M663.5 690.9L668.2 680.2M668.2 680.2l-4.3 3.9M668.2 680.2l-0.0 5.8M663.5 709.0L668.2 698.4M668.2 698.4l-4.3 3.9M668.2 698.4l-0.0 5.8M663.5 727.2L668.4 716.7M668.4 716.7l-4.4 3.8M668.4 716.7l-0.1 5.8M663.5 745.4L668.8 734.8M668.8 734.8l-4.6 3.8M668.8 734.8l-0.3 5.9M663.5 763.5L668.7 752.9M668.7 752.9l-4.6 3.8M668.7 752.9l-0.3 5.9M681.6 72.9L669.4 65.6M669.4 65.6l4.1 5.8M669.4 65.6l7.1 0.8M681.6 91.1L670.6 83.9M670.6 83.9l3.6 5.5M670.6 83.9l6.5 1.0M681.6 109.2L671.0 102.6M671.0 102.6l3.5 5.2M671.0 102.6l6.2 0.9M681.6 127.4L672.7 120.9M672.7 120.9l2.8 4.8M672.7 120.9l5.4 1.1M681.6 145.6L673.8 138.2M673.8 138.2l2.1 5.0M673.8 138.2l5.1 1.8M681.6 163.8L675.0 156.0M675.0 156.0l1.5 4.9M675.0 156.0l4.6 2.2M681.6 181.9L675.5 173.7M675.5 173.7l1.1 5.0M675.5 173.7l4.5 2.5M681.6 200.1L676.5 191.6M676.5 191.6l0.6 5.0M676.5 191.6l4.1 2.9M681.6 218.3L677.2 209.9M677.2 209.9l0.3 4.7M677.2 209.9l3.7 2.9M681.6 236.5L678.1 227.7M678.1 227.7l-0.2 4.7M678.1 227.7l3.4 3.3M681.6 254.7L678.3 245.5M678.3 245.5l-0.4 4.8M678.3 245.5l3.4 3.5M681.6 272.8L678.9 262.9M678.9 262.9l-0.8 5.1M678.9 262.9l3.3 4.0M681.6 291.0L679.0 281.1M679.0 281.1l-0.8 5.1M679.0 281.1l3.2 4.0M681.6 309.2L679.8 299.6M679.8 299.6l-1.1 4.7M679.8 299.6l2.8 4.0M681.6 327.4L680.1 318.3M680.1 318.3l-1.2 4.4M680.1 318.3l2.5 3.8M681.6 345.5L680.6 336.4M680.6 336.4l-1.4 4.4M680.6 336.4l2.3 4.0M681.6 363.7L680.6 354.6M680.6 354.6l-1.4 4.4M680.6 354.6l2.3 4.0M681.6 381.9L681.0 372.7M681.0 372.7l-1.6 4.3M681.0 372.7l2.1 4.1M681.6 400.1L681.1 389.5M681.1 389.5l-1.9 4.9M681.1 389.5l2.4 4.7M681.6 418.2L681.5 407.7M681.5 407.7l-2.1 4.8M681.5 407.7l2.2 4.8M681.6 436.4L681.5 425.9M681.5 425.9l-2.1 4.8M681.5 425.9l2.2 4.8M681.6 454.6L681.8 444.0M681.8 444.0l-2.2 4.8M681.8 444.0l2.1 4.8M681.6 472.8L681.7 462.0M681.7 462.0l-2.2 4.9M681.7 462.0l2.2 4.9M681.6 490.9L681.7 480.1M681.7 480.1l-2.3 4.9M681.7 480.1l2.1 5.0M681.6 509.1L681.9 498.3M681.9 498.3l-2.3 4.9M681.9 498.3l2.1 5.0M681.6 527.3L682.3 516.5M682.3 516.5l-2.5 4.8M682.3 516.5l1.9 5.1M681.6 545.5L682.5 534.4M682.5 534.4l-2.7 4.9M682.5 534.4l1.8 5.2M681.6 563.6L683.7 552.5M683.7 552.5l-3.2 4.7M683.7 552.5l1.3 5.5M681.6 581.8L684.8 570.6M684.8 570.6l-3.7 4.4M684.8 570.6l0.8 5.7M681.6 600.0L684.5 588.5M684.5 588.5l-3.7 4.7M684.5 588.5l1.0 5.9M681.6 618.1L683.9 606.2M683.9 606.2l-3.5 5.0M683.9 606.2l1.4 5.9M681.6 636.3L684.1 624.2M684.1 624.2l-3.6 5.0M684.1 624.2l1.3 6.0M681.6 654.5L685.1 642.4M685.1 642.4l-4.0 4.8M685.1 642.4l0.9 6.2M681.6 672.7L686.1 660.7M686.1 660.7l-4.5 4.5M686.1 660.7l0.4 6.4M681.6 690.9L686.7 678.9M686.7 678.9l-4.7 4.4M686.7 678.9l0.1 6.5M681.6 709.0L687.0 697.2M687.0 697.2l-4.8 4.3M687.0 697.2l-0.0 6.5M681.6 727.2L687.6 715.5M687.6 715.5l-5.1 4.1M687.6 715.5l-0.4 6.6M681.6 745.4L688.0 733.9M688.0 733.9l-5.2 4.0M688.0 733.9l-0.6 6.6M681.6 763.5L687.9 751.8M687.9 751.8l-5.3 4.1M687.9 751.8l-0.5 6.7M699.8 54.7L687.1 47.2M687.1 47.2l4.3 6.0M687.1 47.2l7.3 0.9M699.8 72.9L687.9 65.1M687.9 65.1l3.9 6.0M687.9 65.1l7.0 1.1M699.8 91.1L689.3 83.4M689.3 83.4l3.2 5.6M689.3 83.4l6.3 1.4M699.8 109.2L690.3 101.7M690.3 101.7l2.8 5.4M690.3 101.7l5.9 1.5M699.8 127.4L691.6 120.4M691.6 120.4l2.3 4.9M691.6 120.4l5.2 1.6M699.8 145.6L692.8 138.1M692.8 138.1l1.7 4.8M692.8 138.1l4.7 2.0M699.8 163.8L693.3 155.8M693.3 155.8l1.3 5.0M693.3 155.8l4.6 2.3M699.8 181.9L694.3 173.3M694.3 173.3l0.7 5.1M694.3 173.3l4.3 2.9M699.8 200.1L695.5 191.1M695.5 191.1l0.1 5.0M695.5 191.1l3.8 3.2M699.8 218.3L696.2 209.5M696.2 209.5l-0.2 4.7M696.2 209.5l3.4 3.3M699.8 236.5L697.2 227.4M697.2 227.4l-0.6 4.7M697.2 227.4l3.1 3.6M699.8 254.7L697.2 245.0M697.2 245.0l-0.8 4.9M697.2 245.0l3.2 3.9M699.8 272.8L697.7 262.0M697.7 262.0l-1.2 5.4M697.7 262.0l3.2 4.5M699.8 291.0L697.6 279.9M697.6 279.9l-1.3 5.5M697.6 279.9l3.3 4.6M699.8 309.2L698.5 298.7M698.5 298.7l-1.5 5.0M698.5 298.7l2.7 4.5M699.8 327.4L698.4 317.7M698.4 317.7l-1.3 4.7M698.4 317.7l2.6 4.1M699.8 345.5L698.4 336.2M698.4 336.2l-1.3 4.5M698.4 336.2l2.5 4.0M699.8 363.7L698.7 354.3M698.7 354.3l-1.4 4.5M698.7 354.3l2.4 4.1M699.8 381.9L699.0 372.5M699.0 372.5l-1.6 4.5M699.0 372.5l2.3 4.1M699.8 400.1L699.5 389.3M699.5 389.3l-2.1 5.0M699.5 389.3l2.3 4.9M699.8 418.2L700.1 407.4M700.1 407.4l-2.3 4.9M700.1 407.4l2.1 5.0M699.8 436.4L700.1 425.6M700.1 425.6l-2.3 4.9M700.1 425.6l2.0 5.0M699.8 454.6L700.4 443.8M700.4 443.8l-2.5 4.8M700.4 443.8l1.9 5.1M699.8 472.8L700.2 461.7M700.2 461.7l-2.5 5.0M700.2 461.7l2.0 5.1M699.8 490.9L700.2 479.9M700.2 479.9l-2.5 5.0M700.2 479.9l2.0 5.1M699.8 509.1L700.7 498.1M700.7 498.1l-2.6 4.9M700.7 498.1l1.8 5.2M699.8 527.3L701.2 516.3M701.2 516.3l-2.9 4.7M701.2 516.3l1.6 5.3M699.8 545.5L701.2 533.8M701.2 533.8l-3.0 5.0M701.2 533.8l1.7 5.6M699.8 563.6L701.7 551.8M701.7 551.8l-3.3 5.0M701.7 551.8l1.5 5.8M699.8 581.8L702.4 569.8M702.4 569.8l-3.6 4.9M702.4 569.8l1.2 6.0M699.8 600.0L702.4 587.8M702.4 587.8l-3.7 5.0M702.4 587.8l1.3 6.1M699.8 618.1L702.3 605.5M702.3 605.5l-3.7 5.3M702.3 605.5l1.4 6.3M699.8 636.3L702.7 623.4M702.7 623.4l-3.9 5.3M702.7 623.4l1.3 6.5M699.8 654.5L703.9 641.5M703.9 641.5l-4.5 5.1M703.9 641.5l0.7 6.8M699.8 672.7L705.3 660.0M705.3 660.0l-5.1 4.7M705.3 660.0l0.1 6.9M699.8 690.9L705.8 678.3M705.8 678.3l-5.3 4.5M705.8 678.3l-0.2 6.9M699.8 709.0L705.9 696.3M705.9 696.3l-5.4 4.6M705.9 696.3l-0.2 7.0M699.8 727.2L706.5 714.8M706.5 714.8l-5.6 4.3M706.5 714.8l-0.6 7.0M699.8 745.4L706.9 733.0M706.9 733.0l-5.8 4.2M706.9 733.0l-0.7 7.1M699.8 763.5L706.7 751.1M706.7 751.1l-5.7 4.3M706.7 751.1l-0.6 7.1M718.0 36.5L701.8 27.0M701.8 27.0l5.5 7.7M701.8 27.0l9.3 1.1M718.0 54.7L705.3 47.2M705.3 47.2l4.3 6.0M705.3 47.2l7.3 0.9M718.0 72.9L706.4 64.9M706.4 64.9l3.7 6.0M706.4 64.9l6.9 1.3M718.0 91.1L707.8 83.7M707.8 83.7l3.1 5.4M707.8 83.7l6.1 1.3M718.0 109.2L709.5 101.4M709.5 101.4l2.3 5.3M709.5 101.4l5.5 1.9M718.0 127.4L710.4 119.7M710.4 119.7l1.9 5.1M710.4 119.7l5.0 2.0M718.0 145.6L711.5 137.7M711.5 137.7l1.3 5.0M711.5 137.7l4.6 2.3M718.0 163.8L712.1 155.3M712.1 155.3l0.9 5.0M712.1 155.3l4.4 2.7M718.0 181.9L713.2 172.9M713.2 172.9l0.3 5.1M713.2 172.9l4.0 3.2M718.0 200.1L714.5 190.8M714.5 190.8l-0.3 5.0M714.5 190.8l3.5 3.6M718.0 218.3L715.2 209.3M715.2 209.3l-0.6 4.7M715.2 209.3l3.1 3.6M718.0 236.5L716.1 227.2M716.1 227.2l-1.0 4.6M716.1 227.2l2.7 3.9M718.0 254.7L716.1 244.6M716.1 244.6l-1.2 5.0M716.1 244.6l2.9 4.2M718.0 272.8L716.7 261.2M716.7 261.2l-1.8 5.6M716.7 261.2l3.0 5.1M718.0 291.0L716.7 279.2M716.7 279.2l-1.8 5.7M716.7 279.2l3.0 5.1M718.0 309.2L718.0 298.4M718.0 298.4l-2.2 4.9M718.0 298.4l2.2 4.9M718.0 327.4L717.3 317.4M717.3 317.4l-1.7 4.7M717.3 317.4l2.3 4.4M718.0 345.5L717.3 335.8M717.3 335.8l-1.7 4.6M717.3 335.8l2.3 4.3M718.0 363.7L717.5 354.0M717.5 354.0l-1.8 4.5M717.5 354.0l2.2 4.3M718.0 381.9L718.0 372.2M718.0 372.2l-2.0 4.4M718.0 372.2l2.0 4.4M718.0 400.1L718.4 388.7M718.4 388.7l-2.5 5.1M718.4 388.7l2.1 5.3M718.0 418.2L719.0 406.9M719.0 406.9l-2.8 4.9M719.0 406.9l1.8 5.4M718.0 436.4L718.9 424.8M718.9 424.8l-2.8 5.1M718.9 424.8l1.9 5.5M718.0 454.6L719.3 443.0M719.3 443.0l-3.0 5.0M719.3 443.0l1.7 5.5M718.0 472.8L719.1 460.9M719.1 460.9l-2.9 5.2M719.1 460.9l1.9 5.6M718.0 490.9L719.4 479.1M719.4 479.1l-3.1 5.1M719.4 479.1l1.7 5.7M718.0 509.1L719.6 497.3M719.6 497.3l-3.1 5.0M719.6 497.3l1.6 5.7M718.0 527.3L720.0 515.6M720.0 515.6l-3.3 4.9M720.0 515.6l1.5 5.8M718.0 545.5L719.9 533.5M719.9 533.5l-3.3 5.1M719.9 533.5l1.5 5.9M718.0 563.6L721.0 551.4M721.0 551.4l-3.9 5.0M721.0 551.4l1.1 6.2M718.0 581.8L722.0 569.7M722.0 569.7l-4.3 4.7M722.0 569.7l0.6 6.3M718.0 600.0L721.7 587.6M721.7 587.6l-4.2 4.9M721.7 587.6l0.8 6.4M718.0 618.1L721.1 605.2M721.1 605.2l-4.1 5.3M721.1 605.2l1.2 6.6M718.0 636.3L721.3 623.0M721.3 623.0l-4.2 5.4M721.3 623.0l1.2 6.8M718.0 654.5L722.7 641.2M722.7 641.2l-4.8 5.1M722.7 641.2l0.6 7.0M718.0 672.7L724.2 659.5M724.2 659.5l-5.5 4.8M724.2 659.5l-0.2 7.3M718.0 690.9L724.6 677.7M724.6 677.7l-5.7 4.7M724.6 677.7l-0.4 7.4M718.0 709.0L724.6 695.6M724.6 695.6l-5.7 4.8M724.6 695.6l-0.3 7.5M718.0 727.2L724.8 713.9M724.8 713.9l-5.8 4.7M724.8 713.9l-0.4 7.5M718.0 745.4L725.3 732.2M725.3 732.2l-6.0 4.6M725.3 732.2l-0.6 7.5M718.0 763.5L725.1 750.2M725.1 750.2l-6.0 4.6M725.1 750.2l-0.5 7.5M736.1 72.9L725.0 64.9M725.0 64.9l3.5 5.9M725.0 64.9l6.7 1.4M736.1 91.1L726.8 83.1M726.8 83.1l2.7 5.6M726.8 83.1l5.9 1.8M736.1 109.2L728.4 101.3M728.4 101.3l1.9 5.2M728.4 101.3l5.1 2.0M736.1 127.4L729.4 119.4M729.4 119.4l1.5 5.1M729.4 119.4l4.7 2.3M736.1 145.6L730.2 137.2M730.2 137.2l1.0 5.0M730.2 137.2l4.4 2.6M736.1 163.8L731.0 154.9M731.0 154.9l0.5 5.1M731.0 154.9l4.1 3.0M736.1 181.9L732.3 172.7M732.3 172.7l-0.1 5.0M732.3 172.7l3.6 3.4M736.1 200.1L734.0 190.4M734.0 190.4l-1.0 4.9M734.0 190.4l3.0 4.0M736.1 218.3L734.1 208.5M734.1 208.5l-1.1 4.9M734.1 208.5l2.9 4.1M736.1 236.5L735.0 226.3M735.0 226.3l-1.5 4.9M735.0 226.3l2.6 4.4M736.1 254.7L734.9 244.1M734.9 244.1l-1.6 5.1M734.9 244.1l2.7 4.6M736.1 272.8L735.5 260.7M735.5 260.7l-2.2 5.7M735.5 260.7l2.8 5.4M736.1 291.0L735.1 278.8M735.1 278.8l-2.0 5.8M735.1 278.8l3.0 5.4M736.1 309.2L735.5 298.0M735.5 298.0l-2.0 5.2M735.5 298.0l2.6 5.0M736.1 327.4L735.6 317.1M735.6 317.1l-1.9 4.8M735.6 317.1l2.3 4.6M736.1 345.5L736.1 335.4M736.1 335.4l-2.0 4.6M736.1 335.4l2.1 4.6M736.1 363.7L736.1 353.6M736.1 353.6l-2.1 4.6M736.1 353.6l2.1 4.6M736.1 381.9L736.8 371.8M736.8 371.8l-2.3 4.5M736.8 371.8l1.8 4.7M736.1 400.1L736.7 388.2M736.7 388.2l-2.7 5.3M736.7 388.2l2.2 5.5M736.1 418.2L737.0 406.1M737.0 406.1l-2.8 5.4M737.0 406.1l2.1 5.7M736.1 436.4L737.1 424.3M737.1 424.3l-2.9 5.3M737.1 424.3l2.0 5.7M736.1 454.6L737.4 442.3M737.4 442.3l-3.1 5.4M737.4 442.3l1.9 5.9M736.1 472.8L737.8 460.3M737.8 460.3l-3.3 5.4M737.8 460.3l1.8 6.0M736.1 490.9L738.3 478.5M738.3 478.5l-3.5 5.2M738.3 478.5l1.6 6.1M736.1 509.1L738.1 496.5M738.1 496.5l-3.5 5.4M738.1 496.5l1.7 6.2M736.1 527.3L738.2 514.7M738.2 514.7l-3.5 5.3M738.2 514.7l1.6 6.2M736.1 545.5L738.6 532.5M738.6 532.5l-3.7 5.4M738.6 532.5l1.5 6.4M736.1 563.6L740.3 550.9M740.3 550.9l-4.5 5.0M740.3 550.9l0.7 6.6M736.1 581.8L741.1 569.2M741.1 569.2l-4.8 4.7M741.1 569.2l0.3 6.8M736.1 600.0L740.8 587.1M740.8 587.1l-4.7 5.0M740.8 587.1l0.5 6.8M736.1 618.1L739.9 604.8M739.9 604.8l-4.4 5.4M739.9 604.8l1.0 6.9M736.1 636.3L739.8 622.5M739.8 622.5l-4.5 5.6M739.8 622.5l1.1 7.0M736.1 654.5L741.0 640.7M741.0 640.7l-5.0 5.3M741.0 640.7l0.6 7.3M736.1 672.7L742.3 659.0M742.3 659.0l-5.6 5.0M742.3 659.0l-0.0 7.5M736.1 690.9L742.8 677.1M742.8 677.1l-5.8 4.9M742.8 677.1l-0.3 7.6M736.1 709.0L742.8 695.1M742.8 695.1l-5.9 5.0M742.8 695.1l-0.2 7.7M736.1 727.2L742.8 713.3M742.8 713.3l-5.9 5.0M742.8 713.3l-0.2 7.7M736.1 745.4L742.9 731.5M742.9 731.5l-5.9 5.0M742.9 731.5l-0.3 7.7M736.1 763.5L742.8 749.6M742.8 749.6l-5.9 5.0M742.8 749.6l-0.2 7.7M754.3 54.7L741.9 46.7M741.9 46.7l4.0 6.2M741.9 46.7l7.3 1.1M754.3 72.9L744.1 65.0M744.1 65.0l3.1 5.7M744.1 65.0l6.3 1.5M754.3 91.1L745.8 82.8M745.8 82.8l2.2 5.5M745.8 82.8l5.6 2.0M754.3 109.2L747.3 101.0M747.3 101.0l1.5 5.2M747.3 101.0l4.9 2.3M754.3 127.4L748.3 119.1M748.3 119.1l1.0 5.0M748.3 119.1l4.4 2.6M754.3 145.6L749.1 137.1M749.1 137.1l0.6 5.0M749.1 137.1l4.1 2.8M754.3 163.8L750.1 154.7M750.1 154.7l0.1 5.0M750.1 154.7l3.8 3.3M754.3 181.9L751.2 172.5M751.2 172.5l-0.5 5.0M751.2 172.5l3.3 3.7M754.3 200.1L753.1 190.2M753.1 190.2l-1.4 4.8M753.1 190.2l2.6 4.3M754.3 218.3L753.0 208.4M753.0 208.4l-1.4 4.8M753.0 208.4l2.6 4.2M754.3 236.5L753.9 226.0M753.9 226.0l-2.0 4.9M753.9 226.0l2.3 4.7M754.3 254.7L753.5 243.5M753.5 243.5l-1.9 5.3M753.5 243.5l2.7 4.9M754.3 272.8L754.1 260.4M754.1 260.4l-2.4 5.7M754.1 260.4l2.7 5.6M754.3 291.0L753.7 278.4M753.7 278.4l-2.3 5.9M753.7 278.4l2.9 5.6M754.3 309.2L754.1 297.4M754.1 297.4l-2.3 5.4M754.1 297.4l2.5 5.3M754.3 327.4L753.9 316.4M753.9 316.4l-2.0 5.1M753.9 316.4l2.4 4.9M754.3 345.5L754.0 334.9M754.0 334.9l-2.0 4.9M754.0 334.9l2.3 4.8M754.3 363.7L754.3 353.2M754.3 353.2l-2.1 4.8M754.3 353.2l2.2 4.8M754.3 381.9L754.7 371.4M754.7 371.4l-2.3 4.7M754.7 371.4l2.0 4.9M754.3 400.1L755.2 387.3M755.2 387.3l-3.0 5.6M755.2 387.3l2.2 6.0M754.3 418.2L756.0 405.4M756.0 405.4l-3.4 5.5M756.0 405.4l1.8 6.2M754.3 436.4L756.0 423.6M756.0 423.6l-3.4 5.5M756.0 423.6l1.8 6.2M754.3 454.6L756.5 441.6M756.5 441.6l-3.6 5.5M756.5 441.6l1.7 6.4M754.3 472.8L756.3 459.6M756.3 459.6l-3.6 5.6M756.3 459.6l1.8 6.4M754.3 490.9L756.5 477.6M756.5 477.6l-3.7 5.7M756.5 477.6l1.7 6.5M754.3 509.1L756.7 495.8M756.7 495.8l-3.8 5.6M756.7 495.8l1.6 6.6M754.3 527.3L757.2 514.1M757.2 514.1l-4.0 5.4M757.2 514.1l1.4 6.6M754.3 545.5L757.3 532.1M757.3 532.1l-4.1 5.5M757.3 532.1l1.3 6.7M754.3 563.6L758.3 550.3M758.3 550.3l-4.5 5.3M758.3 550.3l0.9 6.9M754.3 581.8L759.1 568.6M759.1 568.6l-4.9 5.1M759.1 568.6l0.5 7.0M754.3 600.0L758.9 586.5M758.9 586.5l-4.8 5.2M758.9 586.5l0.7 7.1M754.3 618.1L758.4 604.1M758.4 604.1l-4.7 5.6M758.4 604.1l1.0 7.2M754.3 636.3L758.4 621.9M758.4 621.9l-4.8 5.8M758.4 621.9l1.1 7.4M754.3 654.5L759.4 640.1M759.4 640.1l-5.2 5.6M759.4 640.1l0.6 7.6M754.3 672.7L760.5 658.4M760.5 658.4l-5.7 5.3M760.5 658.4l0.1 7.7M754.3 690.9L761.0 676.6M761.0 676.6l-5.9 5.1M761.0 676.6l-0.2 7.9M754.3 709.0L761.1 694.7M761.1 694.7l-6.0 5.2M761.1 694.7l-0.2 7.9M754.3 727.2L761.1 712.8M761.1 712.8l-6.0 5.2M761.1 712.8l-0.2 7.9M754.3 745.4L761.1 731.0M761.1 731.0l-6.0 5.2M761.1 731.0l-0.2 7.9M754.3 763.5L761.0 749.1M761.0 749.1l-6.0 5.2M761.0 749.1l-0.1 7.9M772.5 36.5L760.2 28.7M760.2 28.7l4.0 6.1M760.2 28.7l7.2 1.1M772.5 54.7L761.4 46.7M761.4 46.7l3.5 5.9M761.4 46.7l6.7 1.4M772.5 72.9L763.2 64.8M763.2 64.8l2.6 5.6M763.2 64.8l5.9 1.8M772.5 91.1L764.3 82.8M764.3 82.8l2.0 5.4M764.3 82.8l5.4 2.1M772.5 109.2L766.2 101.2M766.2 101.2l1.2 5.0M766.2 101.2l4.5 2.4M772.5 127.4L767.0 119.4M767.0 119.4l0.9 4.8M767.0 119.4l4.1 2.5M772.5 145.6L767.8 137.1M767.8 137.1l0.4 4.8M767.8 137.1l3.9 2.9M772.5 163.8L769.0 154.7M769.0 154.7l-0.2 4.9M769.0 154.7l3.4 3.4M772.5 181.9L769.9 172.3M769.9 172.3l-0.8 4.9M769.9 172.3l3.1 3.9M772.5 200.1L771.8 190.2M771.8 190.2l-1.7 4.7M771.8 190.2l2.4 4.4M772.5 218.3L771.4 208.4M771.4 208.4l-1.5 4.8M771.4 208.4l2.5 4.3M772.5 236.5L771.7 225.7M771.7 225.7l-1.8 5.1M771.7 225.7l2.6 4.8M772.5 254.7L771.7 242.9M771.7 242.9l-2.0 5.5M771.7 242.9l2.8 5.2M772.5 272.8L772.0 259.9M772.0 259.9l-2.4 6.0M772.0 259.9l2.8 5.8M772.5 291.0L772.4 277.9M772.4 277.9l-2.6 6.0M772.4 277.9l2.7 6.0M772.5 309.2L773.4 296.8M773.4 296.8l-2.9 5.5M773.4 296.8l2.1 5.8M772.5 327.4L772.6 315.7M772.6 315.7l-2.4 5.3M772.6 315.7l2.3 5.3M772.5 345.5L772.5 334.2M772.5 334.2l-2.3 5.2M772.5 334.2l2.3 5.2M772.5 363.7L772.8 352.4M772.8 352.4l-2.4 5.1M772.8 352.4l2.2 5.2M772.5 381.9L773.4 370.6M773.4 370.6l-2.7 5.0M773.4 370.6l1.9 5.3M772.5 400.1L774.2 386.8M774.2 386.8l-3.5 5.7M774.2 386.8l1.9 6.4M772.5 418.2L775.2 405.0M775.2 405.0l-3.9 5.5M775.2 405.0l1.5 6.6M772.5 436.4L775.0 422.9M775.0 422.9l-3.9 5.7M775.0 422.9l1.6 6.7M772.5 454.6L775.5 441.0M775.5 441.0l-4.1 5.6M775.5 441.0l1.4 6.8M772.5 472.8L775.3 458.8M775.3 458.8l-4.1 5.8M775.3 458.8l1.6 7.0M772.5 490.9L775.5 476.8M775.5 476.8l-4.3 5.8M775.5 476.8l1.5 7.1M772.5 509.1L775.7 495.0M775.7 495.0l-4.3 5.8M775.7 495.0l1.4 7.1M772.5 527.3L776.2 513.3M776.2 513.3l-4.5 5.6M776.2 513.3l1.2 7.1M772.5 545.5L776.0 531.5M776.0 531.5l-4.5 5.7M776.0 531.5l1.2 7.1M772.5 563.6L777.1 549.8M777.1 549.8l-4.9 5.4M777.1 549.8l0.7 7.3M772.5 581.8L778.0 568.1M778.0 568.1l-5.3 5.1M778.0 568.1l0.3 7.4M772.5 600.0L777.7 586.0M777.7 586.0l-5.2 5.3M777.7 586.0l0.5 7.5M772.5 618.1L777.0 603.6M777.0 603.6l-5.0 5.7M777.0 603.6l0.9 7.6M772.5 636.3L777.0 621.4M777.0 621.4l-5.1 5.9M777.0 621.4l1.0 7.7M772.5 654.5L778.3 639.7M778.3 639.7l-5.6 5.6M778.3 639.7l0.4 7.9M772.5 672.7L779.7 658.3M779.7 658.3l-6.2 5.1M779.7 658.3l-0.4 8.0M772.5 690.9L780.3 676.5M780.3 676.5l-6.5 5.0M780.3 676.5l-0.7 8.1M772.5 709.0L780.0 694.6M780.0 694.6l-6.4 5.1M780.0 694.6l-0.5 8.1M772.5 727.2L779.9 712.6M779.9 712.6l-6.3 5.2M779.9 712.6l-0.4 8.1M772.5 745.4L780.0 730.9M780.0 730.9l-6.4 5.1M780.0 730.9l-0.5 8.1M772.5 763.5L779.8 749.0M779.8 749.0l-6.3 5.2M779.8 749.0l-0.4 8.1M790.7 36.5L779.9 29.0M779.9 29.0l3.4 5.7M779.9 29.0l6.4 1.3M790.7 54.7L780.5 47.4M780.5 47.4l3.2 5.4M780.5 47.4l6.1 1.3M790.7 72.9L781.8 65.4M781.8 65.4l2.5 5.2M781.8 65.4l5.6 1.6M790.7 91.1L783.1 83.0M783.1 83.0l1.8 5.2M783.1 83.0l5.1 2.2M790.7 109.2L784.9 101.1M784.9 101.1l1.0 4.9M784.9 101.1l4.3 2.5M790.7 127.4L785.8 119.3M785.8 119.3l0.6 4.7M785.8 119.3l3.9 2.7M790.7 145.6L786.4 137.2M786.4 137.2l0.3 4.7M786.4 137.2l3.7 3.0M790.7 163.8L787.4 154.9M787.4 154.9l-0.3 4.7M787.4 154.9l3.3 3.4M790.7 181.9L788.3 172.2M788.3 172.2l-0.9 4.9M788.3 172.2l3.0 4.0M790.7 200.1L790.3 190.1M790.3 190.1l-1.9 4.6M790.3 190.1l2.2 4.5M790.7 218.3L789.9 208.1M789.9 208.1l-1.7 4.8M789.9 208.1l2.4 4.5M790.7 236.5L790.5 225.4M790.5 225.4l-2.2 5.1M790.5 225.4l2.3 5.0M790.7 254.7L790.2 242.4M790.2 242.4l-2.3 5.7M790.2 242.4l2.7 5.5M790.7 272.8L790.9 259.7M790.9 259.7l-2.8 5.9M790.9 259.7l2.5 6.1M790.7 291.0L790.5 277.9M790.5 277.9l-2.6 6.0M790.5 277.9l2.7 6.0M790.7 309.2L790.8 296.4M790.8 296.4l-2.7 5.8M790.8 296.4l2.5 5.9M790.7 327.4L790.7 315.2M790.7 315.2l-2.5 5.5M790.7 315.2l2.4 5.6M790.7 345.5L791.0 333.7M791.0 333.7l-2.6 5.4M791.0 333.7l2.3 5.5M790.7 363.7L791.4 351.8M791.4 351.8l-2.7 5.3M791.4 351.8l2.1 5.6M790.7 381.9L792.2 370.1M792.2 370.1l-3.1 5.1M792.2 370.1l1.7 5.7M790.7 400.1L792.3 386.1M792.3 386.1l-3.6 6.1M792.3 386.1l2.1 6.7M790.7 418.2L792.8 404.1M792.8 404.1l-3.9 6.0M792.8 404.1l1.9 6.9M790.7 436.4L792.9 422.1M792.9 422.1l-3.9 6.1M792.9 422.1l1.9 7.0M790.7 454.6L793.4 440.2M793.4 440.2l-4.2 6.0M793.4 440.2l1.7 7.1M790.7 472.8L793.9 458.2M793.9 458.2l-4.4 6.0M793.9 458.2l1.5 7.3M790.7 490.9L794.5 476.2M794.5 476.2l-4.8 6.0M794.5 476.2l1.2 7.5M790.7 509.1L794.2 494.2M794.2 494.2l-4.6 6.1M794.2 494.2l1.4 7.5M790.7 527.3L794.3 512.4M794.3 512.4l-4.7 6.0M794.3 512.4l1.4 7.5M790.7 545.5L794.5 530.7M794.5 530.7l-4.8 6.0M794.5 530.7l1.3 7.5M790.7 563.6L796.3 549.3M796.3 549.3l-5.5 5.4M796.3 549.3l0.3 7.7M790.7 581.8L797.2 567.6M797.2 567.6l-5.8 5.1M797.2 567.6l-0.1 7.8M790.7 600.0L796.8 585.5M796.8 585.5l-5.7 5.4M796.8 585.5l0.2 7.9M790.7 618.1L795.8 602.9M795.8 602.9l-5.4 5.9M795.8 602.9l0.8 8.0M790.7 636.3L795.6 620.8M795.6 620.8l-5.4 6.1M795.6 620.8l0.9 8.1M790.7 654.5L797.1 639.4M797.1 639.4l-6.0 5.6M797.1 639.4l0.2 8.2M790.7 672.7L798.6 658.0M798.6 658.0l-6.6 5.1M798.6 658.0l-0.7 8.3M790.7 690.9L799.1 676.2M799.1 676.2l-6.8 5.0M799.1 676.2l-0.9 8.4M790.7 709.0L798.8 694.2M798.8 694.2l-6.7 5.1M798.8 694.2l-0.7 8.4M790.7 727.2L798.5 712.2M798.5 712.2l-6.6 5.3M798.5 712.2l-0.5 8.4M790.7 745.4L798.6 730.4M798.6 730.4l-6.7 5.2M798.6 730.4l-0.6 8.4M790.7 763.5L798.5 748.5M798.5 748.5l-6.6 5.3M798.5 748.5l-0.5 8.4"/><polyline fill="none" stroke="#000" stroke-width="1" shape-rendering="crispEdges" points="238.0,27.5 234.0,31.0 236.0,34.0 237.0,37.0 235.0,44.0 233.5,50.0 234.5,53.0 229.0,60.0 228.0,64.0 224.0,68.0 222.5,70.0 225.0,73.0 228.0,75.0 228.5,78.0 227.5,84.0 226.0,90.0 222.0,95.0 217.5,96.5 215.0,97.5 212.5,100.5 216.0,104.0 216.5,109.0 216.5,114.0 213.5,120.0 217.0,126.0 220.5,130.5 217.0,136.0 212.0,143.0"/><polyline fill="none" stroke="#000" stroke-width="1" shape-rendering="crispEdges" points="212.0,143.0 211.5,146.0 211.5,156.0 213.5,167.0 214.0,170.0 217.0,174.5 216.0,179.0 216.0,184.0 214.0,187.0 212.5,188.0 204.0,187.5 197.5,187.5 195.0,189.5 197.0,191.5 196.5,196.0 195.5,198.0 196.5,202.0 197.0,203.5 195.5,204.5 192.0,208.0 190.5,210.5 189.0,215.0 188.5,224.0 188.0,225.0 187.5,227.0 187.5,235.0 188.5,237.0 193.5,243.0 194.5,247.0 195.0,254.0 197.0,255.0 199.0,257.0 199.5,262.0 199.0,266.0 199.5,268.5 197.0,271.0 195.0,273.0 193.0,274.0 185.0,275.0 187.0,276.5 191.0,278.5 193.5,281.0 191.0,284.0 190.0,287.0 192.0,290.0 192.5,292.0 197.0,295.0 200.0,296.5 203.0,300.0 204.5,302.0 208.0,304.0 211.0,306.0 214.0,308.5 218.0,309.5 222.0,311.0 226.5,311.5 229.0,313.0 232.0,315.0 236.0,314.0 240.0,317.0 244.0,320.0 249.0,322.0 253.0,325.0 256.0,326.5 262.0,328.0 266.0,333.0 273.0,340.0 279.0,347.0 285.0,354.0 290.0,358.0 290.5,360.0 289.0,363.0 284.0,368.5 280.0,374.0 274.0,380.0 273.0,384.0 272.0,388.0 272.5,393.0 274.0,400.0 277.0,407.0 281.0,413.0 286.0,418.0 291.0,422.0 296.0,424.0 301.0,425.5 305.0,427.0 309.0,425.0 314.0,424.0 317.0,422.5 319.0,423.0 320.5,427.0 321.5,432.0 323.0,441.0 324.0,450.0 324.5,460.0 324.0,465.0 323.0,467.0 319.5,470.0 316.0,474.0 312.0,479.0 308.0,484.0 304.0,490.0 300.0,495.0 298.0,499.0 296.0,502.0 292.0,506.0 288.0,510.5 284.0,513.0 281.0,516.0 277.0,518.5 275.0,522.0 271.0,525.0 266.0,531.0 263.0,535.0 261.5,539.0 261.0,543.0 261.5,551.0 259.5,555.0 256.0,556.5 250.0,560.0 244.0,563.5 238.0,567.0 233.0,570.0 227.0,572.0 222.0,574.0 217.0,576.0 212.0,578.0 206.0,580.0 200.0,581.5 193.0,583.0 186.0,586.0 178.0,588.0 172.0,589.5 165.0,591.5 160.0,593.0 150.0,596.0 140.0,598.0 127.0,601.0 115.0,603.0 105.0,605.0 97.0,606.0 90.0,607.0 82.0,607.5 60.0,610.0 31.0,614.0 20.0,616.0 10.0,617.0 0.0,618.0"/><polyline fill="none" stroke="#000" stroke-width="1" shape-rendering="crispEdges" points="212.0,143.0 213.0,146.0 216.5,153.0 217.5,163.0 218.0,168.0 220.0,170.0 223.0,173.0 223.5,178.0 222.0,180.0 221.5,184.0 219.0,186.5 216.0,189.0 212.0,189.5 207.0,189.5 202.5,190.0 201.0,192.0 200.5,198.0 201.0,205.0 199.0,206.5 197.0,209.0 196.5,210.5 199.0,213.5 199.5,215.0 197.5,218.0 196.0,220.0 195.5,222.0 196.0,225.0 195.5,230.0 195.5,240.0 197.5,248.0 201.0,251.0 205.0,253.5 209.0,259.0 211.0,263.0 213.0,266.0 218.5,266.5 221.5,269.0 224.0,272.0 228.0,274.0 233.5,280.0 235.0,284.0 237.0,287.0 239.0,288.0 240.0,289.5 245.0,288.0 252.0,285.5 256.5,285.0 260.5,287.0 266.0,285.0 270.0,285.5 273.5,285.0 283.0,286.0 290.5,287.5 296.0,293.0 300.0,295.0 306.0,300.0 309.0,303.5 315.0,305.5 321.0,307.0 327.0,310.0 332.0,310.5 335.0,309.5 340.0,309.0 344.0,310.5 345.0,312.0 343.0,314.0 342.5,316.5 345.0,318.0 350.0,320.0 356.0,320.0 357.0,318.5 359.0,321.5 362.0,321.5 366.0,319.5 370.0,318.0 373.0,317.0 377.0,314.0 382.0,312.0 387.0,310.5 390.0,311.0 393.0,310.0 396.0,310.0 400.0,311.5 403.0,311.5 407.0,312.5 412.0,312.5 417.0,313.5 421.0,315.0 423.0,318.0 426.0,319.0 432.0,320.0 433.0,318.5 438.0,318.0 442.0,320.0 445.0,322.0 448.0,324.5 450.0,323.0 455.0,321.0 462.0,318.0 468.0,315.0 475.0,312.5 482.0,310.0 488.0,307.5 494.0,305.0 497.0,303.0 498.0,301.0 500.0,303.0 503.0,303.5 507.0,303.0 508.5,300.0 512.0,296.0 515.0,293.0 518.0,290.0 522.0,288.0 526.0,286.0 530.0,284.0 535.0,282.0 534.0,278.0 536.0,273.0 539.0,268.0 543.0,265.0 546.0,261.0 551.0,258.0 553.0,254.0 555.0,246.0 557.0,241.0 561.0,236.0 566.0,233.0 572.0,230.0 578.0,226.0 583.0,221.0 587.0,218.0 592.0,214.0 598.0,210.0 602.0,206.0 605.0,203.0 610.0,197.5 615.0,192.0 618.0,188.0 620.0,184.0 622.5,178.0 625.0,172.0 628.0,167.0 630.0,162.0 632.0,156.0 634.5,149.0 636.0,144.0 638.5,138.0 641.0,133.0 644.0,128.0 647.0,126.0 651.0,123.0 654.0,120.5 656.0,119.0 660.0,116.0 664.0,112.0 667.0,110.0 671.0,107.0 677.5,102.0 690.0,93.0 702.5,85.8 720.0,74.5 727.0,69.0 740.0,55.0 750.0,41.0 764.0,27.5"/><polyline fill="none" stroke="#000" stroke-width="1" shape-rendering="crispEdges" points="497.0,303.0 495.0,301.0 494.0,299.0 497.0,298.0 500.0,298.5 499.0,296.5 495.0,295.5"/><polyline fill="none" stroke="#000" stroke-width="1" shape-rendering="crispEdges" points="350.0,44.0 360.0,43.0 368.0,42.0 372.0,41.5 376.0,42.0 381.0,41.5 384.0,40.0 386.0,38.0 388.0,36.0 391.0,33.0 395.0,31.5 400.0,30.0 405.0,28.5 410.0,29.0 412.0,32.0 418.0,38.0 421.0,44.0 425.0,50.0 430.0,54.0 436.0,56.0 441.0,60.0 446.0,64.0 452.0,67.5 459.0,69.0 466.0,70.0 472.0,73.0 478.0,76.5 483.0,80.0 488.0,85.0 493.0,89.0 499.0,93.0 505.0,96.5 508.0,99.0 511.0,100.0 515.0,99.0 519.0,101.0 524.0,104.0 528.0,106.0 531.0,109.0 535.0,111.0 537.0,115.0 539.0,119.0 542.0,124.0 544.0,129.0 545.0,134.0 548.0,138.0 552.0,142.0 557.0,146.0 561.0,148.5 567.0,150.0 572.0,152.0 576.0,154.5 580.0,158.0 582.0,161.0 579.0,163.0 575.0,166.0 571.0,168.5 568.5,172.0 568.0,177.0 563.0,180.0 558.0,182.5 554.0,186.5 552.0,192.0 552.0,200.0 552.5,207.0 551.0,222.0 551.0,229.0 553.0,231.0 557.0,231.0 559.0,233.0 561.0,236.0"/><polyline fill="none" stroke="#000" stroke-width="1" shape-rendering="crispEdges" points="702.0,27.5 701.0,31.0 701.5,37.0 703.0,41.5 700.5,43.0 695.0,44.5 690.0,47.0 689.4,53.2 686.0,54.5 677.5,56.4 670.0,58.2 666.0,60.8 665.0,63.2 664.0,65.0 663.5,70.0 663.0,76.0 662.0,78.0 658.0,77.0 656.0,79.0 659.0,81.0 661.0,82.0 660.0,84.5 656.0,86.5 650.0,88.0 648.0,90.0 647.0,95.0 646.0,98.0 649.0,100.0 652.0,102.5 649.0,105.0 646.0,107.0 645.0,111.0 645.0,113.0 650.0,114.0 653.0,113.0 656.0,117.0 657.0,120.0"/><polyline fill="none" stroke="#000" stroke-width="1" shape-rendering="crispEdges" points="737.0,27.5 736.5,36.0 736.0,41.0 725.0,41.5 724.0,46.5 725.0,53.0 722.6,61.0 721.0,65.8 717.5,70.8 710.0,74.5 705.0,73.2 703.8,77.0 701.0,79.5 702.5,82.0 697.5,84.5 690.0,90.8 681.0,94.5 676.0,95.0 675.0,98.0 670.0,99.5 665.0,99.0 659.0,95.8 657.5,97.0 660.0,100.0 662.0,104.0 661.0,107.0 658.0,111.0 657.0,113.0 657.0,120.0"/><polyline fill="none" stroke="#000" stroke-width="1" shape-rendering="crispEdges" points="736.0,41.0 740.5,41.0 740.5,45.0 736.5,45.0"/><path d="M9.5 28V772M81.5 28V772M154.5 28V772M227.5 28V772M299.5 28V772M372.5 28V772M445.5 28V772M518.5 28V772M590.5 28V772M663.5 28V772M736.5 28V772M0 36.5H800M0 109.5H800M0 181.5H800M0 254.5H800M0 327.5H800M0 400.5H800M0 472.5H800M0 545.5H800M0 618.5H800M0 690.5H800M0 763.5H800" stroke="#808080" stroke-width="1" fill="none" shape-rendering="crispEdges"/><defs><linearGradient id="cb" x1="0" y1="1" x2="0" y2="0"><stop offset="0.0000" stop-color="rgb(0,0,245)"/><stop offset="0.2667" stop-color="rgb(0,255,255)"/><stop offset="0.4000" stop-color="rgb(0,255,0)"/><stop offset="0.5333" stop-color="rgb(255,255,0)"/><stop offset="0.6500" stop-color="rgb(255,165,0)"/><stop offset="0.8333" stop-color="rgb(255,0,0)"/><stop offset="1.0000" stop-color="rgb(190,0,125)"/></linearGradient></defs><rect x="32.5" y="160.5" width="48" height="607" fill="#fff" stroke="#000" stroke-width="1" shape-rendering="crispEdges"/><rect x="34" y="162" width="45" height="604" fill="url(#cb)"/><g font-family="Liberation Sans, DejaVu Sans, sans-serif" font-size="14.8" fill="#000"><text x="87" y="772.2">0</text><text x="87" y="620.3">8</text><text x="87" y="468.5">15</text><text x="87" y="316.6">22</text><text x="87" y="164.7">30</text><text x="34.5" y="147" font-size="16.5" textLength="43" lengthAdjust="spacing">[m/s]</text></g><path d="M1.5 28v4M1.5 773v-5M9.5 28v17M9.5 773v-17M16.5 28v4M16.5 773v-5M23.5 28v4M23.5 773v-5M30.5 28v4M30.5 773v-5M38.5 28v4M38.5 773v-5M45.5 28v9M45.5 773v-9M52.5 28v4M52.5 773v-5M60.5 28v4M60.5 773v-5M67.5 28v4M67.5 773v-5M74.5 28v4M74.5 773v-5M81.5 28v17M81.5 773v-17M89.5 28v4M89.5 773v-5M96.5 28v4M96.5 773v-5M103.5 28v4M103.5 773v-5M110.5 28v4M110.5 773v-5M118.5 28v9M118.5 773v-9M125.5 28v4M125.5 773v-5M132.5 28v4M132.5 773v-5M140.5 28v4M140.5 773v-5M147.5 28v4M147.5 773v-5M154.5 28v17M154.5 773v-17M161.5 28v4M161.5 773v-5M169.5 28v4M169.5 773v-5M176.5 28v4M176.5 773v-5M183.5 28v4M183.5 773v-5M190.5 28v9M190.5 773v-9M198.5 28v4M198.5 773v-5M205.5 28v4M205.5 773v-5M212.5 28v4M212.5 773v-5M219.5 28v4M219.5 773v-5M227.5 28v17M227.5 773v-17M234.5 28v4M234.5 773v-5M241.5 28v4M241.5 773v-5M249.5 28v4M249.5 773v-5M256.5 28v4M256.5 773v-5M263.5 28v9M263.5 773v-9M270.5 28v4M270.5 773v-5M278.5 28v4M278.5 773v-5M285.5 28v4M285.5 773v-5M292.5 28v4M292.5 773v-5M299.5 28v17M299.5 773v-17M307.5 28v4M307.5 773v-5M314.5 28v4M314.5 773v-5M321.5 28v4M321.5 773v-5M329.5 28v4M329.5 773v-5M336.5 28v9M336.5 773v-9M343.5 28v4M343.5 773v-5M350.5 28v4M350.5 773v-5M358.5 28v4M358.5 773v-5M365.5 28v4M365.5 773v-5M372.5 28v17M372.5 773v-17M379.5 28v4M379.5 773v-5M387.5 28v4M387.5 773v-5M394.5 28v4M394.5 773v-5M401.5 28v4M401.5 773v-5M408.5 28v9M408.5 773v-9M416.5 28v4M416.5 773v-5M423.5 28v4M423.5 773v-5M430.5 28v4M430.5 773v-5M438.5 28v4M438.5 773v-5M445.5 28v17M445.5 773v-17M452.5 28v4M452.5 773v-5M459.5 28v4M459.5 773v-5M467.5 28v4M467.5 773v-5M474.5 28v4M474.5 773v-5M481.5 28v9M481.5 773v-9M488.5 28v4M488.5 773v-5M496.5 28v4M496.5 773v-5M503.5 28v4M503.5 773v-5M510.5 28v4M510.5 773v-5M518.5 28v17M518.5 773v-17M525.5 28v4M525.5 773v-5M532.5 28v4M532.5 773v-5M539.5 28v4M539.5 773v-5M547.5 28v4M547.5 773v-5M554.5 28v9M554.5 773v-9M561.5 28v4M561.5 773v-5M568.5 28v4M568.5 773v-5M576.5 28v4M576.5 773v-5M583.5 28v4M583.5 773v-5M590.5 28v17M590.5 773v-17M598.5 28v4M598.5 773v-5M605.5 28v4M605.5 773v-5M612.5 28v4M612.5 773v-5M619.5 28v4M619.5 773v-5M627.5 28v9M627.5 773v-9M634.5 28v4M634.5 773v-5M641.5 28v4M641.5 773v-5M648.5 28v4M648.5 773v-5M656.5 28v4M656.5 773v-5M663.5 28v17M663.5 773v-17M670.5 28v4M670.5 773v-5M677.5 28v4M677.5 773v-5M685.5 28v4M685.5 773v-5M692.5 28v4M692.5 773v-5M699.5 28v9M699.5 773v-9M707.5 28v4M707.5 773v-5M714.5 28v4M714.5 773v-5M721.5 28v4M721.5 773v-5M728.5 28v4M728.5 773v-5M736.5 28v17M736.5 773v-17M743.5 28v4M743.5 773v-5M750.5 28v4M750.5 773v-5M757.5 28v4M757.5 773v-5M765.5 28v4M765.5 773v-5M772.5 28v9M772.5 773v-9M779.5 28v4M779.5 773v-5M787.5 28v4M787.5 773v-5M794.5 28v4M794.5 773v-5M0 29.5h5M800 29.5h-5M0 36.5h18M800 36.5h-18M0 43.5h5M800 43.5h-5M0 51.5h5M800 51.5h-5M0 58.5h5M800 58.5h-5M0 65.5h5M800 65.5h-5M0 72.5h9M800 72.5h-9M0 80.5h5M800 80.5h-5M0 87.5h5M800 87.5h-5M0 94.5h5M800 94.5h-5M0 101.5h5M800 101.5h-5M0 109.5h18M800 109.5h-18M0 116.5h5M800 116.5h-5M0 123.5h5M800 123.5h-5M0 131.5h5M800 131.5h-5M0 138.5h5M800 138.5h-5M0 145.5h9M800 145.5h-9M0 152.5h5M800 152.5h-5M0 160.5h5M800 160.5h-5M0 167.5h5M800 167.5h-5M0 174.5h5M800 174.5h-5M0 181.5h18M800 181.5h-18M0 189.5h5M800 189.5h-5M0 196.5h5M800 196.5h-5M0 203.5h5M800 203.5h-5M0 211.5h5M800 211.5h-5M0 218.5h9M800 218.5h-9M0 225.5h5M800 225.5h-5M0 232.5h5M800 232.5h-5M0 240.5h5M800 240.5h-5M0 247.5h5M800 247.5h-5M0 254.5h18M800 254.5h-18M0 261.5h5M800 261.5h-5M0 269.5h5M800 269.5h-5M0 276.5h5M800 276.5h-5M0 283.5h5M800 283.5h-5M0 291.5h9M800 291.5h-9M0 298.5h5M800 298.5h-5M0 305.5h5M800 305.5h-5M0 312.5h5M800 312.5h-5M0 320.5h5M800 320.5h-5M0 327.5h18M800 327.5h-18M0 334.5h5M800 334.5h-5M0 341.5h5M800 341.5h-5M0 349.5h5M800 349.5h-5M0 356.5h5M800 356.5h-5M0 363.5h9M800 363.5h-9M0 370.5h5M800 370.5h-5M0 378.5h5M800 378.5h-5M0 385.5h5M800 385.5h-5M0 392.5h5M800 392.5h-5M0 400.5h18M800 400.5h-18M0 407.5h5M800 407.5h-5M0 414.5h5M800 414.5h-5M0 421.5h5M800 421.5h-5M0 429.5h5M800 429.5h-5M0 436.5h9M800 436.5h-9M0 443.5h5M800 443.5h-5M0 450.5h5M800 450.5h-5M0 458.5h5M800 458.5h-5M0 465.5h5M800 465.5h-5M0 472.5h18M800 472.5h-18M0 480.5h5M800 480.5h-5M0 487.5h5M800 487.5h-5M0 494.5h5M800 494.5h-5M0 501.5h5M800 501.5h-5M0 509.5h9M800 509.5h-9M0 516.5h5M800 516.5h-5M0 523.5h5M800 523.5h-5M0 530.5h5M800 530.5h-5M0 538.5h5M800 538.5h-5M0 545.5h18M800 545.5h-18M0 552.5h5M800 552.5h-5M0 559.5h5M800 559.5h-5M0 567.5h5M800 567.5h-5M0 574.5h5M800 574.5h-5M0 581.5h9M800 581.5h-9M0 589.5h5M800 589.5h-5M0 596.5h5M800 596.5h-5M0 603.5h5M800 603.5h-5M0 610.5h5M800 610.5h-5M0 618.5h18M800 618.5h-18M0 625.5h5M800 625.5h-5M0 632.5h5M800 632.5h-5M0 639.5h5M800 639.5h-5M0 647.5h5M800 647.5h-5M0 654.5h9M800 654.5h-9M0 661.5h5M800 661.5h-5M0 669.5h5M800 669.5h-5M0 676.5h5M800 676.5h-5M0 683.5h5M800 683.5h-5M0 690.5h18M800 690.5h-18M0 698.5h5M800 698.5h-5M0 705.5h5M800 705.5h-5M0 712.5h5M800 712.5h-5M0 719.5h5M800 719.5h-5M0 727.5h9M800 727.5h-9M0 734.5h5M800 734.5h-5M0 741.5h5M800 741.5h-5M0 749.5h5M800 749.5h-5M0 756.5h5M800 756.5h-5M0 763.5h18M800 763.5h-18M0 770.5h5M800 770.5h-5M0 27.5H800M0.5 27V773" stroke="#000" stroke-width="1" fill="none" shape-rendering="crispEdges"/><g font-family="DejaVu Sans, sans-serif" font-weight="bold" font-size="24.7" fill="#808080"><text x="5" y="50" textLength="384.2" lengthAdjust="spacing" xml:space="preserve">modelo GEFS-WAVE (NCEP)</text><text x="5.3" y="73" textLength="494.5" lengthAdjust="spacing" xml:space="preserve">forecast date: 2025-11-30 06:00:00</text><text x="41.25" y="96" textLength="448.3" lengthAdjust="spacing" xml:space="preserve">valid date: 2025-12-13 18:00:00</text></g></svg></body></html>
